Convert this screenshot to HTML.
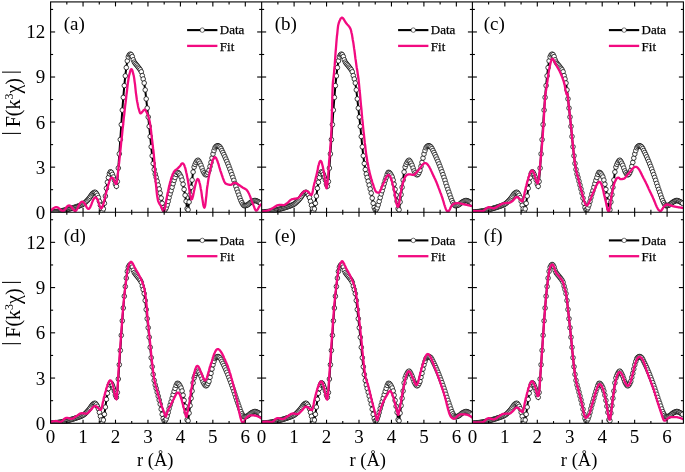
<!DOCTYPE html>
<html><head><meta charset="utf-8"><title>EXAFS fits</title>
<style>html,body{margin:0;padding:0;background:#fff}svg{display:block}</style>
</head><body>
<svg width="685" height="472" viewBox="0 0 685 472">
<rect width="685" height="472" fill="#fff"/>
<defs>
<clipPath id="cpa"><rect x="50.60" y="1.92" width="211.05" height="210.28"/></clipPath>
<clipPath id="cpb"><rect x="261.65" y="1.92" width="210.75" height="210.28"/></clipPath>
<clipPath id="cpc"><rect x="472.40" y="1.92" width="211.00" height="210.28"/></clipPath>
<clipPath id="cpd"><rect x="50.60" y="212.18" width="211.05" height="211.12"/></clipPath>
<clipPath id="cpe"><rect x="261.65" y="212.18" width="210.75" height="211.12"/></clipPath>
<clipPath id="cpf"><rect x="472.40" y="212.18" width="211.00" height="211.12"/></clipPath>
</defs>
<g clip-path="url(#cpa)">
<polyline points="50.6,212.2 51.6,212.1 52.6,212.0 53.6,211.9 54.6,211.8 55.6,211.7 56.6,211.6 57.6,211.5 58.6,211.3 59.6,211.2 60.6,211.0 61.6,210.8 62.6,210.6 63.6,210.4 64.5,210.2 65.5,210.0 66.5,209.7 67.5,209.5 68.5,209.2 69.5,208.9 70.5,208.6 71.5,208.3 72.5,208.0 73.5,207.7 74.5,207.4 75.5,207.1 76.5,206.7 77.5,206.4 78.5,206.1 79.5,205.7 80.5,205.3 81.5,204.9 82.5,204.4 83.5,203.8 84.5,203.1 85.5,202.2 86.5,201.2 87.5,200.2 88.5,199.0 89.5,197.9 90.4,196.5 91.4,195.0 92.4,193.7 93.4,192.9 94.4,192.3 95.4,192.4 96.4,193.5 97.4,195.3 98.4,197.6 99.4,201.3 100.4,205.3 101.4,208.8 102.4,211.7 103.4,208.9 104.4,203.3 105.4,196.1 106.4,188.3 107.4,182.2 108.4,177.6 109.4,173.7 110.4,171.8 111.4,172.4 112.4,174.4 113.4,177.0 114.4,180.1 115.4,184.0 116.4,186.3 117.3,181.5 118.3,168.1 119.3,153.9 120.3,139.6 121.3,124.6 122.3,110.1 123.3,97.4 124.3,85.6 125.3,75.9 126.3,67.6 127.3,60.9 128.3,56.9 129.3,54.9 130.3,54.1 131.3,54.7 132.3,56.6 133.3,59.8 134.3,62.1 135.3,63.5 136.3,64.7 137.3,65.9 138.3,67.2 139.3,68.4 140.3,69.8 141.3,71.8 142.3,75.6 143.2,79.0 144.2,83.0 145.2,89.9 146.2,98.9 147.2,108.1 148.2,117.0 149.2,126.4 150.2,136.5 151.2,146.8 152.2,155.8 153.2,163.5 154.2,169.5 155.2,174.0 156.2,177.4 157.2,181.2 158.2,185.1 159.2,189.0 160.2,193.1 161.2,198.1 162.2,203.3 163.2,207.5 164.2,209.8 165.2,209.6 166.2,207.8 167.2,204.9 168.2,201.4 169.1,197.6 170.1,193.9 171.1,190.7 172.1,187.2 173.1,183.7 174.1,180.4 175.1,177.5 176.1,174.4 177.1,172.4 178.1,172.5 179.1,173.5 180.1,175.1 181.1,177.0 182.1,180.1 183.1,184.2 184.1,189.4 185.1,195.2 186.1,201.3 187.1,208.7 188.1,209.8 189.1,202.0 190.1,194.6 191.1,187.3 192.1,180.0 193.1,172.0 194.1,167.1 195.1,164.4 196.0,162.5 197.0,160.9 198.0,160.2 199.0,161.3 200.0,163.2 201.0,165.3 202.0,168.1 203.0,170.9 204.0,172.8 205.0,174.3 206.0,174.9 207.0,174.3 208.0,172.6 209.0,170.3 210.0,166.4 211.0,162.4 212.0,158.1 213.0,154.0 214.0,150.6 215.0,147.8 216.0,146.5 217.0,145.8 218.0,145.7 219.0,146.2 220.0,147.0 221.0,148.5 221.9,150.5 222.9,152.5 223.9,154.6 224.9,156.8 225.9,159.1 226.9,161.4 227.9,163.9 228.9,166.4 229.9,169.1 230.9,171.8 231.9,174.6 232.9,177.4 233.9,180.3 234.9,183.4 235.9,186.4 236.9,189.4 237.9,192.2 238.9,195.1 239.9,198.0 240.9,200.6 241.9,202.7 242.9,204.4 243.9,205.6 244.9,205.7 245.9,205.5 246.9,205.2 247.9,204.7 248.8,203.9 249.8,203.1 250.8,202.3 251.8,201.7 252.8,201.2 253.8,200.7 254.8,200.5 255.8,200.6 256.8,201.0 257.8,201.5 258.8,202.0 259.8,202.6 260.8,203.3" fill="none" stroke="#000" stroke-width="2"/>
<g fill="#fff" stroke="#000" stroke-width="0.75">
<circle cx="50.6" cy="212.2" r="2.3"/>
<circle cx="51.6" cy="212.1" r="2.3"/>
<circle cx="52.6" cy="212.0" r="2.3"/>
<circle cx="53.6" cy="211.9" r="2.3"/>
<circle cx="54.6" cy="211.8" r="2.3"/>
<circle cx="55.6" cy="211.7" r="2.3"/>
<circle cx="56.6" cy="211.6" r="2.3"/>
<circle cx="57.6" cy="211.5" r="2.3"/>
<circle cx="58.6" cy="211.3" r="2.3"/>
<circle cx="59.6" cy="211.2" r="2.3"/>
<circle cx="60.6" cy="211.0" r="2.3"/>
<circle cx="61.6" cy="210.8" r="2.3"/>
<circle cx="62.6" cy="210.6" r="2.3"/>
<circle cx="63.6" cy="210.4" r="2.3"/>
<circle cx="64.5" cy="210.2" r="2.3"/>
<circle cx="65.5" cy="210.0" r="2.3"/>
<circle cx="66.5" cy="209.7" r="2.3"/>
<circle cx="67.5" cy="209.5" r="2.3"/>
<circle cx="68.5" cy="209.2" r="2.3"/>
<circle cx="69.5" cy="208.9" r="2.3"/>
<circle cx="70.5" cy="208.6" r="2.3"/>
<circle cx="71.5" cy="208.3" r="2.3"/>
<circle cx="72.5" cy="208.0" r="2.3"/>
<circle cx="73.5" cy="207.7" r="2.3"/>
<circle cx="74.5" cy="207.4" r="2.3"/>
<circle cx="75.5" cy="207.1" r="2.3"/>
<circle cx="76.5" cy="206.7" r="2.3"/>
<circle cx="77.5" cy="206.4" r="2.3"/>
<circle cx="78.5" cy="206.1" r="2.3"/>
<circle cx="79.5" cy="205.7" r="2.3"/>
<circle cx="80.5" cy="205.3" r="2.3"/>
<circle cx="81.5" cy="204.9" r="2.3"/>
<circle cx="82.5" cy="204.4" r="2.3"/>
<circle cx="83.5" cy="203.8" r="2.3"/>
<circle cx="84.5" cy="203.1" r="2.3"/>
<circle cx="85.5" cy="202.2" r="2.3"/>
<circle cx="86.5" cy="201.2" r="2.3"/>
<circle cx="87.5" cy="200.2" r="2.3"/>
<circle cx="88.5" cy="199.0" r="2.3"/>
<circle cx="89.5" cy="197.9" r="2.3"/>
<circle cx="90.4" cy="196.5" r="2.3"/>
<circle cx="91.4" cy="195.0" r="2.3"/>
<circle cx="92.4" cy="193.7" r="2.3"/>
<circle cx="93.4" cy="192.9" r="2.3"/>
<circle cx="94.4" cy="192.3" r="2.3"/>
<circle cx="95.4" cy="192.4" r="2.3"/>
<circle cx="96.4" cy="193.5" r="2.3"/>
<circle cx="97.4" cy="195.3" r="2.3"/>
<circle cx="98.4" cy="197.6" r="2.3"/>
<circle cx="99.4" cy="201.3" r="2.3"/>
<circle cx="100.4" cy="205.3" r="2.3"/>
<circle cx="101.4" cy="208.8" r="2.3"/>
<circle cx="102.4" cy="211.7" r="2.3"/>
<circle cx="103.4" cy="208.9" r="2.3"/>
<circle cx="104.4" cy="203.3" r="2.3"/>
<circle cx="105.4" cy="196.1" r="2.3"/>
<circle cx="106.4" cy="188.3" r="2.3"/>
<circle cx="107.4" cy="182.2" r="2.3"/>
<circle cx="108.4" cy="177.6" r="2.3"/>
<circle cx="109.4" cy="173.7" r="2.3"/>
<circle cx="110.4" cy="171.8" r="2.3"/>
<circle cx="111.4" cy="172.4" r="2.3"/>
<circle cx="112.4" cy="174.4" r="2.3"/>
<circle cx="113.4" cy="177.0" r="2.3"/>
<circle cx="114.4" cy="180.1" r="2.3"/>
<circle cx="115.4" cy="184.0" r="2.3"/>
<circle cx="116.4" cy="186.3" r="2.3"/>
<circle cx="117.3" cy="181.5" r="2.3"/>
<circle cx="118.3" cy="168.1" r="2.3"/>
<circle cx="119.3" cy="153.9" r="2.3"/>
<circle cx="120.3" cy="139.6" r="2.3"/>
<circle cx="121.3" cy="124.6" r="2.3"/>
<circle cx="122.3" cy="110.1" r="2.3"/>
<circle cx="123.3" cy="97.4" r="2.3"/>
<circle cx="124.3" cy="85.6" r="2.3"/>
<circle cx="125.3" cy="75.9" r="2.3"/>
<circle cx="126.3" cy="67.6" r="2.3"/>
<circle cx="127.3" cy="60.9" r="2.3"/>
<circle cx="128.3" cy="56.9" r="2.3"/>
<circle cx="129.3" cy="54.9" r="2.3"/>
<circle cx="130.3" cy="54.1" r="2.3"/>
<circle cx="131.3" cy="54.7" r="2.3"/>
<circle cx="132.3" cy="56.6" r="2.3"/>
<circle cx="133.3" cy="59.8" r="2.3"/>
<circle cx="134.3" cy="62.1" r="2.3"/>
<circle cx="135.3" cy="63.5" r="2.3"/>
<circle cx="136.3" cy="64.7" r="2.3"/>
<circle cx="137.3" cy="65.9" r="2.3"/>
<circle cx="138.3" cy="67.2" r="2.3"/>
<circle cx="139.3" cy="68.4" r="2.3"/>
<circle cx="140.3" cy="69.8" r="2.3"/>
<circle cx="141.3" cy="71.8" r="2.3"/>
<circle cx="142.3" cy="75.6" r="2.3"/>
<circle cx="143.2" cy="79.0" r="2.3"/>
<circle cx="144.2" cy="83.0" r="2.3"/>
<circle cx="145.2" cy="89.9" r="2.3"/>
<circle cx="146.2" cy="98.9" r="2.3"/>
<circle cx="147.2" cy="108.1" r="2.3"/>
<circle cx="148.2" cy="117.0" r="2.3"/>
<circle cx="149.2" cy="126.4" r="2.3"/>
<circle cx="150.2" cy="136.5" r="2.3"/>
<circle cx="151.2" cy="146.8" r="2.3"/>
<circle cx="152.2" cy="155.8" r="2.3"/>
<circle cx="153.2" cy="163.5" r="2.3"/>
<circle cx="154.2" cy="169.5" r="2.3"/>
<circle cx="155.2" cy="174.0" r="2.3"/>
<circle cx="156.2" cy="177.4" r="2.3"/>
<circle cx="157.2" cy="181.2" r="2.3"/>
<circle cx="158.2" cy="185.1" r="2.3"/>
<circle cx="159.2" cy="189.0" r="2.3"/>
<circle cx="160.2" cy="193.1" r="2.3"/>
<circle cx="161.2" cy="198.1" r="2.3"/>
<circle cx="162.2" cy="203.3" r="2.3"/>
<circle cx="163.2" cy="207.5" r="2.3"/>
<circle cx="164.2" cy="209.8" r="2.3"/>
<circle cx="165.2" cy="209.6" r="2.3"/>
<circle cx="166.2" cy="207.8" r="2.3"/>
<circle cx="167.2" cy="204.9" r="2.3"/>
<circle cx="168.2" cy="201.4" r="2.3"/>
<circle cx="169.1" cy="197.6" r="2.3"/>
<circle cx="170.1" cy="193.9" r="2.3"/>
<circle cx="171.1" cy="190.7" r="2.3"/>
<circle cx="172.1" cy="187.2" r="2.3"/>
<circle cx="173.1" cy="183.7" r="2.3"/>
<circle cx="174.1" cy="180.4" r="2.3"/>
<circle cx="175.1" cy="177.5" r="2.3"/>
<circle cx="176.1" cy="174.4" r="2.3"/>
<circle cx="177.1" cy="172.4" r="2.3"/>
<circle cx="178.1" cy="172.5" r="2.3"/>
<circle cx="179.1" cy="173.5" r="2.3"/>
<circle cx="180.1" cy="175.1" r="2.3"/>
<circle cx="181.1" cy="177.0" r="2.3"/>
<circle cx="182.1" cy="180.1" r="2.3"/>
<circle cx="183.1" cy="184.2" r="2.3"/>
<circle cx="184.1" cy="189.4" r="2.3"/>
<circle cx="185.1" cy="195.2" r="2.3"/>
<circle cx="186.1" cy="201.3" r="2.3"/>
<circle cx="187.1" cy="208.7" r="2.3"/>
<circle cx="188.1" cy="209.8" r="2.3"/>
<circle cx="189.1" cy="202.0" r="2.3"/>
<circle cx="190.1" cy="194.6" r="2.3"/>
<circle cx="191.1" cy="187.3" r="2.3"/>
<circle cx="192.1" cy="180.0" r="2.3"/>
<circle cx="193.1" cy="172.0" r="2.3"/>
<circle cx="194.1" cy="167.1" r="2.3"/>
<circle cx="195.1" cy="164.4" r="2.3"/>
<circle cx="196.0" cy="162.5" r="2.3"/>
<circle cx="197.0" cy="160.9" r="2.3"/>
<circle cx="198.0" cy="160.2" r="2.3"/>
<circle cx="199.0" cy="161.3" r="2.3"/>
<circle cx="200.0" cy="163.2" r="2.3"/>
<circle cx="201.0" cy="165.3" r="2.3"/>
<circle cx="202.0" cy="168.1" r="2.3"/>
<circle cx="203.0" cy="170.9" r="2.3"/>
<circle cx="204.0" cy="172.8" r="2.3"/>
<circle cx="205.0" cy="174.3" r="2.3"/>
<circle cx="206.0" cy="174.9" r="2.3"/>
<circle cx="207.0" cy="174.3" r="2.3"/>
<circle cx="208.0" cy="172.6" r="2.3"/>
<circle cx="209.0" cy="170.3" r="2.3"/>
<circle cx="210.0" cy="166.4" r="2.3"/>
<circle cx="211.0" cy="162.4" r="2.3"/>
<circle cx="212.0" cy="158.1" r="2.3"/>
<circle cx="213.0" cy="154.0" r="2.3"/>
<circle cx="214.0" cy="150.6" r="2.3"/>
<circle cx="215.0" cy="147.8" r="2.3"/>
<circle cx="216.0" cy="146.5" r="2.3"/>
<circle cx="217.0" cy="145.8" r="2.3"/>
<circle cx="218.0" cy="145.7" r="2.3"/>
<circle cx="219.0" cy="146.2" r="2.3"/>
<circle cx="220.0" cy="147.0" r="2.3"/>
<circle cx="221.0" cy="148.5" r="2.3"/>
<circle cx="221.9" cy="150.5" r="2.3"/>
<circle cx="222.9" cy="152.5" r="2.3"/>
<circle cx="223.9" cy="154.6" r="2.3"/>
<circle cx="224.9" cy="156.8" r="2.3"/>
<circle cx="225.9" cy="159.1" r="2.3"/>
<circle cx="226.9" cy="161.4" r="2.3"/>
<circle cx="227.9" cy="163.9" r="2.3"/>
<circle cx="228.9" cy="166.4" r="2.3"/>
<circle cx="229.9" cy="169.1" r="2.3"/>
<circle cx="230.9" cy="171.8" r="2.3"/>
<circle cx="231.9" cy="174.6" r="2.3"/>
<circle cx="232.9" cy="177.4" r="2.3"/>
<circle cx="233.9" cy="180.3" r="2.3"/>
<circle cx="234.9" cy="183.4" r="2.3"/>
<circle cx="235.9" cy="186.4" r="2.3"/>
<circle cx="236.9" cy="189.4" r="2.3"/>
<circle cx="237.9" cy="192.2" r="2.3"/>
<circle cx="238.9" cy="195.1" r="2.3"/>
<circle cx="239.9" cy="198.0" r="2.3"/>
<circle cx="240.9" cy="200.6" r="2.3"/>
<circle cx="241.9" cy="202.7" r="2.3"/>
<circle cx="242.9" cy="204.4" r="2.3"/>
<circle cx="243.9" cy="205.6" r="2.3"/>
<circle cx="244.9" cy="205.7" r="2.3"/>
<circle cx="245.9" cy="205.5" r="2.3"/>
<circle cx="246.9" cy="205.2" r="2.3"/>
<circle cx="247.9" cy="204.7" r="2.3"/>
<circle cx="248.8" cy="203.9" r="2.3"/>
<circle cx="249.8" cy="203.1" r="2.3"/>
<circle cx="250.8" cy="202.3" r="2.3"/>
<circle cx="251.8" cy="201.7" r="2.3"/>
<circle cx="252.8" cy="201.2" r="2.3"/>
<circle cx="253.8" cy="200.7" r="2.3"/>
<circle cx="254.8" cy="200.5" r="2.3"/>
<circle cx="255.8" cy="200.6" r="2.3"/>
<circle cx="256.8" cy="201.0" r="2.3"/>
<circle cx="257.8" cy="201.5" r="2.3"/>
<circle cx="258.8" cy="202.0" r="2.3"/>
<circle cx="259.8" cy="202.6" r="2.3"/>
<circle cx="260.8" cy="203.3" r="2.3"/>
</g>
<polyline points="50.6,211.0 50.9,210.6 51.2,210.2 51.6,209.9 51.9,209.5 52.2,209.2 52.5,208.9 52.9,208.7 53.2,208.4 53.5,208.2 53.8,208.0 54.2,207.8 54.5,207.6 54.8,207.5 55.1,207.4 55.5,207.3 55.8,207.2 56.1,207.2 56.4,207.2 56.8,207.2 57.1,207.3 57.4,207.4 57.7,207.5 58.1,207.6 58.4,207.8 58.7,208.0 59.0,208.3 59.4,208.6 59.7,208.9 60.0,209.2 60.3,209.5 60.7,209.8 61.0,210.1 61.3,210.3 61.6,210.6 62.0,210.7 62.3,210.9 62.6,211.0 62.9,211.0 63.3,210.9 63.6,210.8 63.9,210.6 64.2,210.3 64.6,209.9 64.9,209.5 65.2,209.1 65.5,208.6 65.9,208.2 66.2,207.7 66.5,207.2 66.8,206.7 67.1,206.4 67.5,206.1 67.8,205.9 68.1,205.7 68.4,205.6 68.8,205.5 69.1,205.4 69.4,205.5 69.7,205.6 70.1,205.7 70.4,205.9 70.7,206.1 71.0,206.4 71.4,206.7 71.7,207.2 72.0,207.7 72.3,208.2 72.7,208.6 73.0,209.1 73.3,209.5 73.6,209.9 74.0,210.3 74.3,210.6 74.6,210.8 74.9,210.9 75.3,211.0 75.6,210.9 75.9,210.7 76.2,210.4 76.6,210.0 76.9,209.5 77.2,209.0 77.5,208.3 77.9,207.7 78.2,207.0 78.5,206.3 78.8,205.5 79.2,204.8 79.5,204.2 79.8,203.7 80.1,203.2 80.5,202.8 80.8,202.4 81.1,202.1 81.4,201.9 81.8,201.8 82.1,201.7 82.4,201.7 82.7,201.8 83.1,202.0 83.4,202.2 83.7,202.5 84.0,202.8 84.3,203.2 84.7,203.6 85.0,204.2 85.3,204.8 85.6,205.4 86.0,206.0 86.3,206.6 86.6,207.1 86.9,207.6 87.3,208.1 87.6,208.4 87.9,208.7 88.2,208.8 88.6,208.9 88.9,208.8 89.2,208.6 89.5,208.2 89.9,207.8 90.2,207.2 90.5,206.5 90.8,205.8 91.2,205.0 91.5,204.2 91.8,203.3 92.1,202.4 92.5,201.5 92.8,200.7 93.1,200.1 93.4,199.5 93.8,198.9 94.1,198.4 94.4,198.0 94.7,197.7 95.1,197.5 95.4,197.5 95.7,197.5 96.0,197.6 96.4,197.9 96.7,198.3 97.0,198.8 97.3,199.3 97.7,200.0 98.0,200.7 98.3,201.6 98.6,202.7 99.0,203.7 99.3,204.8 99.6,205.7 99.9,206.6 100.2,207.3 100.6,207.8 100.9,208.2 101.2,208.3 101.5,208.2 101.9,207.9 102.2,207.3 102.5,206.7 102.8,205.8 103.2,204.8 103.5,203.7 103.8,202.6 104.1,201.3 104.5,199.9 104.8,198.6 105.1,197.2 105.4,195.7 105.8,194.3 106.1,193.0 106.4,191.7 106.7,190.5 107.1,189.2 107.4,188.2 107.7,187.1 108.0,185.9 108.4,184.7 108.7,183.5 109.0,182.5 109.3,181.5 109.7,180.6 110.0,179.8 110.3,179.1 110.6,178.6 111.0,178.1 111.3,177.8 111.6,177.7 111.9,177.6 112.3,177.7 112.6,178.0 112.9,178.3 113.2,178.6 113.6,179.0 113.9,179.9 114.2,180.8 114.5,181.7 114.9,182.4 115.2,183.1 115.5,183.6 115.8,184.0 116.1,184.1 116.5,183.6 116.8,182.3 117.1,180.2 117.4,177.6 117.8,174.8 118.1,171.7 118.4,168.7 118.7,165.9 119.1,163.2 119.4,160.2 119.7,157.1 120.0,153.9 120.4,150.7 120.7,147.6 121.0,144.6 121.3,141.5 121.7,138.5 122.0,135.4 122.3,132.3 122.6,129.2 123.0,126.2 123.3,123.1 123.6,120.1 123.9,117.1 124.3,114.1 124.6,111.2 124.9,108.3 125.2,105.5 125.6,102.7 125.9,100.0 126.2,97.3 126.5,94.5 126.9,91.6 127.2,88.8 127.5,86.1 127.8,83.5 128.2,81.0 128.5,78.9 128.8,77.0 129.1,75.5 129.5,74.2 129.8,72.9 130.1,71.7 130.4,70.6 130.8,69.8 131.1,69.3 131.4,69.1 131.7,69.3 132.0,69.8 132.4,70.6 132.7,71.7 133.0,72.9 133.3,74.2 133.7,75.5 134.0,77.1 134.3,79.1 134.6,81.6 135.0,84.2 135.3,87.1 135.6,90.0 135.9,92.8 136.3,95.5 136.6,97.9 136.9,100.0 137.2,101.8 137.6,103.6 137.9,105.3 138.2,106.8 138.5,108.1 138.9,109.3 139.2,110.4 139.5,111.5 139.8,112.4 140.2,113.1 140.5,113.4 140.8,113.3 141.1,113.1 141.5,112.8 141.8,112.4 142.1,112.0 142.4,111.6 142.8,111.3 143.1,110.9 143.4,110.6 143.7,110.2 144.1,109.9 144.4,109.7 144.7,109.6 145.0,109.7 145.4,110.0 145.7,110.5 146.0,111.1 146.3,111.7 146.7,112.4 147.0,113.1 147.3,113.8 147.6,114.5 148.0,115.4 148.3,116.3 148.6,117.3 148.9,118.4 149.2,119.7 149.6,121.0 149.9,122.7 150.2,124.6 150.5,126.9 150.9,129.5 151.2,132.2 151.5,135.0 151.8,137.9 152.2,140.7 152.5,143.4 152.8,146.0 153.1,148.7 153.5,151.5 153.8,154.5 154.1,157.8 154.4,161.6 154.8,166.9 155.1,173.0 155.4,178.1 155.7,181.9 156.1,185.6 156.4,189.0 156.7,192.2 157.0,194.9 157.4,197.3 157.7,199.1 158.0,200.5 158.3,201.5 158.7,202.3 159.0,203.0 159.3,203.6 159.6,204.1 160.0,204.6 160.3,205.1 160.6,205.6 160.9,206.2 161.3,206.8 161.6,207.5 161.9,208.2 162.2,208.9 162.6,209.6 162.9,210.1 163.2,210.6 163.5,210.9 163.9,211.0 164.2,210.7 164.5,210.0 164.8,208.8 165.1,207.3 165.5,205.6 165.8,203.6 166.1,201.5 166.4,199.5 166.8,197.5 167.1,195.9 167.4,194.3 167.7,192.7 168.1,191.2 168.4,189.7 168.7,188.2 169.0,186.8 169.4,185.4 169.7,184.0 170.0,182.8 170.3,181.5 170.7,180.3 171.0,179.2 171.3,178.1 171.6,177.1 172.0,176.1 172.3,175.2 172.6,174.4 172.9,173.7 173.3,173.0 173.6,172.4 173.9,171.9 174.2,171.4 174.6,171.0 174.9,170.6 175.2,170.3 175.5,170.1 175.9,169.8 176.2,169.6 176.5,169.4 176.8,169.1 177.2,168.8 177.5,168.5 177.8,168.2 178.1,168.0 178.5,167.7 178.8,167.4 179.1,167.1 179.4,166.7 179.8,166.4 180.1,166.0 180.4,165.6 180.7,165.2 181.0,164.5 181.4,163.9 181.7,163.7 182.0,163.5 182.3,163.4 182.7,163.4 183.0,163.5 183.3,163.7 183.6,164.1 184.0,164.7 184.3,165.4 184.6,166.2 184.9,167.1 185.3,168.2 185.6,169.4 185.9,170.8 186.2,172.2 186.6,173.7 186.9,175.3 187.2,176.9 187.5,178.6 187.9,180.4 188.2,182.2 188.5,184.0 188.8,186.3 189.2,188.5 189.5,190.8 189.8,192.9 190.1,194.8 190.5,196.5 190.8,197.9 191.1,198.8 191.4,199.4 191.8,199.4 192.1,199.0 192.4,198.2 192.7,197.1 193.1,195.8 193.4,194.3 193.7,192.8 194.0,191.1 194.4,189.5 194.7,188.0 195.0,186.7 195.3,185.2 195.7,183.7 196.0,182.5 196.3,181.5 196.6,180.6 196.9,179.8 197.3,179.3 197.6,179.0 197.9,179.0 198.2,179.3 198.6,179.8 198.9,180.5 199.2,181.5 199.5,182.7 199.9,184.1 200.2,185.6 200.5,187.2 200.8,188.9 201.2,190.7 201.5,192.7 201.8,195.0 202.1,197.3 202.5,199.6 202.8,201.7 203.1,203.7 203.4,205.3 203.8,206.6 204.1,207.4 204.4,207.7 204.7,207.2 205.1,206.0 205.4,204.1 205.7,201.6 206.0,198.7 206.4,195.6 206.7,192.3 207.0,189.0 207.3,186.7 207.7,184.4 208.0,182.2 208.3,180.1 208.6,178.0 209.0,176.0 209.3,174.2 209.6,172.5 209.9,170.9 210.3,169.3 210.6,167.9 210.9,166.5 211.2,165.2 211.6,164.0 211.9,162.9 212.2,161.8 212.5,160.8 212.8,159.9 213.2,159.2 213.5,158.5 213.8,157.9 214.1,157.5 214.5,157.3 214.8,157.1 215.1,157.2 215.4,157.4 215.8,157.7 216.1,158.2 216.4,158.7 216.7,159.4 217.1,160.2 217.4,161.0 217.7,161.9 218.0,162.9 218.4,163.8 218.7,164.9 219.0,166.0 219.3,167.1 219.7,168.3 220.0,169.4 220.3,170.5 220.6,171.5 221.0,172.4 221.3,173.3 221.6,174.2 221.9,175.2 222.3,176.2 222.6,177.1 222.9,178.1 223.2,179.0 223.6,179.8 223.9,180.7 224.2,181.4 224.5,182.1 224.9,182.6 225.2,183.1 225.5,183.4 225.8,183.7 226.2,183.8 226.5,183.9 226.8,184.1 227.1,184.2 227.5,184.3 227.8,184.4 228.1,184.5 228.4,184.6 228.8,184.6 229.1,184.7 229.4,184.8 229.7,184.8 230.0,184.8 230.4,184.9 230.7,184.9 231.0,184.8 231.3,184.7 231.7,184.5 232.0,184.3 232.3,184.0 232.6,183.8 233.0,183.5 233.3,183.2 233.6,183.1 233.9,183.0 234.3,183.0 234.6,182.9 234.9,182.9 235.2,182.9 235.6,183.0 235.9,183.1 236.2,183.2 236.5,183.4 236.9,183.6 237.2,183.8 237.5,184.0 237.8,184.2 238.2,184.4 238.5,184.7 238.8,184.9 239.1,185.1 239.5,185.3 239.8,185.5 240.1,185.7 240.4,186.0 240.8,186.2 241.1,186.4 241.4,186.7 241.7,186.9 242.1,187.1 242.4,187.4 242.7,187.6 243.0,187.8 243.4,187.9 243.7,188.1 244.0,188.3 244.3,188.4 244.7,188.6 245.0,188.8 245.3,188.9 245.6,189.1 245.9,189.3 246.3,189.6 246.6,189.9 246.9,190.3 247.2,190.7 247.6,191.1 247.9,191.6 248.2,192.2 248.5,192.8 248.9,193.4 249.2,194.1 249.5,194.9 249.8,195.6 250.2,196.5 250.5,197.4 250.8,198.4 251.1,199.3 251.5,200.2 251.8,201.1 252.1,201.9 252.4,202.7 252.8,203.4 253.1,204.2 253.4,205.1 253.7,205.9 254.1,206.8 254.4,207.7 254.7,208.5 255.0,209.2 255.4,209.8 255.7,210.3 256.0,210.6 256.3,210.7 256.7,210.6 257.0,210.4 257.3,210.0 257.6,209.5 258.0,209.0 258.3,208.3 258.6,207.7 258.9,207.1 259.3,206.5 259.6,206.0 259.9,205.6 260.2,205.2 260.6,204.9 260.9,204.5 261.2,204.3 261.5,204.0" fill="none" stroke="#f20a80" stroke-width="2.3" stroke-linejoin="round"/>
</g>
<g clip-path="url(#cpb)">
<polyline points="261.6,212.2 262.6,212.1 263.6,212.0 264.6,211.9 265.6,211.8 266.6,211.7 267.6,211.6 268.6,211.5 269.6,211.3 270.6,211.2 271.6,211.0 272.6,210.8 273.6,210.6 274.6,210.4 275.6,210.2 276.6,210.0 277.6,209.7 278.6,209.5 279.6,209.2 280.6,208.9 281.6,208.6 282.6,208.3 283.6,208.0 284.6,207.7 285.6,207.4 286.6,207.1 287.6,206.7 288.5,206.4 289.5,206.1 290.5,205.7 291.5,205.3 292.5,204.9 293.5,204.4 294.5,203.8 295.5,203.1 296.5,202.2 297.5,201.2 298.5,200.2 299.5,199.0 300.5,197.9 301.5,196.5 302.5,195.0 303.5,193.7 304.5,192.9 305.5,192.3 306.5,192.4 307.5,193.5 308.5,195.3 309.5,197.6 310.5,201.3 311.5,205.3 312.5,208.8 313.5,211.7 314.4,208.9 315.4,203.3 316.4,196.1 317.4,188.3 318.4,182.2 319.4,177.6 320.4,173.7 321.4,171.8 322.4,172.4 323.4,174.4 324.4,177.0 325.4,180.1 326.4,184.0 327.4,186.3 328.4,181.5 329.4,168.1 330.4,153.9 331.4,139.6 332.4,124.6 333.4,110.1 334.4,97.4 335.4,85.6 336.4,75.9 337.4,67.6 338.4,60.9 339.4,56.9 340.4,54.9 341.3,54.1 342.3,54.7 343.3,56.6 344.3,59.8 345.3,62.1 346.3,63.5 347.3,64.7 348.3,65.9 349.3,67.2 350.3,68.4 351.3,69.8 352.3,71.8 353.3,75.6 354.3,79.0 355.3,83.0 356.3,89.9 357.3,98.9 358.3,108.1 359.3,117.0 360.3,126.4 361.3,136.5 362.3,146.8 363.3,155.8 364.3,163.5 365.3,169.5 366.3,174.0 367.2,177.4 368.2,181.2 369.2,185.1 370.2,189.0 371.2,193.1 372.2,198.1 373.2,203.3 374.2,207.5 375.2,209.8 376.2,209.6 377.2,207.8 378.2,204.9 379.2,201.4 380.2,197.6 381.2,193.9 382.2,190.7 383.2,187.2 384.2,183.7 385.2,180.4 386.2,177.5 387.2,174.4 388.2,172.4 389.2,172.5 390.2,173.5 391.2,175.1 392.2,177.0 393.2,180.1 394.1,184.2 395.1,189.4 396.1,195.2 397.1,201.3 398.1,208.7 399.1,209.8 400.1,202.0 401.1,194.6 402.1,187.3 403.1,180.0 404.1,172.0 405.1,167.1 406.1,164.4 407.1,162.5 408.1,160.9 409.1,160.2 410.1,161.3 411.1,163.2 412.1,165.3 413.1,168.1 414.1,170.9 415.1,172.8 416.1,174.3 417.1,174.9 418.1,174.3 419.1,172.6 420.0,170.3 421.0,166.4 422.0,162.4 423.0,158.1 424.0,154.0 425.0,150.6 426.0,147.8 427.0,146.5 428.0,145.8 429.0,145.7 430.0,146.2 431.0,147.0 432.0,148.5 433.0,150.5 434.0,152.5 435.0,154.6 436.0,156.8 437.0,159.1 438.0,161.4 439.0,163.9 440.0,166.4 441.0,169.1 442.0,171.8 443.0,174.6 444.0,177.4 445.0,180.3 445.9,183.4 446.9,186.4 447.9,189.4 448.9,192.2 449.9,195.1 450.9,198.0 451.9,200.6 452.9,202.7 453.9,204.4 454.9,205.6 455.9,205.7 456.9,205.5 457.9,205.2 458.9,204.7 459.9,203.9 460.9,203.1 461.9,202.3 462.9,201.7 463.9,201.2 464.9,200.7 465.9,200.5 466.9,200.6 467.9,201.0 468.9,201.5 469.9,202.0 470.9,202.6 471.9,203.3" fill="none" stroke="#000" stroke-width="2"/>
<g fill="#fff" stroke="#000" stroke-width="0.75">
<circle cx="261.6" cy="212.2" r="2.3"/>
<circle cx="262.6" cy="212.1" r="2.3"/>
<circle cx="263.6" cy="212.0" r="2.3"/>
<circle cx="264.6" cy="211.9" r="2.3"/>
<circle cx="265.6" cy="211.8" r="2.3"/>
<circle cx="266.6" cy="211.7" r="2.3"/>
<circle cx="267.6" cy="211.6" r="2.3"/>
<circle cx="268.6" cy="211.5" r="2.3"/>
<circle cx="269.6" cy="211.3" r="2.3"/>
<circle cx="270.6" cy="211.2" r="2.3"/>
<circle cx="271.6" cy="211.0" r="2.3"/>
<circle cx="272.6" cy="210.8" r="2.3"/>
<circle cx="273.6" cy="210.6" r="2.3"/>
<circle cx="274.6" cy="210.4" r="2.3"/>
<circle cx="275.6" cy="210.2" r="2.3"/>
<circle cx="276.6" cy="210.0" r="2.3"/>
<circle cx="277.6" cy="209.7" r="2.3"/>
<circle cx="278.6" cy="209.5" r="2.3"/>
<circle cx="279.6" cy="209.2" r="2.3"/>
<circle cx="280.6" cy="208.9" r="2.3"/>
<circle cx="281.6" cy="208.6" r="2.3"/>
<circle cx="282.6" cy="208.3" r="2.3"/>
<circle cx="283.6" cy="208.0" r="2.3"/>
<circle cx="284.6" cy="207.7" r="2.3"/>
<circle cx="285.6" cy="207.4" r="2.3"/>
<circle cx="286.6" cy="207.1" r="2.3"/>
<circle cx="287.6" cy="206.7" r="2.3"/>
<circle cx="288.5" cy="206.4" r="2.3"/>
<circle cx="289.5" cy="206.1" r="2.3"/>
<circle cx="290.5" cy="205.7" r="2.3"/>
<circle cx="291.5" cy="205.3" r="2.3"/>
<circle cx="292.5" cy="204.9" r="2.3"/>
<circle cx="293.5" cy="204.4" r="2.3"/>
<circle cx="294.5" cy="203.8" r="2.3"/>
<circle cx="295.5" cy="203.1" r="2.3"/>
<circle cx="296.5" cy="202.2" r="2.3"/>
<circle cx="297.5" cy="201.2" r="2.3"/>
<circle cx="298.5" cy="200.2" r="2.3"/>
<circle cx="299.5" cy="199.0" r="2.3"/>
<circle cx="300.5" cy="197.9" r="2.3"/>
<circle cx="301.5" cy="196.5" r="2.3"/>
<circle cx="302.5" cy="195.0" r="2.3"/>
<circle cx="303.5" cy="193.7" r="2.3"/>
<circle cx="304.5" cy="192.9" r="2.3"/>
<circle cx="305.5" cy="192.3" r="2.3"/>
<circle cx="306.5" cy="192.4" r="2.3"/>
<circle cx="307.5" cy="193.5" r="2.3"/>
<circle cx="308.5" cy="195.3" r="2.3"/>
<circle cx="309.5" cy="197.6" r="2.3"/>
<circle cx="310.5" cy="201.3" r="2.3"/>
<circle cx="311.5" cy="205.3" r="2.3"/>
<circle cx="312.5" cy="208.8" r="2.3"/>
<circle cx="313.5" cy="211.7" r="2.3"/>
<circle cx="314.4" cy="208.9" r="2.3"/>
<circle cx="315.4" cy="203.3" r="2.3"/>
<circle cx="316.4" cy="196.1" r="2.3"/>
<circle cx="317.4" cy="188.3" r="2.3"/>
<circle cx="318.4" cy="182.2" r="2.3"/>
<circle cx="319.4" cy="177.6" r="2.3"/>
<circle cx="320.4" cy="173.7" r="2.3"/>
<circle cx="321.4" cy="171.8" r="2.3"/>
<circle cx="322.4" cy="172.4" r="2.3"/>
<circle cx="323.4" cy="174.4" r="2.3"/>
<circle cx="324.4" cy="177.0" r="2.3"/>
<circle cx="325.4" cy="180.1" r="2.3"/>
<circle cx="326.4" cy="184.0" r="2.3"/>
<circle cx="327.4" cy="186.3" r="2.3"/>
<circle cx="328.4" cy="181.5" r="2.3"/>
<circle cx="329.4" cy="168.1" r="2.3"/>
<circle cx="330.4" cy="153.9" r="2.3"/>
<circle cx="331.4" cy="139.6" r="2.3"/>
<circle cx="332.4" cy="124.6" r="2.3"/>
<circle cx="333.4" cy="110.1" r="2.3"/>
<circle cx="334.4" cy="97.4" r="2.3"/>
<circle cx="335.4" cy="85.6" r="2.3"/>
<circle cx="336.4" cy="75.9" r="2.3"/>
<circle cx="337.4" cy="67.6" r="2.3"/>
<circle cx="338.4" cy="60.9" r="2.3"/>
<circle cx="339.4" cy="56.9" r="2.3"/>
<circle cx="340.4" cy="54.9" r="2.3"/>
<circle cx="341.3" cy="54.1" r="2.3"/>
<circle cx="342.3" cy="54.7" r="2.3"/>
<circle cx="343.3" cy="56.6" r="2.3"/>
<circle cx="344.3" cy="59.8" r="2.3"/>
<circle cx="345.3" cy="62.1" r="2.3"/>
<circle cx="346.3" cy="63.5" r="2.3"/>
<circle cx="347.3" cy="64.7" r="2.3"/>
<circle cx="348.3" cy="65.9" r="2.3"/>
<circle cx="349.3" cy="67.2" r="2.3"/>
<circle cx="350.3" cy="68.4" r="2.3"/>
<circle cx="351.3" cy="69.8" r="2.3"/>
<circle cx="352.3" cy="71.8" r="2.3"/>
<circle cx="353.3" cy="75.6" r="2.3"/>
<circle cx="354.3" cy="79.0" r="2.3"/>
<circle cx="355.3" cy="83.0" r="2.3"/>
<circle cx="356.3" cy="89.9" r="2.3"/>
<circle cx="357.3" cy="98.9" r="2.3"/>
<circle cx="358.3" cy="108.1" r="2.3"/>
<circle cx="359.3" cy="117.0" r="2.3"/>
<circle cx="360.3" cy="126.4" r="2.3"/>
<circle cx="361.3" cy="136.5" r="2.3"/>
<circle cx="362.3" cy="146.8" r="2.3"/>
<circle cx="363.3" cy="155.8" r="2.3"/>
<circle cx="364.3" cy="163.5" r="2.3"/>
<circle cx="365.3" cy="169.5" r="2.3"/>
<circle cx="366.3" cy="174.0" r="2.3"/>
<circle cx="367.2" cy="177.4" r="2.3"/>
<circle cx="368.2" cy="181.2" r="2.3"/>
<circle cx="369.2" cy="185.1" r="2.3"/>
<circle cx="370.2" cy="189.0" r="2.3"/>
<circle cx="371.2" cy="193.1" r="2.3"/>
<circle cx="372.2" cy="198.1" r="2.3"/>
<circle cx="373.2" cy="203.3" r="2.3"/>
<circle cx="374.2" cy="207.5" r="2.3"/>
<circle cx="375.2" cy="209.8" r="2.3"/>
<circle cx="376.2" cy="209.6" r="2.3"/>
<circle cx="377.2" cy="207.8" r="2.3"/>
<circle cx="378.2" cy="204.9" r="2.3"/>
<circle cx="379.2" cy="201.4" r="2.3"/>
<circle cx="380.2" cy="197.6" r="2.3"/>
<circle cx="381.2" cy="193.9" r="2.3"/>
<circle cx="382.2" cy="190.7" r="2.3"/>
<circle cx="383.2" cy="187.2" r="2.3"/>
<circle cx="384.2" cy="183.7" r="2.3"/>
<circle cx="385.2" cy="180.4" r="2.3"/>
<circle cx="386.2" cy="177.5" r="2.3"/>
<circle cx="387.2" cy="174.4" r="2.3"/>
<circle cx="388.2" cy="172.4" r="2.3"/>
<circle cx="389.2" cy="172.5" r="2.3"/>
<circle cx="390.2" cy="173.5" r="2.3"/>
<circle cx="391.2" cy="175.1" r="2.3"/>
<circle cx="392.2" cy="177.0" r="2.3"/>
<circle cx="393.2" cy="180.1" r="2.3"/>
<circle cx="394.1" cy="184.2" r="2.3"/>
<circle cx="395.1" cy="189.4" r="2.3"/>
<circle cx="396.1" cy="195.2" r="2.3"/>
<circle cx="397.1" cy="201.3" r="2.3"/>
<circle cx="398.1" cy="208.7" r="2.3"/>
<circle cx="399.1" cy="209.8" r="2.3"/>
<circle cx="400.1" cy="202.0" r="2.3"/>
<circle cx="401.1" cy="194.6" r="2.3"/>
<circle cx="402.1" cy="187.3" r="2.3"/>
<circle cx="403.1" cy="180.0" r="2.3"/>
<circle cx="404.1" cy="172.0" r="2.3"/>
<circle cx="405.1" cy="167.1" r="2.3"/>
<circle cx="406.1" cy="164.4" r="2.3"/>
<circle cx="407.1" cy="162.5" r="2.3"/>
<circle cx="408.1" cy="160.9" r="2.3"/>
<circle cx="409.1" cy="160.2" r="2.3"/>
<circle cx="410.1" cy="161.3" r="2.3"/>
<circle cx="411.1" cy="163.2" r="2.3"/>
<circle cx="412.1" cy="165.3" r="2.3"/>
<circle cx="413.1" cy="168.1" r="2.3"/>
<circle cx="414.1" cy="170.9" r="2.3"/>
<circle cx="415.1" cy="172.8" r="2.3"/>
<circle cx="416.1" cy="174.3" r="2.3"/>
<circle cx="417.1" cy="174.9" r="2.3"/>
<circle cx="418.1" cy="174.3" r="2.3"/>
<circle cx="419.1" cy="172.6" r="2.3"/>
<circle cx="420.0" cy="170.3" r="2.3"/>
<circle cx="421.0" cy="166.4" r="2.3"/>
<circle cx="422.0" cy="162.4" r="2.3"/>
<circle cx="423.0" cy="158.1" r="2.3"/>
<circle cx="424.0" cy="154.0" r="2.3"/>
<circle cx="425.0" cy="150.6" r="2.3"/>
<circle cx="426.0" cy="147.8" r="2.3"/>
<circle cx="427.0" cy="146.5" r="2.3"/>
<circle cx="428.0" cy="145.8" r="2.3"/>
<circle cx="429.0" cy="145.7" r="2.3"/>
<circle cx="430.0" cy="146.2" r="2.3"/>
<circle cx="431.0" cy="147.0" r="2.3"/>
<circle cx="432.0" cy="148.5" r="2.3"/>
<circle cx="433.0" cy="150.5" r="2.3"/>
<circle cx="434.0" cy="152.5" r="2.3"/>
<circle cx="435.0" cy="154.6" r="2.3"/>
<circle cx="436.0" cy="156.8" r="2.3"/>
<circle cx="437.0" cy="159.1" r="2.3"/>
<circle cx="438.0" cy="161.4" r="2.3"/>
<circle cx="439.0" cy="163.9" r="2.3"/>
<circle cx="440.0" cy="166.4" r="2.3"/>
<circle cx="441.0" cy="169.1" r="2.3"/>
<circle cx="442.0" cy="171.8" r="2.3"/>
<circle cx="443.0" cy="174.6" r="2.3"/>
<circle cx="444.0" cy="177.4" r="2.3"/>
<circle cx="445.0" cy="180.3" r="2.3"/>
<circle cx="445.9" cy="183.4" r="2.3"/>
<circle cx="446.9" cy="186.4" r="2.3"/>
<circle cx="447.9" cy="189.4" r="2.3"/>
<circle cx="448.9" cy="192.2" r="2.3"/>
<circle cx="449.9" cy="195.1" r="2.3"/>
<circle cx="450.9" cy="198.0" r="2.3"/>
<circle cx="451.9" cy="200.6" r="2.3"/>
<circle cx="452.9" cy="202.7" r="2.3"/>
<circle cx="453.9" cy="204.4" r="2.3"/>
<circle cx="454.9" cy="205.6" r="2.3"/>
<circle cx="455.9" cy="205.7" r="2.3"/>
<circle cx="456.9" cy="205.5" r="2.3"/>
<circle cx="457.9" cy="205.2" r="2.3"/>
<circle cx="458.9" cy="204.7" r="2.3"/>
<circle cx="459.9" cy="203.9" r="2.3"/>
<circle cx="460.9" cy="203.1" r="2.3"/>
<circle cx="461.9" cy="202.3" r="2.3"/>
<circle cx="462.9" cy="201.7" r="2.3"/>
<circle cx="463.9" cy="201.2" r="2.3"/>
<circle cx="464.9" cy="200.7" r="2.3"/>
<circle cx="465.9" cy="200.5" r="2.3"/>
<circle cx="466.9" cy="200.6" r="2.3"/>
<circle cx="467.9" cy="201.0" r="2.3"/>
<circle cx="468.9" cy="201.5" r="2.3"/>
<circle cx="469.9" cy="202.0" r="2.3"/>
<circle cx="470.9" cy="202.6" r="2.3"/>
<circle cx="471.9" cy="203.3" r="2.3"/>
</g>
<polyline points="261.6,211.4 262.0,211.4 262.3,211.4 262.6,211.4 262.9,211.4 263.3,211.4 263.6,211.3 263.9,211.3 264.2,211.2 264.6,211.2 264.9,211.1 265.2,211.1 265.5,211.0 265.9,210.9 266.2,210.9 266.5,210.8 266.8,210.7 267.2,210.6 267.5,210.6 267.8,210.5 268.1,210.4 268.5,210.3 268.8,210.2 269.1,210.1 269.4,209.9 269.8,209.8 270.1,209.6 270.4,209.4 270.7,209.2 271.1,209.0 271.4,208.8 271.7,208.6 272.0,208.4 272.4,208.3 272.7,208.1 273.0,207.9 273.3,207.7 273.7,207.5 274.0,207.3 274.3,207.1 274.6,206.9 275.0,206.7 275.3,206.5 275.6,206.3 275.9,206.1 276.3,205.9 276.6,205.7 276.9,205.6 277.2,205.4 277.6,205.3 277.9,205.2 278.2,205.1 278.5,205.1 278.8,205.0 279.2,205.0 279.5,204.9 279.8,204.9 280.1,204.9 280.5,204.8 280.8,204.8 281.1,204.9 281.4,204.9 281.8,204.9 282.1,205.0 282.4,205.0 282.7,205.1 283.1,205.1 283.4,205.1 283.7,205.1 284.0,205.0 284.4,204.9 284.7,204.8 285.0,204.6 285.3,204.4 285.7,204.2 286.0,204.0 286.3,203.8 286.6,203.5 287.0,203.3 287.3,203.1 287.6,202.8 287.9,202.6 288.3,202.2 288.6,201.9 288.9,201.6 289.2,201.2 289.6,200.9 289.9,200.6 290.2,200.3 290.5,200.0 290.9,199.8 291.2,199.6 291.5,199.4 291.8,199.3 292.2,199.2 292.5,199.2 292.8,199.1 293.1,199.0 293.5,199.0 293.8,198.9 294.1,198.9 294.4,198.8 294.7,198.7 295.1,198.7 295.4,198.6 295.7,198.6 296.0,198.5 296.4,198.5 296.7,198.4 297.0,198.3 297.3,198.3 297.7,198.2 298.0,198.1 298.3,197.9 298.6,197.7 299.0,197.4 299.3,197.0 299.6,196.6 299.9,196.2 300.3,195.7 300.6,195.3 300.9,194.8 301.2,194.4 301.6,194.0 301.9,193.6 302.2,193.3 302.5,192.9 302.9,192.6 303.2,192.2 303.5,191.9 303.8,191.6 304.2,191.4 304.5,191.2 304.8,191.1 305.1,191.0 305.5,190.9 305.8,190.9 306.1,190.9 306.4,191.0 306.8,191.1 307.1,191.2 307.4,191.4 307.7,191.6 308.1,191.8 308.4,192.0 308.7,192.4 309.0,192.8 309.4,193.3 309.7,193.7 310.0,194.1 310.3,194.5 310.6,194.8 311.0,195.0 311.3,195.1 311.6,195.0 311.9,194.4 312.3,193.4 312.6,192.0 312.9,190.5 313.2,188.8 313.6,187.1 313.9,185.5 314.2,184.1 314.5,182.8 314.9,181.6 315.2,180.3 315.5,179.0 315.8,177.7 316.2,176.4 316.5,175.1 316.8,173.7 317.1,172.4 317.5,170.9 317.8,169.2 318.1,167.3 318.4,165.8 318.8,164.6 319.1,163.5 319.4,162.5 319.7,161.8 320.1,161.2 320.4,160.9 320.7,160.9 321.0,161.2 321.4,161.7 321.7,162.5 322.0,163.5 322.3,164.7 322.7,166.2 323.0,167.7 323.3,169.4 323.6,171.3 324.0,173.1 324.3,175.1 324.6,177.5 324.9,180.0 325.3,182.4 325.6,184.7 325.9,186.5 326.2,187.7 326.5,188.2 326.9,187.5 327.2,185.7 327.5,182.8 327.8,179.3 328.2,175.2 328.5,170.7 328.8,166.2 329.1,161.7 329.5,157.5 329.8,153.7 330.1,149.9 330.4,145.9 330.8,141.4 331.1,136.3 331.4,130.2 331.7,120.4 332.1,107.0 332.4,94.1 332.7,85.6 333.0,81.5 333.4,78.6 333.7,76.0 334.0,73.0 334.3,69.3 334.7,65.2 335.0,60.9 335.3,56.5 335.6,52.0 336.0,47.7 336.3,43.6 336.6,39.8 336.9,36.5 337.3,33.3 337.6,30.2 337.9,27.4 338.2,25.2 338.6,23.7 338.9,22.7 339.2,21.8 339.5,21.0 339.9,20.2 340.2,19.5 340.5,18.9 340.8,18.4 341.2,18.1 341.5,17.8 341.8,17.7 342.1,17.7 342.5,17.8 342.8,18.1 343.1,18.4 343.4,18.8 343.7,19.3 344.1,19.8 344.4,20.3 344.7,20.9 345.0,21.4 345.4,22.0 345.7,22.5 346.0,22.9 346.3,23.4 346.7,23.7 347.0,24.1 347.3,24.5 347.6,24.8 348.0,25.1 348.3,25.5 348.6,25.9 348.9,26.3 349.3,26.8 349.6,27.2 349.9,27.8 350.2,28.4 350.6,29.1 350.9,30.0 351.2,31.2 351.5,32.7 351.9,34.3 352.2,36.1 352.5,38.0 352.8,39.9 353.2,41.9 353.5,43.9 353.8,46.1 354.1,48.4 354.5,50.9 354.8,53.4 355.1,55.9 355.4,58.4 355.8,60.8 356.1,63.1 356.4,65.3 356.7,67.4 357.1,69.4 357.4,71.4 357.7,73.6 358.0,75.8 358.4,78.2 358.7,80.8 359.0,83.8 359.3,87.1 359.6,90.5 360.0,93.9 360.3,97.3 360.6,100.8 360.9,104.3 361.3,107.8 361.6,111.3 361.9,114.8 362.2,118.2 362.6,121.6 362.9,124.9 363.2,128.1 363.5,131.1 363.9,134.1 364.2,137.0 364.5,140.0 364.8,142.9 365.2,145.7 365.5,148.5 365.8,151.1 366.1,153.6 366.5,155.9 366.8,158.0 367.1,160.0 367.4,161.8 367.8,163.6 368.1,165.3 368.4,167.0 368.7,168.5 369.1,170.0 369.4,171.5 369.7,172.9 370.0,174.2 370.4,175.5 370.7,176.6 371.0,177.8 371.3,178.9 371.7,179.9 372.0,181.0 372.3,182.1 372.6,183.1 373.0,184.2 373.3,185.2 373.6,186.2 373.9,187.2 374.3,188.1 374.6,188.9 374.9,189.7 375.2,190.4 375.5,191.0 375.9,191.5 376.2,191.9 376.5,192.2 376.8,192.4 377.2,192.5 377.5,192.5 377.8,192.6 378.1,192.7 378.5,192.7 378.8,192.6 379.1,192.4 379.4,192.0 379.8,191.6 380.1,191.0 380.4,190.4 380.7,189.7 381.1,188.9 381.4,188.1 381.7,187.3 382.0,186.5 382.4,185.8 382.7,185.0 383.0,184.3 383.3,183.7 383.7,183.0 384.0,182.3 384.3,181.6 384.6,180.8 385.0,180.0 385.3,179.2 385.6,178.4 385.9,177.8 386.3,177.2 386.6,176.6 386.9,176.1 387.2,175.7 387.6,175.3 387.9,175.1 388.2,174.9 388.5,174.9 388.9,175.0 389.2,175.2 389.5,175.5 389.8,175.9 390.2,176.5 390.5,177.1 390.8,177.9 391.1,178.8 391.4,179.8 391.8,180.8 392.1,182.0 392.4,183.2 392.7,184.4 393.1,185.8 393.4,187.2 393.7,188.6 394.0,190.1 394.4,191.6 394.7,193.3 395.0,195.2 395.3,197.2 395.7,199.1 396.0,200.9 396.3,202.5 396.6,204.0 397.0,205.2 397.3,206.1 397.6,206.7 397.9,206.9 398.3,206.6 398.6,205.8 398.9,204.4 399.2,202.7 399.6,200.7 399.9,198.4 400.2,196.1 400.5,193.7 400.9,191.9 401.2,190.3 401.5,188.7 401.8,187.2 402.2,185.8 402.5,184.4 402.8,183.2 403.1,182.0 403.5,181.0 403.8,180.0 404.1,179.2 404.4,178.4 404.8,177.7 405.1,177.1 405.4,176.6 405.7,176.1 406.1,175.7 406.4,175.4 406.7,175.1 407.0,174.9 407.4,174.7 407.7,174.6 408.0,174.5 408.3,174.5 408.6,174.4 409.0,174.4 409.3,174.4 409.6,174.4 409.9,174.3 410.3,174.4 410.6,174.4 410.9,174.5 411.2,174.6 411.6,174.6 411.9,174.7 412.2,174.8 412.5,174.9 412.9,174.9 413.2,175.0 413.5,174.9 413.8,174.8 414.2,174.7 414.5,174.5 414.8,174.2 415.1,174.0 415.5,173.6 415.8,173.3 416.1,172.9 416.4,172.5 416.8,172.1 417.1,171.7 417.4,171.3 417.7,170.9 418.1,170.5 418.4,170.1 418.7,169.7 419.0,169.4 419.4,169.0 419.7,168.7 420.0,168.2 420.3,167.8 420.7,167.3 421.0,166.9 421.3,166.4 421.6,165.9 422.0,165.5 422.3,165.0 422.6,164.6 422.9,164.3 423.3,164.0 423.6,163.7 423.9,163.5 424.2,163.3 424.5,163.2 424.9,163.1 425.2,163.1 425.5,163.1 425.8,163.2 426.2,163.3 426.5,163.5 426.8,163.8 427.1,164.0 427.5,164.4 427.8,164.8 428.1,165.2 428.4,165.6 428.8,166.1 429.1,166.7 429.4,167.2 429.7,167.8 430.1,168.5 430.4,169.1 430.7,169.8 431.0,170.5 431.4,171.2 431.7,171.9 432.0,172.6 432.3,173.4 432.7,174.1 433.0,174.8 433.3,175.5 433.6,176.2 434.0,176.8 434.3,177.5 434.6,178.2 434.9,178.8 435.3,179.6 435.6,180.3 435.9,181.0 436.2,181.8 436.6,182.6 436.9,183.4 437.2,184.2 437.5,185.1 437.9,185.9 438.2,186.7 438.5,187.6 438.8,188.4 439.2,189.3 439.5,190.1 439.8,191.0 440.1,191.8 440.4,192.7 440.8,193.5 441.1,194.3 441.4,195.2 441.7,196.2 442.1,197.1 442.4,198.1 442.7,199.2 443.0,200.2 443.4,201.3 443.7,202.4 444.0,203.5 444.3,204.6 444.7,205.6 445.0,206.6 445.3,207.5 445.6,208.4 446.0,209.2 446.3,209.9 446.6,210.5 446.9,210.9 447.3,211.3 447.6,211.5 447.9,211.6 448.2,211.5 448.6,211.3 448.9,210.9 449.2,210.4 449.5,209.9 449.9,209.2 450.2,208.5 450.5,207.8 450.8,207.1 451.2,206.5 451.5,206.0 451.8,205.6 452.1,205.2 452.5,204.8 452.8,204.5 453.1,204.2 453.4,204.0 453.8,203.7 454.1,203.6 454.4,203.5 454.7,203.5 455.1,203.4 455.4,203.4 455.7,203.3 456.0,203.3 456.4,203.3 456.7,203.2 457.0,203.2 457.3,203.2 457.6,203.2 458.0,203.2 458.3,203.2 458.6,203.2 458.9,203.2 459.3,203.3 459.6,203.3 459.9,203.4 460.2,203.4 460.6,203.5 460.9,203.6 461.2,203.6 461.5,203.7 461.9,203.8 462.2,203.9 462.5,204.0 462.8,204.1 463.2,204.2 463.5,204.2 463.8,204.3 464.1,204.4 464.5,204.5 464.8,204.5 465.1,204.6 465.4,204.7 465.8,204.7 466.1,204.8 466.4,204.9 466.7,204.9 467.1,205.0 467.4,205.1 467.7,205.1 468.0,205.2 468.4,205.3 468.7,205.4 469.0,205.4 469.3,205.5 469.7,205.6 470.0,205.6 470.3,205.7 470.6,205.8 471.0,205.8 471.3,205.9 471.6,206.0 471.9,206.0 472.3,206.1 472.6,206.2" fill="none" stroke="#f20a80" stroke-width="2.3" stroke-linejoin="round"/>
</g>
<g clip-path="url(#cpc)">
<polyline points="472.4,212.2 473.4,212.1 474.4,212.0 475.4,211.9 476.4,211.8 477.4,211.7 478.4,211.6 479.4,211.5 480.4,211.3 481.4,211.2 482.4,211.0 483.4,210.8 484.4,210.6 485.4,210.4 486.3,210.2 487.3,210.0 488.3,209.7 489.3,209.5 490.3,209.2 491.3,208.9 492.3,208.6 493.3,208.3 494.3,208.0 495.3,207.7 496.3,207.4 497.3,207.1 498.3,206.7 499.3,206.4 500.3,206.1 501.3,205.7 502.3,205.3 503.3,204.9 504.3,204.4 505.3,203.8 506.3,203.1 507.3,202.2 508.3,201.2 509.3,200.2 510.3,199.0 511.3,197.9 512.2,196.5 513.2,195.0 514.2,193.7 515.2,192.9 516.2,192.3 517.2,192.4 518.2,193.5 519.2,195.3 520.2,197.6 521.2,201.3 522.2,205.3 523.2,208.8 524.2,211.7 525.2,208.9 526.2,203.3 527.2,196.1 528.2,188.3 529.2,182.2 530.2,177.6 531.2,173.7 532.2,171.8 533.2,172.4 534.2,174.4 535.2,177.0 536.2,180.1 537.2,184.0 538.2,186.3 539.1,181.5 540.1,168.1 541.1,153.9 542.1,139.6 543.1,124.6 544.1,110.1 545.1,97.4 546.1,85.6 547.1,75.9 548.1,67.6 549.1,60.9 550.1,56.9 551.1,54.9 552.1,54.1 553.1,54.7 554.1,56.6 555.1,59.8 556.1,62.1 557.1,63.5 558.1,64.7 559.1,65.9 560.1,67.2 561.1,68.4 562.1,69.8 563.1,71.8 564.1,75.6 565.0,79.0 566.0,83.0 567.0,89.9 568.0,98.9 569.0,108.1 570.0,117.0 571.0,126.4 572.0,136.5 573.0,146.8 574.0,155.8 575.0,163.5 576.0,169.5 577.0,174.0 578.0,177.4 579.0,181.2 580.0,185.1 581.0,189.0 582.0,193.1 583.0,198.1 584.0,203.3 585.0,207.5 586.0,209.8 587.0,209.6 588.0,207.8 589.0,204.9 590.0,201.4 590.9,197.6 591.9,193.9 592.9,190.7 593.9,187.2 594.9,183.7 595.9,180.4 596.9,177.5 597.9,174.4 598.9,172.4 599.9,172.5 600.9,173.5 601.9,175.1 602.9,177.0 603.9,180.1 604.9,184.2 605.9,189.4 606.9,195.2 607.9,201.3 608.9,208.7 609.9,209.8 610.9,202.0 611.9,194.6 612.9,187.3 613.9,180.0 614.9,172.0 615.9,167.1 616.9,164.4 617.8,162.5 618.8,160.9 619.8,160.2 620.8,161.3 621.8,163.2 622.8,165.3 623.8,168.1 624.8,170.9 625.8,172.8 626.8,174.3 627.8,174.9 628.8,174.3 629.8,172.6 630.8,170.3 631.8,166.4 632.8,162.4 633.8,158.1 634.8,154.0 635.8,150.6 636.8,147.8 637.8,146.5 638.8,145.8 639.8,145.7 640.8,146.2 641.8,147.0 642.8,148.5 643.7,150.5 644.7,152.5 645.7,154.6 646.7,156.8 647.7,159.1 648.7,161.4 649.7,163.9 650.7,166.4 651.7,169.1 652.7,171.8 653.7,174.6 654.7,177.4 655.7,180.3 656.7,183.4 657.7,186.4 658.7,189.4 659.7,192.2 660.7,195.1 661.7,198.0 662.7,200.6 663.7,202.7 664.7,204.4 665.7,205.6 666.7,205.7 667.7,205.5 668.7,205.2 669.7,204.7 670.6,203.9 671.6,203.1 672.6,202.3 673.6,201.7 674.6,201.2 675.6,200.7 676.6,200.5 677.6,200.6 678.6,201.0 679.6,201.5 680.6,202.0 681.6,202.6 682.6,203.3" fill="none" stroke="#000" stroke-width="2"/>
<g fill="#fff" stroke="#000" stroke-width="0.75">
<circle cx="472.4" cy="212.2" r="2.3"/>
<circle cx="473.4" cy="212.1" r="2.3"/>
<circle cx="474.4" cy="212.0" r="2.3"/>
<circle cx="475.4" cy="211.9" r="2.3"/>
<circle cx="476.4" cy="211.8" r="2.3"/>
<circle cx="477.4" cy="211.7" r="2.3"/>
<circle cx="478.4" cy="211.6" r="2.3"/>
<circle cx="479.4" cy="211.5" r="2.3"/>
<circle cx="480.4" cy="211.3" r="2.3"/>
<circle cx="481.4" cy="211.2" r="2.3"/>
<circle cx="482.4" cy="211.0" r="2.3"/>
<circle cx="483.4" cy="210.8" r="2.3"/>
<circle cx="484.4" cy="210.6" r="2.3"/>
<circle cx="485.4" cy="210.4" r="2.3"/>
<circle cx="486.3" cy="210.2" r="2.3"/>
<circle cx="487.3" cy="210.0" r="2.3"/>
<circle cx="488.3" cy="209.7" r="2.3"/>
<circle cx="489.3" cy="209.5" r="2.3"/>
<circle cx="490.3" cy="209.2" r="2.3"/>
<circle cx="491.3" cy="208.9" r="2.3"/>
<circle cx="492.3" cy="208.6" r="2.3"/>
<circle cx="493.3" cy="208.3" r="2.3"/>
<circle cx="494.3" cy="208.0" r="2.3"/>
<circle cx="495.3" cy="207.7" r="2.3"/>
<circle cx="496.3" cy="207.4" r="2.3"/>
<circle cx="497.3" cy="207.1" r="2.3"/>
<circle cx="498.3" cy="206.7" r="2.3"/>
<circle cx="499.3" cy="206.4" r="2.3"/>
<circle cx="500.3" cy="206.1" r="2.3"/>
<circle cx="501.3" cy="205.7" r="2.3"/>
<circle cx="502.3" cy="205.3" r="2.3"/>
<circle cx="503.3" cy="204.9" r="2.3"/>
<circle cx="504.3" cy="204.4" r="2.3"/>
<circle cx="505.3" cy="203.8" r="2.3"/>
<circle cx="506.3" cy="203.1" r="2.3"/>
<circle cx="507.3" cy="202.2" r="2.3"/>
<circle cx="508.3" cy="201.2" r="2.3"/>
<circle cx="509.3" cy="200.2" r="2.3"/>
<circle cx="510.3" cy="199.0" r="2.3"/>
<circle cx="511.3" cy="197.9" r="2.3"/>
<circle cx="512.2" cy="196.5" r="2.3"/>
<circle cx="513.2" cy="195.0" r="2.3"/>
<circle cx="514.2" cy="193.7" r="2.3"/>
<circle cx="515.2" cy="192.9" r="2.3"/>
<circle cx="516.2" cy="192.3" r="2.3"/>
<circle cx="517.2" cy="192.4" r="2.3"/>
<circle cx="518.2" cy="193.5" r="2.3"/>
<circle cx="519.2" cy="195.3" r="2.3"/>
<circle cx="520.2" cy="197.6" r="2.3"/>
<circle cx="521.2" cy="201.3" r="2.3"/>
<circle cx="522.2" cy="205.3" r="2.3"/>
<circle cx="523.2" cy="208.8" r="2.3"/>
<circle cx="524.2" cy="211.7" r="2.3"/>
<circle cx="525.2" cy="208.9" r="2.3"/>
<circle cx="526.2" cy="203.3" r="2.3"/>
<circle cx="527.2" cy="196.1" r="2.3"/>
<circle cx="528.2" cy="188.3" r="2.3"/>
<circle cx="529.2" cy="182.2" r="2.3"/>
<circle cx="530.2" cy="177.6" r="2.3"/>
<circle cx="531.2" cy="173.7" r="2.3"/>
<circle cx="532.2" cy="171.8" r="2.3"/>
<circle cx="533.2" cy="172.4" r="2.3"/>
<circle cx="534.2" cy="174.4" r="2.3"/>
<circle cx="535.2" cy="177.0" r="2.3"/>
<circle cx="536.2" cy="180.1" r="2.3"/>
<circle cx="537.2" cy="184.0" r="2.3"/>
<circle cx="538.2" cy="186.3" r="2.3"/>
<circle cx="539.1" cy="181.5" r="2.3"/>
<circle cx="540.1" cy="168.1" r="2.3"/>
<circle cx="541.1" cy="153.9" r="2.3"/>
<circle cx="542.1" cy="139.6" r="2.3"/>
<circle cx="543.1" cy="124.6" r="2.3"/>
<circle cx="544.1" cy="110.1" r="2.3"/>
<circle cx="545.1" cy="97.4" r="2.3"/>
<circle cx="546.1" cy="85.6" r="2.3"/>
<circle cx="547.1" cy="75.9" r="2.3"/>
<circle cx="548.1" cy="67.6" r="2.3"/>
<circle cx="549.1" cy="60.9" r="2.3"/>
<circle cx="550.1" cy="56.9" r="2.3"/>
<circle cx="551.1" cy="54.9" r="2.3"/>
<circle cx="552.1" cy="54.1" r="2.3"/>
<circle cx="553.1" cy="54.7" r="2.3"/>
<circle cx="554.1" cy="56.6" r="2.3"/>
<circle cx="555.1" cy="59.8" r="2.3"/>
<circle cx="556.1" cy="62.1" r="2.3"/>
<circle cx="557.1" cy="63.5" r="2.3"/>
<circle cx="558.1" cy="64.7" r="2.3"/>
<circle cx="559.1" cy="65.9" r="2.3"/>
<circle cx="560.1" cy="67.2" r="2.3"/>
<circle cx="561.1" cy="68.4" r="2.3"/>
<circle cx="562.1" cy="69.8" r="2.3"/>
<circle cx="563.1" cy="71.8" r="2.3"/>
<circle cx="564.1" cy="75.6" r="2.3"/>
<circle cx="565.0" cy="79.0" r="2.3"/>
<circle cx="566.0" cy="83.0" r="2.3"/>
<circle cx="567.0" cy="89.9" r="2.3"/>
<circle cx="568.0" cy="98.9" r="2.3"/>
<circle cx="569.0" cy="108.1" r="2.3"/>
<circle cx="570.0" cy="117.0" r="2.3"/>
<circle cx="571.0" cy="126.4" r="2.3"/>
<circle cx="572.0" cy="136.5" r="2.3"/>
<circle cx="573.0" cy="146.8" r="2.3"/>
<circle cx="574.0" cy="155.8" r="2.3"/>
<circle cx="575.0" cy="163.5" r="2.3"/>
<circle cx="576.0" cy="169.5" r="2.3"/>
<circle cx="577.0" cy="174.0" r="2.3"/>
<circle cx="578.0" cy="177.4" r="2.3"/>
<circle cx="579.0" cy="181.2" r="2.3"/>
<circle cx="580.0" cy="185.1" r="2.3"/>
<circle cx="581.0" cy="189.0" r="2.3"/>
<circle cx="582.0" cy="193.1" r="2.3"/>
<circle cx="583.0" cy="198.1" r="2.3"/>
<circle cx="584.0" cy="203.3" r="2.3"/>
<circle cx="585.0" cy="207.5" r="2.3"/>
<circle cx="586.0" cy="209.8" r="2.3"/>
<circle cx="587.0" cy="209.6" r="2.3"/>
<circle cx="588.0" cy="207.8" r="2.3"/>
<circle cx="589.0" cy="204.9" r="2.3"/>
<circle cx="590.0" cy="201.4" r="2.3"/>
<circle cx="590.9" cy="197.6" r="2.3"/>
<circle cx="591.9" cy="193.9" r="2.3"/>
<circle cx="592.9" cy="190.7" r="2.3"/>
<circle cx="593.9" cy="187.2" r="2.3"/>
<circle cx="594.9" cy="183.7" r="2.3"/>
<circle cx="595.9" cy="180.4" r="2.3"/>
<circle cx="596.9" cy="177.5" r="2.3"/>
<circle cx="597.9" cy="174.4" r="2.3"/>
<circle cx="598.9" cy="172.4" r="2.3"/>
<circle cx="599.9" cy="172.5" r="2.3"/>
<circle cx="600.9" cy="173.5" r="2.3"/>
<circle cx="601.9" cy="175.1" r="2.3"/>
<circle cx="602.9" cy="177.0" r="2.3"/>
<circle cx="603.9" cy="180.1" r="2.3"/>
<circle cx="604.9" cy="184.2" r="2.3"/>
<circle cx="605.9" cy="189.4" r="2.3"/>
<circle cx="606.9" cy="195.2" r="2.3"/>
<circle cx="607.9" cy="201.3" r="2.3"/>
<circle cx="608.9" cy="208.7" r="2.3"/>
<circle cx="609.9" cy="209.8" r="2.3"/>
<circle cx="610.9" cy="202.0" r="2.3"/>
<circle cx="611.9" cy="194.6" r="2.3"/>
<circle cx="612.9" cy="187.3" r="2.3"/>
<circle cx="613.9" cy="180.0" r="2.3"/>
<circle cx="614.9" cy="172.0" r="2.3"/>
<circle cx="615.9" cy="167.1" r="2.3"/>
<circle cx="616.9" cy="164.4" r="2.3"/>
<circle cx="617.8" cy="162.5" r="2.3"/>
<circle cx="618.8" cy="160.9" r="2.3"/>
<circle cx="619.8" cy="160.2" r="2.3"/>
<circle cx="620.8" cy="161.3" r="2.3"/>
<circle cx="621.8" cy="163.2" r="2.3"/>
<circle cx="622.8" cy="165.3" r="2.3"/>
<circle cx="623.8" cy="168.1" r="2.3"/>
<circle cx="624.8" cy="170.9" r="2.3"/>
<circle cx="625.8" cy="172.8" r="2.3"/>
<circle cx="626.8" cy="174.3" r="2.3"/>
<circle cx="627.8" cy="174.9" r="2.3"/>
<circle cx="628.8" cy="174.3" r="2.3"/>
<circle cx="629.8" cy="172.6" r="2.3"/>
<circle cx="630.8" cy="170.3" r="2.3"/>
<circle cx="631.8" cy="166.4" r="2.3"/>
<circle cx="632.8" cy="162.4" r="2.3"/>
<circle cx="633.8" cy="158.1" r="2.3"/>
<circle cx="634.8" cy="154.0" r="2.3"/>
<circle cx="635.8" cy="150.6" r="2.3"/>
<circle cx="636.8" cy="147.8" r="2.3"/>
<circle cx="637.8" cy="146.5" r="2.3"/>
<circle cx="638.8" cy="145.8" r="2.3"/>
<circle cx="639.8" cy="145.7" r="2.3"/>
<circle cx="640.8" cy="146.2" r="2.3"/>
<circle cx="641.8" cy="147.0" r="2.3"/>
<circle cx="642.8" cy="148.5" r="2.3"/>
<circle cx="643.7" cy="150.5" r="2.3"/>
<circle cx="644.7" cy="152.5" r="2.3"/>
<circle cx="645.7" cy="154.6" r="2.3"/>
<circle cx="646.7" cy="156.8" r="2.3"/>
<circle cx="647.7" cy="159.1" r="2.3"/>
<circle cx="648.7" cy="161.4" r="2.3"/>
<circle cx="649.7" cy="163.9" r="2.3"/>
<circle cx="650.7" cy="166.4" r="2.3"/>
<circle cx="651.7" cy="169.1" r="2.3"/>
<circle cx="652.7" cy="171.8" r="2.3"/>
<circle cx="653.7" cy="174.6" r="2.3"/>
<circle cx="654.7" cy="177.4" r="2.3"/>
<circle cx="655.7" cy="180.3" r="2.3"/>
<circle cx="656.7" cy="183.4" r="2.3"/>
<circle cx="657.7" cy="186.4" r="2.3"/>
<circle cx="658.7" cy="189.4" r="2.3"/>
<circle cx="659.7" cy="192.2" r="2.3"/>
<circle cx="660.7" cy="195.1" r="2.3"/>
<circle cx="661.7" cy="198.0" r="2.3"/>
<circle cx="662.7" cy="200.6" r="2.3"/>
<circle cx="663.7" cy="202.7" r="2.3"/>
<circle cx="664.7" cy="204.4" r="2.3"/>
<circle cx="665.7" cy="205.6" r="2.3"/>
<circle cx="666.7" cy="205.7" r="2.3"/>
<circle cx="667.7" cy="205.5" r="2.3"/>
<circle cx="668.7" cy="205.2" r="2.3"/>
<circle cx="669.7" cy="204.7" r="2.3"/>
<circle cx="670.6" cy="203.9" r="2.3"/>
<circle cx="671.6" cy="203.1" r="2.3"/>
<circle cx="672.6" cy="202.3" r="2.3"/>
<circle cx="673.6" cy="201.7" r="2.3"/>
<circle cx="674.6" cy="201.2" r="2.3"/>
<circle cx="675.6" cy="200.7" r="2.3"/>
<circle cx="676.6" cy="200.5" r="2.3"/>
<circle cx="677.6" cy="200.6" r="2.3"/>
<circle cx="678.6" cy="201.0" r="2.3"/>
<circle cx="679.6" cy="201.5" r="2.3"/>
<circle cx="680.6" cy="202.0" r="2.3"/>
<circle cx="681.6" cy="202.6" r="2.3"/>
<circle cx="682.6" cy="203.3" r="2.3"/>
</g>
<polyline points="472.4,210.9 472.7,210.9 473.0,211.0 473.4,211.0 473.7,211.0 474.0,211.0 474.3,211.0 474.7,211.1 475.0,211.1 475.3,211.1 475.6,211.1 476.0,211.1 476.3,211.1 476.6,211.1 476.9,211.1 477.3,211.1 477.6,211.1 477.9,211.1 478.2,211.1 478.6,211.1 478.9,211.1 479.2,211.1 479.5,211.1 479.9,211.1 480.2,211.1 480.5,211.1 480.8,211.1 481.2,211.1 481.5,211.1 481.8,211.1 482.1,211.1 482.5,211.1 482.8,211.1 483.1,211.0 483.4,210.8 483.8,210.6 484.1,210.3 484.4,210.0 484.7,209.7 485.1,209.4 485.4,209.2 485.7,208.9 486.0,208.6 486.4,208.3 486.7,208.0 487.0,207.8 487.3,207.6 487.7,207.5 488.0,207.3 488.3,207.3 488.6,207.2 488.9,207.2 489.3,207.2 489.6,207.3 489.9,207.4 490.2,207.5 490.6,207.6 490.9,207.7 491.2,207.8 491.5,207.9 491.9,208.0 492.2,208.1 492.5,208.1 492.8,208.2 493.2,208.3 493.5,208.3 493.8,208.3 494.1,208.2 494.5,208.2 494.8,208.1 495.1,207.9 495.4,207.8 495.8,207.6 496.1,207.4 496.4,207.2 496.7,206.9 497.1,206.7 497.4,206.5 497.7,206.3 498.0,206.1 498.4,205.9 498.7,205.7 499.0,205.5 499.3,205.4 499.7,205.2 500.0,205.0 500.3,204.8 500.6,204.6 501.0,204.4 501.3,204.2 501.6,204.1 501.9,203.9 502.3,203.8 502.6,203.6 502.9,203.5 503.2,203.4 503.6,203.3 503.9,203.3 504.2,203.2 504.5,203.2 504.8,203.2 505.2,203.1 505.5,203.1 505.8,203.1 506.1,203.1 506.5,203.0 506.8,203.0 507.1,203.0 507.4,203.0 507.8,203.0 508.1,202.9 508.4,202.9 508.7,202.8 509.1,202.8 509.4,202.7 509.7,202.7 510.0,202.5 510.4,202.4 510.7,202.2 511.0,202.0 511.3,201.8 511.7,201.6 512.0,201.3 512.3,201.1 512.6,200.8 513.0,200.6 513.3,200.3 513.6,199.9 513.9,199.5 514.3,199.1 514.6,198.7 514.9,198.3 515.2,197.9 515.6,197.7 515.9,197.5 516.2,197.3 516.5,197.2 516.9,197.2 517.2,197.2 517.5,197.2 517.8,197.4 518.2,197.5 518.5,197.7 518.8,198.0 519.1,198.3 519.5,198.7 519.8,199.2 520.1,199.6 520.4,200.0 520.8,200.4 521.1,200.8 521.4,201.1 521.7,201.3 522.0,201.4 522.4,201.3 522.7,200.9 523.0,200.1 523.3,199.0 523.7,197.7 524.0,196.1 524.3,194.4 524.6,192.7 525.0,191.1 525.3,189.7 525.6,188.4 525.9,187.1 526.3,185.8 526.6,184.6 526.9,183.3 527.2,182.1 527.6,181.0 527.9,179.9 528.2,178.9 528.5,177.8 528.9,176.7 529.2,175.6 529.5,174.6 529.8,173.7 530.2,172.9 530.5,172.2 530.8,171.6 531.1,171.2 531.5,170.8 531.8,170.6 532.1,170.6 532.4,170.7 532.8,171.0 533.1,171.4 533.4,172.0 533.7,172.7 534.1,173.4 534.4,174.2 534.7,175.2 535.0,176.6 535.4,177.8 535.7,179.1 536.0,180.2 536.3,181.3 536.7,182.1 537.0,182.8 537.3,183.2 537.6,183.4 537.9,182.9 538.3,181.7 538.6,179.8 538.9,177.3 539.2,174.4 539.6,171.2 539.9,167.7 540.2,164.2 540.5,160.8 540.9,157.5 541.2,154.2 541.5,150.7 541.8,147.0 542.2,143.0 542.5,138.9 542.8,134.6 543.1,130.2 543.5,125.2 543.8,119.6 544.1,113.6 544.4,107.7 544.8,102.3 545.1,97.9 545.4,94.6 545.7,92.2 546.1,90.0 546.4,88.1 546.7,86.0 547.0,83.8 547.4,81.4 547.7,79.0 548.0,76.6 548.3,74.3 548.7,72.2 549.0,70.2 549.3,68.5 549.6,67.0 550.0,65.5 550.3,64.1 550.6,62.7 550.9,61.4 551.3,60.3 551.6,59.4 551.9,58.9 552.2,58.7 552.6,58.8 552.9,59.0 553.2,59.4 553.5,59.8 553.8,60.4 554.2,61.0 554.5,61.7 554.8,62.4 555.1,63.1 555.5,63.8 555.8,64.4 556.1,65.0 556.4,65.6 556.8,66.1 557.1,66.7 557.4,67.2 557.7,67.8 558.1,68.3 558.4,68.9 558.7,69.5 559.0,70.1 559.4,70.7 559.7,71.4 560.0,72.1 560.3,72.8 560.7,73.5 561.0,74.2 561.3,75.0 561.6,75.8 562.0,76.6 562.3,77.4 562.6,78.3 562.9,79.2 563.3,80.1 563.6,81.1 563.9,82.1 564.2,83.2 564.6,84.5 564.9,86.2 565.2,88.0 565.5,89.9 565.9,91.6 566.2,93.1 566.5,94.1 566.8,94.4 567.2,94.1 567.5,93.7 567.8,96.4 568.1,99.7 568.5,102.9 568.8,105.8 569.1,108.7 569.4,111.5 569.8,114.4 570.1,117.4 570.4,120.5 570.7,123.6 571.0,126.6 571.4,129.7 571.7,133.0 572.0,136.5 572.3,140.1 572.7,143.4 573.0,146.6 573.3,149.6 573.6,152.6 574.0,155.4 574.3,158.1 574.6,160.7 574.9,163.0 575.3,165.2 575.6,167.1 575.9,169.0 576.2,170.7 576.6,172.2 576.9,173.6 577.2,174.7 577.5,175.8 577.9,176.9 578.2,178.1 578.5,179.3 578.8,180.6 579.2,181.9 579.5,183.3 579.8,184.7 580.1,186.0 580.5,187.3 580.8,188.5 581.1,189.6 581.4,190.8 581.8,192.1 582.1,193.3 582.4,194.6 582.7,195.9 583.1,197.1 583.4,198.3 583.7,199.5 584.0,200.6 584.4,201.6 584.7,202.5 585.0,203.4 585.3,204.1 585.7,204.7 586.0,205.1 586.3,205.3 586.6,205.4 586.9,205.4 587.3,205.2 587.6,204.9 587.9,204.5 588.2,204.1 588.6,203.5 588.9,202.9 589.2,202.2 589.5,201.5 589.9,200.8 590.2,199.9 590.5,199.1 590.8,198.3 591.2,197.4 591.5,196.6 591.8,195.8 592.1,194.9 592.5,194.2 592.8,193.4 593.1,192.7 593.4,192.1 593.8,191.4 594.1,190.8 594.4,190.0 594.7,189.3 595.1,188.5 595.4,187.8 595.7,187.0 596.0,186.2 596.4,185.5 596.7,184.8 597.0,184.2 597.3,183.7 597.7,183.2 598.0,182.7 598.3,182.4 598.6,182.1 599.0,181.9 599.3,181.8 599.6,181.9 599.9,182.0 600.3,182.3 600.6,182.7 600.9,183.3 601.2,184.0 601.6,184.8 601.9,185.7 602.2,186.7 602.5,187.8 602.8,189.0 603.2,190.3 603.5,191.7 603.8,193.2 604.1,194.7 604.5,196.1 604.8,197.5 605.1,198.7 605.4,199.9 605.8,201.4 606.1,202.9 606.4,204.4 606.7,206.0 607.1,207.5 607.4,208.8 607.7,209.9 608.0,210.8 608.4,211.4 608.7,211.6 609.0,211.2 609.3,210.2 609.7,208.6 610.0,206.6 610.3,204.3 610.6,201.8 611.0,199.1 611.3,196.9 611.6,195.2 611.9,193.5 612.3,191.8 612.6,190.2 612.9,188.8 613.2,187.4 613.6,186.1 613.9,184.9 614.2,183.8 614.5,182.8 614.9,181.9 615.2,181.1 615.5,180.4 615.8,179.7 616.2,179.2 616.5,178.7 616.8,178.4 617.1,178.1 617.5,177.9 617.8,177.8 618.1,177.7 618.4,177.7 618.7,177.8 619.1,177.9 619.4,178.3 619.7,178.6 620.0,178.9 620.4,179.1 620.7,179.2 621.0,179.2 621.3,179.1 621.7,179.1 622.0,179.1 622.3,179.0 622.6,179.0 623.0,178.9 623.3,178.9 623.6,178.8 623.9,178.7 624.3,178.5 624.6,178.2 624.9,178.0 625.2,177.6 625.6,177.2 625.9,176.8 626.2,176.4 626.5,176.0 626.9,175.6 627.2,175.1 627.5,174.7 627.8,174.3 628.2,173.9 628.5,173.6 628.8,173.3 629.1,172.9 629.5,172.5 629.8,172.1 630.1,171.7 630.4,171.3 630.8,170.9 631.1,170.5 631.4,170.1 631.7,169.7 632.1,169.3 632.4,168.9 632.7,168.5 633.0,168.2 633.4,167.9 633.7,167.6 634.0,167.4 634.3,167.2 634.6,167.0 635.0,166.9 635.3,166.9 635.6,166.8 635.9,166.8 636.3,166.9 636.6,167.0 636.9,167.2 637.2,167.4 637.6,167.7 637.9,168.0 638.2,168.4 638.5,168.8 638.9,169.2 639.2,169.7 639.5,170.2 639.8,170.8 640.2,171.4 640.5,172.0 640.8,172.7 641.1,173.4 641.5,174.0 641.8,174.7 642.1,175.4 642.4,176.1 642.8,176.7 643.1,177.3 643.4,178.0 643.7,178.6 644.1,179.1 644.4,179.7 644.7,180.4 645.0,181.0 645.4,181.6 645.7,182.3 646.0,183.0 646.3,183.6 646.7,184.3 647.0,185.0 647.3,185.7 647.6,186.4 648.0,187.1 648.3,187.8 648.6,188.6 648.9,189.3 649.3,190.0 649.6,190.7 649.9,191.4 650.2,192.1 650.6,192.7 650.9,193.4 651.2,194.1 651.5,194.7 651.8,195.4 652.2,196.0 652.5,196.7 652.8,197.4 653.1,198.2 653.5,199.0 653.8,199.7 654.1,200.5 654.4,201.3 654.8,202.1 655.1,202.9 655.4,203.7 655.7,204.5 656.1,205.3 656.4,206.0 656.7,206.7 657.0,207.3 657.4,208.0 657.7,208.6 658.0,209.1 658.3,209.6 658.7,210.0 659.0,210.3 659.3,210.6 659.6,210.8 660.0,211.0 660.3,211.0 660.6,210.9 660.9,210.8 661.3,210.5 661.6,210.2 661.9,209.7 662.2,209.3 662.6,208.8 662.9,208.2 663.2,207.7 663.5,207.1 663.9,206.6 664.2,206.2 664.5,205.9 664.8,205.6 665.2,205.3 665.5,205.0 665.8,204.8 666.1,204.7 666.5,204.6 666.8,204.5 667.1,204.5 667.4,204.5 667.7,204.5 668.1,204.6 668.4,204.7 668.7,204.8 669.0,204.9 669.4,205.0 669.7,205.1 670.0,205.2 670.3,205.3 670.7,205.4 671.0,205.6 671.3,205.7 671.6,205.8 672.0,205.9 672.3,206.0 672.6,206.1 672.9,206.2 673.3,206.3 673.6,206.3 673.9,206.4 674.2,206.5 674.6,206.5 674.9,206.6 675.2,206.7 675.5,206.7 675.9,206.8 676.2,206.9 676.5,206.9 676.8,207.0 677.2,207.0 677.5,207.1 677.8,207.2 678.1,207.2 678.5,207.3 678.8,207.3 679.1,207.4 679.4,207.4 679.8,207.5 680.1,207.5 680.4,207.6 680.7,207.6 681.1,207.7 681.4,207.7 681.7,207.8 682.0,207.8 682.4,207.9 682.7,207.9 683.0,208.0 683.3,208.0" fill="none" stroke="#f20a80" stroke-width="2.3" stroke-linejoin="round"/>
</g>
<g clip-path="url(#cpd)">
<polyline points="50.6,423.3 51.6,423.2 52.6,423.1 53.6,423.0 54.6,422.9 55.6,422.8 56.6,422.7 57.6,422.6 58.6,422.4 59.6,422.3 60.6,422.1 61.6,421.9 62.6,421.7 63.6,421.5 64.5,421.3 65.5,421.0 66.5,420.8 67.5,420.6 68.5,420.3 69.5,420.0 70.5,419.7 71.5,419.4 72.5,419.1 73.5,418.8 74.5,418.5 75.5,418.1 76.5,417.8 77.5,417.5 78.5,417.1 79.5,416.8 80.5,416.4 81.5,416.0 82.5,415.5 83.5,414.9 84.5,414.2 85.5,413.3 86.5,412.3 87.5,411.2 88.5,410.1 89.5,408.9 90.4,407.6 91.4,406.1 92.4,404.8 93.4,403.9 94.4,403.3 95.4,403.4 96.4,404.6 97.4,406.3 98.4,408.7 99.4,412.4 100.4,416.3 101.4,419.9 102.4,422.8 103.4,420.0 104.4,414.3 105.4,407.1 106.4,399.3 107.4,393.2 108.4,388.6 109.4,384.7 110.4,382.8 111.4,383.4 112.4,385.3 113.4,388.0 114.4,391.0 115.4,395.0 116.4,397.3 117.3,392.5 118.3,379.0 119.3,364.7 120.3,350.4 121.3,335.3 122.3,320.8 123.3,308.0 124.3,296.2 125.3,286.5 126.3,278.1 127.3,271.4 128.3,267.3 129.3,265.4 130.3,264.5 131.3,265.2 132.3,267.1 133.3,270.3 134.3,272.6 135.3,274.0 136.3,275.2 137.3,276.4 138.3,277.7 139.3,279.0 140.3,280.3 141.3,282.3 142.3,286.1 143.2,289.5 144.2,293.6 145.2,300.5 146.2,309.5 147.2,318.7 148.2,327.7 149.2,337.2 150.2,347.3 151.2,357.7 152.2,366.7 153.2,374.4 154.2,380.4 155.2,384.9 156.2,388.4 157.2,392.2 158.2,396.1 159.2,400.0 160.2,404.1 161.2,409.2 162.2,414.3 163.2,418.5 164.2,420.9 165.2,420.7 166.2,418.9 167.2,416.0 168.2,412.5 169.1,408.6 170.1,405.0 171.1,401.7 172.1,398.2 173.1,394.7 174.1,391.4 175.1,388.4 176.1,385.4 177.1,383.4 178.1,383.4 179.1,384.4 180.1,386.0 181.1,388.0 182.1,391.0 183.1,395.2 184.1,400.4 185.1,406.3 186.1,412.4 187.1,419.8 188.1,420.8 189.1,413.1 190.1,405.6 191.1,398.3 192.1,391.0 193.1,382.9 194.1,378.0 195.1,375.3 196.0,373.4 197.0,371.8 198.0,371.1 199.0,372.2 200.0,374.1 201.0,376.2 202.0,379.0 203.0,381.8 204.0,383.7 205.0,385.2 206.0,385.9 207.0,385.2 208.0,383.5 209.0,381.3 210.0,377.3 211.0,373.3 212.0,369.0 213.0,364.8 214.0,361.4 215.0,358.6 216.0,357.4 217.0,356.7 218.0,356.5 219.0,357.0 220.0,357.8 221.0,359.4 221.9,361.4 222.9,363.4 223.9,365.5 224.9,367.7 225.9,370.0 226.9,372.3 227.9,374.8 228.9,377.4 229.9,380.0 230.9,382.7 231.9,385.5 232.9,388.3 233.9,391.3 234.9,394.3 235.9,397.4 236.9,400.4 237.9,403.2 238.9,406.1 239.9,409.0 240.9,411.7 241.9,413.8 242.9,415.4 243.9,416.6 244.9,416.8 245.9,416.6 246.9,416.2 247.9,415.7 248.8,415.0 249.8,414.1 250.8,413.3 251.8,412.7 252.8,412.2 253.8,411.8 254.8,411.5 255.8,411.6 256.8,412.0 257.8,412.5 258.8,413.0 259.8,413.7 260.8,414.4" fill="none" stroke="#000" stroke-width="2"/>
<g fill="#fff" stroke="#000" stroke-width="0.75">
<circle cx="50.6" cy="423.3" r="2.3"/>
<circle cx="51.6" cy="423.2" r="2.3"/>
<circle cx="52.6" cy="423.1" r="2.3"/>
<circle cx="53.6" cy="423.0" r="2.3"/>
<circle cx="54.6" cy="422.9" r="2.3"/>
<circle cx="55.6" cy="422.8" r="2.3"/>
<circle cx="56.6" cy="422.7" r="2.3"/>
<circle cx="57.6" cy="422.6" r="2.3"/>
<circle cx="58.6" cy="422.4" r="2.3"/>
<circle cx="59.6" cy="422.3" r="2.3"/>
<circle cx="60.6" cy="422.1" r="2.3"/>
<circle cx="61.6" cy="421.9" r="2.3"/>
<circle cx="62.6" cy="421.7" r="2.3"/>
<circle cx="63.6" cy="421.5" r="2.3"/>
<circle cx="64.5" cy="421.3" r="2.3"/>
<circle cx="65.5" cy="421.0" r="2.3"/>
<circle cx="66.5" cy="420.8" r="2.3"/>
<circle cx="67.5" cy="420.6" r="2.3"/>
<circle cx="68.5" cy="420.3" r="2.3"/>
<circle cx="69.5" cy="420.0" r="2.3"/>
<circle cx="70.5" cy="419.7" r="2.3"/>
<circle cx="71.5" cy="419.4" r="2.3"/>
<circle cx="72.5" cy="419.1" r="2.3"/>
<circle cx="73.5" cy="418.8" r="2.3"/>
<circle cx="74.5" cy="418.5" r="2.3"/>
<circle cx="75.5" cy="418.1" r="2.3"/>
<circle cx="76.5" cy="417.8" r="2.3"/>
<circle cx="77.5" cy="417.5" r="2.3"/>
<circle cx="78.5" cy="417.1" r="2.3"/>
<circle cx="79.5" cy="416.8" r="2.3"/>
<circle cx="80.5" cy="416.4" r="2.3"/>
<circle cx="81.5" cy="416.0" r="2.3"/>
<circle cx="82.5" cy="415.5" r="2.3"/>
<circle cx="83.5" cy="414.9" r="2.3"/>
<circle cx="84.5" cy="414.2" r="2.3"/>
<circle cx="85.5" cy="413.3" r="2.3"/>
<circle cx="86.5" cy="412.3" r="2.3"/>
<circle cx="87.5" cy="411.2" r="2.3"/>
<circle cx="88.5" cy="410.1" r="2.3"/>
<circle cx="89.5" cy="408.9" r="2.3"/>
<circle cx="90.4" cy="407.6" r="2.3"/>
<circle cx="91.4" cy="406.1" r="2.3"/>
<circle cx="92.4" cy="404.8" r="2.3"/>
<circle cx="93.4" cy="403.9" r="2.3"/>
<circle cx="94.4" cy="403.3" r="2.3"/>
<circle cx="95.4" cy="403.4" r="2.3"/>
<circle cx="96.4" cy="404.6" r="2.3"/>
<circle cx="97.4" cy="406.3" r="2.3"/>
<circle cx="98.4" cy="408.7" r="2.3"/>
<circle cx="99.4" cy="412.4" r="2.3"/>
<circle cx="100.4" cy="416.3" r="2.3"/>
<circle cx="101.4" cy="419.9" r="2.3"/>
<circle cx="102.4" cy="422.8" r="2.3"/>
<circle cx="103.4" cy="420.0" r="2.3"/>
<circle cx="104.4" cy="414.3" r="2.3"/>
<circle cx="105.4" cy="407.1" r="2.3"/>
<circle cx="106.4" cy="399.3" r="2.3"/>
<circle cx="107.4" cy="393.2" r="2.3"/>
<circle cx="108.4" cy="388.6" r="2.3"/>
<circle cx="109.4" cy="384.7" r="2.3"/>
<circle cx="110.4" cy="382.8" r="2.3"/>
<circle cx="111.4" cy="383.4" r="2.3"/>
<circle cx="112.4" cy="385.3" r="2.3"/>
<circle cx="113.4" cy="388.0" r="2.3"/>
<circle cx="114.4" cy="391.0" r="2.3"/>
<circle cx="115.4" cy="395.0" r="2.3"/>
<circle cx="116.4" cy="397.3" r="2.3"/>
<circle cx="117.3" cy="392.5" r="2.3"/>
<circle cx="118.3" cy="379.0" r="2.3"/>
<circle cx="119.3" cy="364.7" r="2.3"/>
<circle cx="120.3" cy="350.4" r="2.3"/>
<circle cx="121.3" cy="335.3" r="2.3"/>
<circle cx="122.3" cy="320.8" r="2.3"/>
<circle cx="123.3" cy="308.0" r="2.3"/>
<circle cx="124.3" cy="296.2" r="2.3"/>
<circle cx="125.3" cy="286.5" r="2.3"/>
<circle cx="126.3" cy="278.1" r="2.3"/>
<circle cx="127.3" cy="271.4" r="2.3"/>
<circle cx="128.3" cy="267.3" r="2.3"/>
<circle cx="129.3" cy="265.4" r="2.3"/>
<circle cx="130.3" cy="264.5" r="2.3"/>
<circle cx="131.3" cy="265.2" r="2.3"/>
<circle cx="132.3" cy="267.1" r="2.3"/>
<circle cx="133.3" cy="270.3" r="2.3"/>
<circle cx="134.3" cy="272.6" r="2.3"/>
<circle cx="135.3" cy="274.0" r="2.3"/>
<circle cx="136.3" cy="275.2" r="2.3"/>
<circle cx="137.3" cy="276.4" r="2.3"/>
<circle cx="138.3" cy="277.7" r="2.3"/>
<circle cx="139.3" cy="279.0" r="2.3"/>
<circle cx="140.3" cy="280.3" r="2.3"/>
<circle cx="141.3" cy="282.3" r="2.3"/>
<circle cx="142.3" cy="286.1" r="2.3"/>
<circle cx="143.2" cy="289.5" r="2.3"/>
<circle cx="144.2" cy="293.6" r="2.3"/>
<circle cx="145.2" cy="300.5" r="2.3"/>
<circle cx="146.2" cy="309.5" r="2.3"/>
<circle cx="147.2" cy="318.7" r="2.3"/>
<circle cx="148.2" cy="327.7" r="2.3"/>
<circle cx="149.2" cy="337.2" r="2.3"/>
<circle cx="150.2" cy="347.3" r="2.3"/>
<circle cx="151.2" cy="357.7" r="2.3"/>
<circle cx="152.2" cy="366.7" r="2.3"/>
<circle cx="153.2" cy="374.4" r="2.3"/>
<circle cx="154.2" cy="380.4" r="2.3"/>
<circle cx="155.2" cy="384.9" r="2.3"/>
<circle cx="156.2" cy="388.4" r="2.3"/>
<circle cx="157.2" cy="392.2" r="2.3"/>
<circle cx="158.2" cy="396.1" r="2.3"/>
<circle cx="159.2" cy="400.0" r="2.3"/>
<circle cx="160.2" cy="404.1" r="2.3"/>
<circle cx="161.2" cy="409.2" r="2.3"/>
<circle cx="162.2" cy="414.3" r="2.3"/>
<circle cx="163.2" cy="418.5" r="2.3"/>
<circle cx="164.2" cy="420.9" r="2.3"/>
<circle cx="165.2" cy="420.7" r="2.3"/>
<circle cx="166.2" cy="418.9" r="2.3"/>
<circle cx="167.2" cy="416.0" r="2.3"/>
<circle cx="168.2" cy="412.5" r="2.3"/>
<circle cx="169.1" cy="408.6" r="2.3"/>
<circle cx="170.1" cy="405.0" r="2.3"/>
<circle cx="171.1" cy="401.7" r="2.3"/>
<circle cx="172.1" cy="398.2" r="2.3"/>
<circle cx="173.1" cy="394.7" r="2.3"/>
<circle cx="174.1" cy="391.4" r="2.3"/>
<circle cx="175.1" cy="388.4" r="2.3"/>
<circle cx="176.1" cy="385.4" r="2.3"/>
<circle cx="177.1" cy="383.4" r="2.3"/>
<circle cx="178.1" cy="383.4" r="2.3"/>
<circle cx="179.1" cy="384.4" r="2.3"/>
<circle cx="180.1" cy="386.0" r="2.3"/>
<circle cx="181.1" cy="388.0" r="2.3"/>
<circle cx="182.1" cy="391.0" r="2.3"/>
<circle cx="183.1" cy="395.2" r="2.3"/>
<circle cx="184.1" cy="400.4" r="2.3"/>
<circle cx="185.1" cy="406.3" r="2.3"/>
<circle cx="186.1" cy="412.4" r="2.3"/>
<circle cx="187.1" cy="419.8" r="2.3"/>
<circle cx="188.1" cy="420.8" r="2.3"/>
<circle cx="189.1" cy="413.1" r="2.3"/>
<circle cx="190.1" cy="405.6" r="2.3"/>
<circle cx="191.1" cy="398.3" r="2.3"/>
<circle cx="192.1" cy="391.0" r="2.3"/>
<circle cx="193.1" cy="382.9" r="2.3"/>
<circle cx="194.1" cy="378.0" r="2.3"/>
<circle cx="195.1" cy="375.3" r="2.3"/>
<circle cx="196.0" cy="373.4" r="2.3"/>
<circle cx="197.0" cy="371.8" r="2.3"/>
<circle cx="198.0" cy="371.1" r="2.3"/>
<circle cx="199.0" cy="372.2" r="2.3"/>
<circle cx="200.0" cy="374.1" r="2.3"/>
<circle cx="201.0" cy="376.2" r="2.3"/>
<circle cx="202.0" cy="379.0" r="2.3"/>
<circle cx="203.0" cy="381.8" r="2.3"/>
<circle cx="204.0" cy="383.7" r="2.3"/>
<circle cx="205.0" cy="385.2" r="2.3"/>
<circle cx="206.0" cy="385.9" r="2.3"/>
<circle cx="207.0" cy="385.2" r="2.3"/>
<circle cx="208.0" cy="383.5" r="2.3"/>
<circle cx="209.0" cy="381.3" r="2.3"/>
<circle cx="210.0" cy="377.3" r="2.3"/>
<circle cx="211.0" cy="373.3" r="2.3"/>
<circle cx="212.0" cy="369.0" r="2.3"/>
<circle cx="213.0" cy="364.8" r="2.3"/>
<circle cx="214.0" cy="361.4" r="2.3"/>
<circle cx="215.0" cy="358.6" r="2.3"/>
<circle cx="216.0" cy="357.4" r="2.3"/>
<circle cx="217.0" cy="356.7" r="2.3"/>
<circle cx="218.0" cy="356.5" r="2.3"/>
<circle cx="219.0" cy="357.0" r="2.3"/>
<circle cx="220.0" cy="357.8" r="2.3"/>
<circle cx="221.0" cy="359.4" r="2.3"/>
<circle cx="221.9" cy="361.4" r="2.3"/>
<circle cx="222.9" cy="363.4" r="2.3"/>
<circle cx="223.9" cy="365.5" r="2.3"/>
<circle cx="224.9" cy="367.7" r="2.3"/>
<circle cx="225.9" cy="370.0" r="2.3"/>
<circle cx="226.9" cy="372.3" r="2.3"/>
<circle cx="227.9" cy="374.8" r="2.3"/>
<circle cx="228.9" cy="377.4" r="2.3"/>
<circle cx="229.9" cy="380.0" r="2.3"/>
<circle cx="230.9" cy="382.7" r="2.3"/>
<circle cx="231.9" cy="385.5" r="2.3"/>
<circle cx="232.9" cy="388.3" r="2.3"/>
<circle cx="233.9" cy="391.3" r="2.3"/>
<circle cx="234.9" cy="394.3" r="2.3"/>
<circle cx="235.9" cy="397.4" r="2.3"/>
<circle cx="236.9" cy="400.4" r="2.3"/>
<circle cx="237.9" cy="403.2" r="2.3"/>
<circle cx="238.9" cy="406.1" r="2.3"/>
<circle cx="239.9" cy="409.0" r="2.3"/>
<circle cx="240.9" cy="411.7" r="2.3"/>
<circle cx="241.9" cy="413.8" r="2.3"/>
<circle cx="242.9" cy="415.4" r="2.3"/>
<circle cx="243.9" cy="416.6" r="2.3"/>
<circle cx="244.9" cy="416.8" r="2.3"/>
<circle cx="245.9" cy="416.6" r="2.3"/>
<circle cx="246.9" cy="416.2" r="2.3"/>
<circle cx="247.9" cy="415.7" r="2.3"/>
<circle cx="248.8" cy="415.0" r="2.3"/>
<circle cx="249.8" cy="414.1" r="2.3"/>
<circle cx="250.8" cy="413.3" r="2.3"/>
<circle cx="251.8" cy="412.7" r="2.3"/>
<circle cx="252.8" cy="412.2" r="2.3"/>
<circle cx="253.8" cy="411.8" r="2.3"/>
<circle cx="254.8" cy="411.5" r="2.3"/>
<circle cx="255.8" cy="411.6" r="2.3"/>
<circle cx="256.8" cy="412.0" r="2.3"/>
<circle cx="257.8" cy="412.5" r="2.3"/>
<circle cx="258.8" cy="413.0" r="2.3"/>
<circle cx="259.8" cy="413.7" r="2.3"/>
<circle cx="260.8" cy="414.4" r="2.3"/>
</g>
<polyline points="50.6,422.2 50.9,422.1 51.2,422.0 51.6,421.8 51.9,421.7 52.2,421.6 52.5,421.5 52.9,421.4 53.2,421.3 53.5,421.3 53.8,421.2 54.2,421.2 54.5,421.1 54.8,421.1 55.1,421.1 55.5,421.0 55.8,421.0 56.1,421.1 56.4,421.1 56.8,421.1 57.1,421.2 57.4,421.3 57.7,421.4 58.1,421.5 58.4,421.6 58.7,421.6 59.0,421.7 59.4,421.8 59.7,421.9 60.0,421.9 60.3,421.9 60.7,421.9 61.0,421.9 61.3,421.7 61.6,421.5 62.0,421.3 62.3,421.0 62.6,420.7 62.9,420.4 63.3,420.0 63.6,419.7 63.9,419.3 64.2,419.0 64.6,418.7 64.9,418.5 65.2,418.3 65.5,418.2 65.9,418.0 66.2,417.9 66.5,417.8 66.8,417.8 67.1,417.8 67.5,417.8 67.8,417.9 68.1,418.0 68.4,418.1 68.8,418.2 69.1,418.3 69.4,418.4 69.7,418.5 70.1,418.6 70.4,418.6 70.7,418.7 71.0,418.7 71.4,418.8 71.7,418.8 72.0,418.7 72.3,418.7 72.7,418.6 73.0,418.4 73.3,418.2 73.6,418.1 74.0,417.8 74.3,417.6 74.6,417.4 74.9,417.1 75.3,416.9 75.6,416.6 75.9,416.4 76.2,416.2 76.6,416.0 76.9,415.8 77.2,415.6 77.5,415.4 77.9,415.1 78.2,414.9 78.5,414.7 78.8,414.4 79.2,414.2 79.5,414.0 79.8,413.8 80.1,413.6 80.5,413.4 80.8,413.3 81.1,413.3 81.4,413.2 81.8,413.2 82.1,413.2 82.4,413.2 82.7,413.3 83.1,413.3 83.4,413.3 83.7,413.4 84.0,413.4 84.3,413.5 84.7,413.5 85.0,413.6 85.3,413.6 85.6,413.6 86.0,413.6 86.3,413.6 86.6,413.6 86.9,413.5 87.3,413.4 87.6,413.1 87.9,412.9 88.2,412.6 88.6,412.3 88.9,411.9 89.2,411.6 89.5,411.2 89.9,410.9 90.2,410.5 90.5,410.2 90.8,409.9 91.2,409.6 91.5,409.2 91.8,408.8 92.1,408.3 92.5,407.9 92.8,407.5 93.1,407.1 93.4,406.9 93.8,406.7 94.1,406.5 94.4,406.3 94.7,406.2 95.1,406.2 95.4,406.2 95.7,406.2 96.0,406.3 96.4,406.5 96.7,406.6 97.0,406.8 97.3,407.2 97.7,407.5 98.0,407.9 98.3,408.2 98.6,408.5 99.0,408.9 99.3,409.1 99.6,409.4 99.9,409.6 100.2,409.8 100.6,409.9 100.9,409.9 101.2,409.5 101.5,408.6 101.9,407.4 102.2,405.9 102.5,404.3 102.8,402.6 103.2,400.9 103.5,399.4 103.8,398.1 104.1,396.9 104.5,395.6 104.8,394.4 105.1,393.2 105.4,392.0 105.8,390.8 106.1,389.7 106.4,388.6 106.7,387.5 107.1,386.6 107.4,385.6 107.7,384.6 108.0,383.8 108.4,383.0 108.7,382.2 109.0,381.6 109.3,381.1 109.7,380.7 110.0,380.4 110.3,380.3 110.6,380.3 111.0,380.6 111.3,381.0 111.6,381.6 111.9,382.3 112.3,383.2 112.6,384.2 112.9,385.3 113.2,386.5 113.6,388.0 113.9,389.9 114.2,391.6 114.5,393.4 114.9,394.9 115.2,396.3 115.5,397.5 115.8,398.4 116.1,399.0 116.5,399.2 116.8,398.0 117.1,394.8 117.4,390.2 117.8,384.7 118.1,378.8 118.4,373.0 118.7,368.0 119.1,363.4 119.4,358.8 119.7,354.1 120.0,349.5 120.4,345.0 120.7,340.5 121.0,336.1 121.3,331.6 121.7,327.1 122.0,322.7 122.3,318.4 122.6,314.2 123.0,310.2 123.3,306.4 123.6,302.9 123.9,299.6 124.3,296.4 124.6,293.4 124.9,290.5 125.2,287.7 125.6,285.0 125.9,282.3 126.2,279.6 126.5,276.9 126.9,274.4 127.2,272.2 127.5,270.3 127.8,268.7 128.2,267.4 128.5,266.1 128.8,265.0 129.1,264.1 129.5,263.5 129.8,263.0 130.1,262.5 130.4,262.1 130.8,261.9 131.1,261.8 131.4,261.9 131.7,262.2 132.0,262.6 132.4,263.0 132.7,263.5 133.0,263.9 133.3,264.5 133.7,265.2 134.0,265.9 134.3,266.6 134.6,267.3 135.0,268.0 135.3,268.6 135.6,269.2 135.9,269.7 136.3,270.3 136.6,270.8 136.9,271.3 137.2,271.9 137.6,272.4 137.9,272.9 138.2,273.5 138.5,274.0 138.9,274.6 139.2,275.3 139.5,275.9 139.8,276.6 140.2,277.3 140.5,278.0 140.8,278.6 141.1,279.4 141.5,280.1 141.8,280.9 142.1,281.7 142.4,282.5 142.8,283.5 143.1,284.4 143.4,285.5 143.7,286.6 144.1,287.9 144.4,289.3 144.7,290.9 145.0,292.8 145.4,295.0 145.7,297.3 146.0,299.9 146.3,302.7 146.7,306.3 147.0,310.8 147.3,315.4 147.6,319.3 148.0,322.2 148.3,325.1 148.6,328.2 148.9,331.3 149.2,334.3 149.6,337.4 149.9,340.5 150.2,343.8 150.5,347.3 150.9,350.9 151.2,354.3 151.5,357.5 151.8,360.5 152.2,363.4 152.5,366.3 152.8,369.0 153.1,371.6 153.5,373.9 153.8,376.1 154.1,378.1 154.4,379.9 154.8,381.7 155.1,383.2 155.4,384.5 155.7,385.8 156.1,387.0 156.4,388.3 156.7,389.5 157.0,390.7 157.4,391.9 157.7,393.1 158.0,394.2 158.3,395.4 158.7,396.5 159.0,397.6 159.3,398.7 159.6,399.8 160.0,400.8 160.3,401.8 160.6,402.9 160.9,403.8 161.3,404.8 161.6,405.8 161.9,406.7 162.2,407.6 162.6,408.5 162.9,409.4 163.2,410.2 163.5,411.1 163.9,411.9 164.2,412.7 164.5,413.7 164.8,414.7 165.1,415.6 165.5,416.3 165.8,416.5 166.1,416.1 166.4,415.2 166.8,414.1 167.1,413.0 167.4,412.0 167.7,411.2 168.1,410.5 168.4,409.7 168.7,409.0 169.0,408.3 169.4,407.7 169.7,407.0 170.0,406.3 170.3,405.7 170.7,405.0 171.0,404.4 171.3,403.7 171.6,403.1 172.0,402.4 172.3,401.8 172.6,401.1 172.9,400.5 173.3,399.8 173.6,399.2 173.9,398.5 174.2,397.9 174.6,397.3 174.9,396.6 175.2,396.0 175.5,395.4 175.9,394.7 176.2,394.1 176.5,393.6 176.8,393.2 177.2,392.9 177.5,392.7 177.8,392.6 178.1,392.6 178.5,392.8 178.8,393.0 179.1,393.4 179.4,393.9 179.8,394.6 180.1,395.3 180.4,396.1 180.7,397.0 181.0,398.0 181.4,399.0 181.7,400.0 182.0,401.3 182.3,402.5 182.7,403.7 183.0,404.9 183.3,406.1 183.6,407.3 184.0,408.5 184.3,409.6 184.6,410.8 184.9,412.0 185.3,413.4 185.6,414.9 185.9,416.2 186.2,416.9 186.6,416.7 186.9,415.4 187.2,413.7 187.5,412.0 187.9,410.5 188.2,408.9 188.5,407.3 188.8,405.6 189.2,403.8 189.5,402.0 189.8,399.9 190.1,397.7 190.5,395.4 190.8,393.1 191.1,390.8 191.4,388.9 191.8,386.9 192.1,384.9 192.4,383.0 192.7,381.2 193.1,379.3 193.4,377.6 193.7,375.9 194.0,374.3 194.4,372.9 194.7,371.5 195.0,370.2 195.3,369.1 195.7,368.2 196.0,367.4 196.3,366.8 196.6,366.3 196.9,366.0 197.3,365.9 197.6,365.9 197.9,366.1 198.2,366.4 198.6,366.8 198.9,367.3 199.2,367.9 199.5,368.6 199.9,369.4 200.2,370.3 200.5,371.2 200.8,372.0 201.2,372.8 201.5,373.5 201.8,374.2 202.1,375.0 202.5,375.8 202.8,376.7 203.1,377.5 203.4,378.3 203.8,379.0 204.1,379.6 204.4,380.1 204.7,380.4 205.1,380.5 205.4,380.4 205.7,380.1 206.0,379.6 206.4,379.0 206.7,378.2 207.0,377.3 207.3,376.3 207.7,375.2 208.0,374.1 208.3,372.9 208.6,371.7 209.0,370.5 209.3,369.2 209.6,368.0 209.9,366.9 210.3,365.9 210.6,364.8 210.9,363.9 211.2,363.0 211.6,362.1 211.9,361.1 212.2,360.0 212.5,359.0 212.8,357.9 213.2,356.9 213.5,355.9 213.8,355.0 214.1,354.1 214.5,353.3 214.8,352.6 215.1,351.9 215.4,351.2 215.8,350.7 216.1,350.2 216.4,349.8 216.7,349.5 217.1,349.3 217.4,349.2 217.7,349.1 218.0,349.1 218.4,349.2 218.7,349.4 219.0,349.6 219.3,349.8 219.7,350.1 220.0,350.5 220.3,350.9 220.6,351.3 221.0,351.8 221.3,352.3 221.6,352.8 221.9,353.4 222.3,354.0 222.6,354.6 222.9,355.3 223.2,356.0 223.6,356.6 223.9,357.3 224.2,358.1 224.5,358.8 224.9,359.5 225.2,360.2 225.5,361.0 225.8,361.7 226.2,362.4 226.5,363.2 226.8,363.9 227.1,364.6 227.5,365.5 227.8,366.3 228.1,367.2 228.4,368.1 228.8,369.1 229.1,370.0 229.4,371.0 229.7,372.1 230.0,373.1 230.4,374.2 230.7,375.3 231.0,376.5 231.3,377.6 231.7,378.8 232.0,380.0 232.3,381.2 232.6,382.5 233.0,383.7 233.3,385.0 233.6,386.2 233.9,387.5 234.3,388.8 234.6,390.0 234.9,391.3 235.2,392.7 235.6,394.1 235.9,395.6 236.2,397.0 236.5,398.5 236.9,400.0 237.2,401.6 237.5,403.3 237.8,405.0 238.2,406.7 238.5,408.4 238.8,410.1 239.1,411.7 239.5,413.3 239.8,414.7 240.1,416.1 240.4,417.4 240.8,418.6 241.1,419.7 241.4,420.6 241.7,421.3 242.1,422.0 242.4,422.6 242.7,422.8 243.0,422.8 243.4,422.5 243.7,422.2 244.0,421.7 244.3,421.2 244.7,420.6 245.0,420.0 245.3,419.4 245.6,418.8 245.9,418.4 246.3,418.0 246.6,417.7 246.9,417.3 247.2,417.0 247.6,416.7 247.9,416.5 248.2,416.3 248.5,416.1 248.9,415.9 249.2,415.8 249.5,415.7 249.8,415.5 250.2,415.4 250.5,415.4 250.8,415.3 251.1,415.3 251.5,415.3 251.8,415.3 252.1,415.3 252.4,415.3 252.8,415.3 253.1,415.4 253.4,415.4 253.7,415.4 254.1,415.5 254.4,415.5 254.7,415.5 255.0,415.6 255.4,415.7 255.7,415.7 256.0,415.8 256.3,415.9 256.7,416.0 257.0,416.1 257.3,416.2 257.6,416.3 258.0,416.5 258.3,416.6 258.6,416.8 258.9,417.0 259.3,417.1 259.6,417.3 259.9,417.5 260.2,417.8 260.6,418.0 260.9,418.2 261.2,418.5 261.5,418.8" fill="none" stroke="#f20a80" stroke-width="2.3" stroke-linejoin="round"/>
</g>
<g clip-path="url(#cpe)">
<polyline points="261.6,423.3 262.6,423.2 263.6,423.1 264.6,423.0 265.6,422.9 266.6,422.8 267.6,422.7 268.6,422.6 269.6,422.4 270.6,422.3 271.6,422.1 272.6,421.9 273.6,421.7 274.6,421.5 275.6,421.3 276.6,421.0 277.6,420.8 278.6,420.6 279.6,420.3 280.6,420.0 281.6,419.7 282.6,419.4 283.6,419.1 284.6,418.8 285.6,418.5 286.6,418.1 287.6,417.8 288.5,417.5 289.5,417.1 290.5,416.8 291.5,416.4 292.5,416.0 293.5,415.5 294.5,414.9 295.5,414.2 296.5,413.3 297.5,412.3 298.5,411.2 299.5,410.1 300.5,408.9 301.5,407.6 302.5,406.1 303.5,404.8 304.5,403.9 305.5,403.3 306.5,403.4 307.5,404.6 308.5,406.3 309.5,408.7 310.5,412.4 311.5,416.3 312.5,419.9 313.5,422.8 314.4,420.0 315.4,414.3 316.4,407.1 317.4,399.3 318.4,393.2 319.4,388.6 320.4,384.7 321.4,382.8 322.4,383.4 323.4,385.3 324.4,388.0 325.4,391.0 326.4,395.0 327.4,397.3 328.4,392.5 329.4,379.0 330.4,364.7 331.4,350.4 332.4,335.3 333.4,320.8 334.4,308.0 335.4,296.2 336.4,286.5 337.4,278.1 338.4,271.4 339.4,267.3 340.4,265.4 341.3,264.5 342.3,265.2 343.3,267.1 344.3,270.3 345.3,272.6 346.3,274.0 347.3,275.2 348.3,276.4 349.3,277.7 350.3,279.0 351.3,280.3 352.3,282.3 353.3,286.1 354.3,289.5 355.3,293.6 356.3,300.5 357.3,309.5 358.3,318.7 359.3,327.7 360.3,337.2 361.3,347.3 362.3,357.7 363.3,366.7 364.3,374.4 365.3,380.4 366.3,384.9 367.2,388.4 368.2,392.2 369.2,396.1 370.2,400.0 371.2,404.1 372.2,409.2 373.2,414.3 374.2,418.5 375.2,420.9 376.2,420.7 377.2,418.9 378.2,416.0 379.2,412.5 380.2,408.6 381.2,405.0 382.2,401.7 383.2,398.2 384.2,394.7 385.2,391.4 386.2,388.4 387.2,385.4 388.2,383.4 389.2,383.4 390.2,384.4 391.2,386.0 392.2,388.0 393.2,391.0 394.1,395.2 395.1,400.4 396.1,406.3 397.1,412.4 398.1,419.8 399.1,420.8 400.1,413.1 401.1,405.6 402.1,398.3 403.1,391.0 404.1,382.9 405.1,378.0 406.1,375.3 407.1,373.4 408.1,371.8 409.1,371.1 410.1,372.2 411.1,374.1 412.1,376.2 413.1,379.0 414.1,381.8 415.1,383.7 416.1,385.2 417.1,385.9 418.1,385.2 419.1,383.5 420.0,381.3 421.0,377.3 422.0,373.3 423.0,369.0 424.0,364.8 425.0,361.4 426.0,358.6 427.0,357.4 428.0,356.7 429.0,356.5 430.0,357.0 431.0,357.8 432.0,359.4 433.0,361.4 434.0,363.4 435.0,365.5 436.0,367.7 437.0,370.0 438.0,372.3 439.0,374.8 440.0,377.4 441.0,380.0 442.0,382.7 443.0,385.5 444.0,388.3 445.0,391.3 445.9,394.3 446.9,397.4 447.9,400.4 448.9,403.2 449.9,406.1 450.9,409.0 451.9,411.7 452.9,413.8 453.9,415.4 454.9,416.6 455.9,416.8 456.9,416.6 457.9,416.2 458.9,415.7 459.9,415.0 460.9,414.1 461.9,413.3 462.9,412.7 463.9,412.2 464.9,411.8 465.9,411.5 466.9,411.6 467.9,412.0 468.9,412.5 469.9,413.0 470.9,413.7 471.9,414.4" fill="none" stroke="#000" stroke-width="2"/>
<g fill="#fff" stroke="#000" stroke-width="0.75">
<circle cx="261.6" cy="423.3" r="2.3"/>
<circle cx="262.6" cy="423.2" r="2.3"/>
<circle cx="263.6" cy="423.1" r="2.3"/>
<circle cx="264.6" cy="423.0" r="2.3"/>
<circle cx="265.6" cy="422.9" r="2.3"/>
<circle cx="266.6" cy="422.8" r="2.3"/>
<circle cx="267.6" cy="422.7" r="2.3"/>
<circle cx="268.6" cy="422.6" r="2.3"/>
<circle cx="269.6" cy="422.4" r="2.3"/>
<circle cx="270.6" cy="422.3" r="2.3"/>
<circle cx="271.6" cy="422.1" r="2.3"/>
<circle cx="272.6" cy="421.9" r="2.3"/>
<circle cx="273.6" cy="421.7" r="2.3"/>
<circle cx="274.6" cy="421.5" r="2.3"/>
<circle cx="275.6" cy="421.3" r="2.3"/>
<circle cx="276.6" cy="421.0" r="2.3"/>
<circle cx="277.6" cy="420.8" r="2.3"/>
<circle cx="278.6" cy="420.6" r="2.3"/>
<circle cx="279.6" cy="420.3" r="2.3"/>
<circle cx="280.6" cy="420.0" r="2.3"/>
<circle cx="281.6" cy="419.7" r="2.3"/>
<circle cx="282.6" cy="419.4" r="2.3"/>
<circle cx="283.6" cy="419.1" r="2.3"/>
<circle cx="284.6" cy="418.8" r="2.3"/>
<circle cx="285.6" cy="418.5" r="2.3"/>
<circle cx="286.6" cy="418.1" r="2.3"/>
<circle cx="287.6" cy="417.8" r="2.3"/>
<circle cx="288.5" cy="417.5" r="2.3"/>
<circle cx="289.5" cy="417.1" r="2.3"/>
<circle cx="290.5" cy="416.8" r="2.3"/>
<circle cx="291.5" cy="416.4" r="2.3"/>
<circle cx="292.5" cy="416.0" r="2.3"/>
<circle cx="293.5" cy="415.5" r="2.3"/>
<circle cx="294.5" cy="414.9" r="2.3"/>
<circle cx="295.5" cy="414.2" r="2.3"/>
<circle cx="296.5" cy="413.3" r="2.3"/>
<circle cx="297.5" cy="412.3" r="2.3"/>
<circle cx="298.5" cy="411.2" r="2.3"/>
<circle cx="299.5" cy="410.1" r="2.3"/>
<circle cx="300.5" cy="408.9" r="2.3"/>
<circle cx="301.5" cy="407.6" r="2.3"/>
<circle cx="302.5" cy="406.1" r="2.3"/>
<circle cx="303.5" cy="404.8" r="2.3"/>
<circle cx="304.5" cy="403.9" r="2.3"/>
<circle cx="305.5" cy="403.3" r="2.3"/>
<circle cx="306.5" cy="403.4" r="2.3"/>
<circle cx="307.5" cy="404.6" r="2.3"/>
<circle cx="308.5" cy="406.3" r="2.3"/>
<circle cx="309.5" cy="408.7" r="2.3"/>
<circle cx="310.5" cy="412.4" r="2.3"/>
<circle cx="311.5" cy="416.3" r="2.3"/>
<circle cx="312.5" cy="419.9" r="2.3"/>
<circle cx="313.5" cy="422.8" r="2.3"/>
<circle cx="314.4" cy="420.0" r="2.3"/>
<circle cx="315.4" cy="414.3" r="2.3"/>
<circle cx="316.4" cy="407.1" r="2.3"/>
<circle cx="317.4" cy="399.3" r="2.3"/>
<circle cx="318.4" cy="393.2" r="2.3"/>
<circle cx="319.4" cy="388.6" r="2.3"/>
<circle cx="320.4" cy="384.7" r="2.3"/>
<circle cx="321.4" cy="382.8" r="2.3"/>
<circle cx="322.4" cy="383.4" r="2.3"/>
<circle cx="323.4" cy="385.3" r="2.3"/>
<circle cx="324.4" cy="388.0" r="2.3"/>
<circle cx="325.4" cy="391.0" r="2.3"/>
<circle cx="326.4" cy="395.0" r="2.3"/>
<circle cx="327.4" cy="397.3" r="2.3"/>
<circle cx="328.4" cy="392.5" r="2.3"/>
<circle cx="329.4" cy="379.0" r="2.3"/>
<circle cx="330.4" cy="364.7" r="2.3"/>
<circle cx="331.4" cy="350.4" r="2.3"/>
<circle cx="332.4" cy="335.3" r="2.3"/>
<circle cx="333.4" cy="320.8" r="2.3"/>
<circle cx="334.4" cy="308.0" r="2.3"/>
<circle cx="335.4" cy="296.2" r="2.3"/>
<circle cx="336.4" cy="286.5" r="2.3"/>
<circle cx="337.4" cy="278.1" r="2.3"/>
<circle cx="338.4" cy="271.4" r="2.3"/>
<circle cx="339.4" cy="267.3" r="2.3"/>
<circle cx="340.4" cy="265.4" r="2.3"/>
<circle cx="341.3" cy="264.5" r="2.3"/>
<circle cx="342.3" cy="265.2" r="2.3"/>
<circle cx="343.3" cy="267.1" r="2.3"/>
<circle cx="344.3" cy="270.3" r="2.3"/>
<circle cx="345.3" cy="272.6" r="2.3"/>
<circle cx="346.3" cy="274.0" r="2.3"/>
<circle cx="347.3" cy="275.2" r="2.3"/>
<circle cx="348.3" cy="276.4" r="2.3"/>
<circle cx="349.3" cy="277.7" r="2.3"/>
<circle cx="350.3" cy="279.0" r="2.3"/>
<circle cx="351.3" cy="280.3" r="2.3"/>
<circle cx="352.3" cy="282.3" r="2.3"/>
<circle cx="353.3" cy="286.1" r="2.3"/>
<circle cx="354.3" cy="289.5" r="2.3"/>
<circle cx="355.3" cy="293.6" r="2.3"/>
<circle cx="356.3" cy="300.5" r="2.3"/>
<circle cx="357.3" cy="309.5" r="2.3"/>
<circle cx="358.3" cy="318.7" r="2.3"/>
<circle cx="359.3" cy="327.7" r="2.3"/>
<circle cx="360.3" cy="337.2" r="2.3"/>
<circle cx="361.3" cy="347.3" r="2.3"/>
<circle cx="362.3" cy="357.7" r="2.3"/>
<circle cx="363.3" cy="366.7" r="2.3"/>
<circle cx="364.3" cy="374.4" r="2.3"/>
<circle cx="365.3" cy="380.4" r="2.3"/>
<circle cx="366.3" cy="384.9" r="2.3"/>
<circle cx="367.2" cy="388.4" r="2.3"/>
<circle cx="368.2" cy="392.2" r="2.3"/>
<circle cx="369.2" cy="396.1" r="2.3"/>
<circle cx="370.2" cy="400.0" r="2.3"/>
<circle cx="371.2" cy="404.1" r="2.3"/>
<circle cx="372.2" cy="409.2" r="2.3"/>
<circle cx="373.2" cy="414.3" r="2.3"/>
<circle cx="374.2" cy="418.5" r="2.3"/>
<circle cx="375.2" cy="420.9" r="2.3"/>
<circle cx="376.2" cy="420.7" r="2.3"/>
<circle cx="377.2" cy="418.9" r="2.3"/>
<circle cx="378.2" cy="416.0" r="2.3"/>
<circle cx="379.2" cy="412.5" r="2.3"/>
<circle cx="380.2" cy="408.6" r="2.3"/>
<circle cx="381.2" cy="405.0" r="2.3"/>
<circle cx="382.2" cy="401.7" r="2.3"/>
<circle cx="383.2" cy="398.2" r="2.3"/>
<circle cx="384.2" cy="394.7" r="2.3"/>
<circle cx="385.2" cy="391.4" r="2.3"/>
<circle cx="386.2" cy="388.4" r="2.3"/>
<circle cx="387.2" cy="385.4" r="2.3"/>
<circle cx="388.2" cy="383.4" r="2.3"/>
<circle cx="389.2" cy="383.4" r="2.3"/>
<circle cx="390.2" cy="384.4" r="2.3"/>
<circle cx="391.2" cy="386.0" r="2.3"/>
<circle cx="392.2" cy="388.0" r="2.3"/>
<circle cx="393.2" cy="391.0" r="2.3"/>
<circle cx="394.1" cy="395.2" r="2.3"/>
<circle cx="395.1" cy="400.4" r="2.3"/>
<circle cx="396.1" cy="406.3" r="2.3"/>
<circle cx="397.1" cy="412.4" r="2.3"/>
<circle cx="398.1" cy="419.8" r="2.3"/>
<circle cx="399.1" cy="420.8" r="2.3"/>
<circle cx="400.1" cy="413.1" r="2.3"/>
<circle cx="401.1" cy="405.6" r="2.3"/>
<circle cx="402.1" cy="398.3" r="2.3"/>
<circle cx="403.1" cy="391.0" r="2.3"/>
<circle cx="404.1" cy="382.9" r="2.3"/>
<circle cx="405.1" cy="378.0" r="2.3"/>
<circle cx="406.1" cy="375.3" r="2.3"/>
<circle cx="407.1" cy="373.4" r="2.3"/>
<circle cx="408.1" cy="371.8" r="2.3"/>
<circle cx="409.1" cy="371.1" r="2.3"/>
<circle cx="410.1" cy="372.2" r="2.3"/>
<circle cx="411.1" cy="374.1" r="2.3"/>
<circle cx="412.1" cy="376.2" r="2.3"/>
<circle cx="413.1" cy="379.0" r="2.3"/>
<circle cx="414.1" cy="381.8" r="2.3"/>
<circle cx="415.1" cy="383.7" r="2.3"/>
<circle cx="416.1" cy="385.2" r="2.3"/>
<circle cx="417.1" cy="385.9" r="2.3"/>
<circle cx="418.1" cy="385.2" r="2.3"/>
<circle cx="419.1" cy="383.5" r="2.3"/>
<circle cx="420.0" cy="381.3" r="2.3"/>
<circle cx="421.0" cy="377.3" r="2.3"/>
<circle cx="422.0" cy="373.3" r="2.3"/>
<circle cx="423.0" cy="369.0" r="2.3"/>
<circle cx="424.0" cy="364.8" r="2.3"/>
<circle cx="425.0" cy="361.4" r="2.3"/>
<circle cx="426.0" cy="358.6" r="2.3"/>
<circle cx="427.0" cy="357.4" r="2.3"/>
<circle cx="428.0" cy="356.7" r="2.3"/>
<circle cx="429.0" cy="356.5" r="2.3"/>
<circle cx="430.0" cy="357.0" r="2.3"/>
<circle cx="431.0" cy="357.8" r="2.3"/>
<circle cx="432.0" cy="359.4" r="2.3"/>
<circle cx="433.0" cy="361.4" r="2.3"/>
<circle cx="434.0" cy="363.4" r="2.3"/>
<circle cx="435.0" cy="365.5" r="2.3"/>
<circle cx="436.0" cy="367.7" r="2.3"/>
<circle cx="437.0" cy="370.0" r="2.3"/>
<circle cx="438.0" cy="372.3" r="2.3"/>
<circle cx="439.0" cy="374.8" r="2.3"/>
<circle cx="440.0" cy="377.4" r="2.3"/>
<circle cx="441.0" cy="380.0" r="2.3"/>
<circle cx="442.0" cy="382.7" r="2.3"/>
<circle cx="443.0" cy="385.5" r="2.3"/>
<circle cx="444.0" cy="388.3" r="2.3"/>
<circle cx="445.0" cy="391.3" r="2.3"/>
<circle cx="445.9" cy="394.3" r="2.3"/>
<circle cx="446.9" cy="397.4" r="2.3"/>
<circle cx="447.9" cy="400.4" r="2.3"/>
<circle cx="448.9" cy="403.2" r="2.3"/>
<circle cx="449.9" cy="406.1" r="2.3"/>
<circle cx="450.9" cy="409.0" r="2.3"/>
<circle cx="451.9" cy="411.7" r="2.3"/>
<circle cx="452.9" cy="413.8" r="2.3"/>
<circle cx="453.9" cy="415.4" r="2.3"/>
<circle cx="454.9" cy="416.6" r="2.3"/>
<circle cx="455.9" cy="416.8" r="2.3"/>
<circle cx="456.9" cy="416.6" r="2.3"/>
<circle cx="457.9" cy="416.2" r="2.3"/>
<circle cx="458.9" cy="415.7" r="2.3"/>
<circle cx="459.9" cy="415.0" r="2.3"/>
<circle cx="460.9" cy="414.1" r="2.3"/>
<circle cx="461.9" cy="413.3" r="2.3"/>
<circle cx="462.9" cy="412.7" r="2.3"/>
<circle cx="463.9" cy="412.2" r="2.3"/>
<circle cx="464.9" cy="411.8" r="2.3"/>
<circle cx="465.9" cy="411.5" r="2.3"/>
<circle cx="466.9" cy="411.6" r="2.3"/>
<circle cx="467.9" cy="412.0" r="2.3"/>
<circle cx="468.9" cy="412.5" r="2.3"/>
<circle cx="469.9" cy="413.0" r="2.3"/>
<circle cx="470.9" cy="413.7" r="2.3"/>
<circle cx="471.9" cy="414.4" r="2.3"/>
</g>
<polyline points="261.6,422.2 262.0,422.2 262.3,422.1 262.6,422.0 262.9,422.0 263.3,421.9 263.6,421.9 263.9,421.8 264.2,421.8 264.6,421.8 264.9,421.7 265.2,421.7 265.5,421.7 265.9,421.7 266.2,421.6 266.5,421.6 266.8,421.6 267.2,421.6 267.5,421.7 267.8,421.7 268.1,421.8 268.5,421.8 268.8,421.9 269.1,421.9 269.4,422.0 269.8,422.0 270.1,422.1 270.4,422.2 270.7,422.2 271.1,422.2 271.4,422.2 271.7,422.2 272.0,422.2 272.4,422.0 272.7,421.8 273.0,421.6 273.3,421.3 273.7,421.0 274.0,420.7 274.3,420.3 274.6,420.0 275.0,419.6 275.3,419.3 275.6,419.0 275.9,418.8 276.3,418.6 276.6,418.5 276.9,418.3 277.2,418.2 277.6,418.1 277.9,418.1 278.2,418.1 278.5,418.1 278.8,418.2 279.2,418.3 279.5,418.4 279.8,418.5 280.1,418.6 280.5,418.7 280.8,418.8 281.1,418.9 281.4,418.9 281.8,419.0 282.1,419.0 282.4,419.1 282.7,419.1 283.1,419.0 283.4,419.0 283.7,418.9 284.0,418.7 284.4,418.6 284.7,418.4 285.0,418.1 285.3,417.9 285.7,417.7 286.0,417.4 286.3,417.2 286.6,416.9 287.0,416.7 287.3,416.5 287.6,416.3 287.9,416.1 288.3,415.9 288.6,415.7 288.9,415.4 289.2,415.2 289.6,415.0 289.9,414.7 290.2,414.5 290.5,414.3 290.9,414.1 291.2,413.9 291.5,413.8 291.8,413.6 292.2,413.6 292.5,413.5 292.8,413.5 293.1,413.5 293.5,413.5 293.8,413.6 294.1,413.6 294.4,413.7 294.7,413.8 295.1,413.8 295.4,413.9 295.7,413.9 296.0,414.0 296.4,414.0 296.7,414.1 297.0,414.1 297.3,414.1 297.7,414.1 298.0,414.0 298.3,413.8 298.6,413.6 299.0,413.4 299.3,413.1 299.6,412.8 299.9,412.5 300.3,412.1 300.6,411.8 300.9,411.4 301.2,411.1 301.6,410.8 301.9,410.5 302.2,410.2 302.5,409.8 302.9,409.4 303.2,408.9 303.5,408.5 303.8,408.1 304.2,407.7 304.5,407.4 304.8,407.2 305.1,407.0 305.5,406.9 305.8,406.8 306.1,406.7 306.4,406.7 306.8,406.7 307.1,406.8 307.4,406.9 307.7,407.1 308.1,407.3 308.4,407.6 308.7,407.9 309.0,408.3 309.4,408.6 309.7,408.9 310.0,409.2 310.3,409.5 310.6,409.7 311.0,409.9 311.3,410.1 311.6,410.2 311.9,410.2 312.3,409.8 312.6,408.9 312.9,407.6 313.2,406.1 313.6,404.4 313.9,402.7 314.2,400.9 314.5,399.5 314.9,398.2 315.2,396.9 315.5,395.6 315.8,394.4 316.2,393.2 316.5,392.0 316.8,390.9 317.1,389.8 317.5,388.7 317.8,387.7 318.1,386.7 318.4,385.8 318.8,385.0 319.1,384.2 319.4,383.5 319.7,382.9 320.1,382.3 320.4,381.9 320.7,381.6 321.0,381.5 321.4,381.5 321.7,381.7 322.0,382.0 322.3,382.6 322.7,383.2 323.0,384.1 323.3,385.0 323.6,386.1 324.0,387.2 324.3,388.5 324.6,390.3 324.9,392.0 325.3,393.7 325.6,395.3 325.9,396.7 326.2,397.8 326.5,398.7 326.9,399.3 327.2,399.5 327.5,398.6 327.8,396.1 328.2,392.5 328.5,388.0 328.8,382.9 329.1,377.7 329.5,372.6 329.8,368.0 330.1,363.6 330.4,359.1 330.8,354.4 331.1,349.8 331.4,345.1 331.7,340.5 332.1,335.9 332.4,331.1 332.7,326.4 333.0,321.6 333.4,317.0 333.7,312.6 334.0,308.4 334.3,304.6 334.7,301.2 335.0,297.9 335.3,294.8 335.6,291.9 336.0,289.1 336.3,286.4 336.6,283.7 336.9,280.9 337.3,278.2 337.6,275.6 337.9,273.3 338.2,271.2 338.6,269.5 338.9,268.1 339.2,266.8 339.5,265.6 339.9,264.6 340.2,263.8 340.5,263.2 340.8,262.6 341.2,262.1 341.5,261.6 341.8,261.3 342.1,261.2 342.5,261.3 342.8,261.6 343.1,262.1 343.4,262.6 343.7,263.2 344.1,263.7 344.4,264.3 344.7,265.1 345.0,265.8 345.4,266.6 345.7,267.3 346.0,268.0 346.3,268.6 346.7,269.2 347.0,269.8 347.3,270.4 347.6,271.0 348.0,271.6 348.3,272.2 348.6,272.7 348.9,273.3 349.3,273.9 349.6,274.6 349.9,275.2 350.2,275.9 350.6,276.6 350.9,277.3 351.2,278.0 351.5,278.7 351.9,279.5 352.2,280.2 352.5,281.0 352.8,281.8 353.2,282.7 353.5,283.6 353.8,284.5 354.1,285.6 354.5,286.7 354.8,287.9 355.1,289.2 355.4,290.7 355.8,292.5 356.1,294.3 356.4,296.3 356.7,298.5 357.1,300.8 357.4,303.2 357.7,305.7 358.0,308.8 358.4,312.0 358.7,315.0 359.0,317.9 359.3,320.7 359.6,323.6 360.0,326.6 360.3,329.7 360.6,332.8 360.9,335.9 361.3,338.9 361.6,342.1 361.9,345.5 362.2,349.1 362.6,352.6 362.9,355.9 363.2,359.0 363.5,362.0 363.9,364.9 364.2,367.7 364.5,370.3 364.8,372.8 365.2,375.1 365.5,376.8 365.8,378.2 366.1,379.3 366.5,380.4 366.8,381.3 367.1,382.2 367.4,383.2 367.8,384.2 368.1,385.4 368.4,386.7 368.7,387.9 369.1,389.2 369.4,390.5 369.7,391.8 370.0,393.2 370.4,394.5 370.7,395.9 371.0,397.3 371.3,398.6 371.7,400.0 372.0,401.3 372.3,402.5 372.6,403.8 373.0,405.0 373.3,406.3 373.6,407.5 373.9,408.7 374.3,409.9 374.6,411.1 374.9,412.3 375.2,413.5 375.5,414.6 375.9,415.8 376.2,417.1 376.5,418.5 376.8,419.7 377.2,420.1 377.5,419.6 377.8,418.5 378.1,417.0 378.5,415.8 378.8,414.7 379.1,413.7 379.4,412.6 379.8,411.5 380.1,410.5 380.4,409.5 380.7,408.4 381.1,407.5 381.4,406.6 381.7,405.7 382.0,404.8 382.4,404.0 382.7,403.2 383.0,402.4 383.3,401.7 383.7,401.0 384.0,400.3 384.3,399.6 384.6,399.1 385.0,398.5 385.3,397.9 385.6,397.4 385.9,396.8 386.3,396.3 386.6,395.7 386.9,395.2 387.2,394.6 387.6,394.0 387.9,393.4 388.2,392.7 388.5,392.2 388.9,391.9 389.2,391.5 389.5,391.3 389.8,391.2 390.2,391.2 390.5,391.3 390.8,391.5 391.1,391.9 391.4,392.4 391.8,393.0 392.1,393.7 392.4,394.5 392.7,395.4 393.1,396.4 393.4,397.4 393.7,398.5 394.0,399.8 394.4,401.2 394.7,402.5 395.0,403.7 395.3,404.9 395.7,406.0 396.0,407.1 396.3,408.2 396.6,409.4 397.0,410.5 397.3,411.9 397.6,413.4 397.9,414.5 398.3,414.8 398.6,413.9 398.9,412.2 399.2,410.5 399.6,409.0 399.9,407.5 400.2,405.9 400.5,404.2 400.9,402.5 401.2,400.8 401.5,398.9 401.8,396.9 402.2,394.8 402.5,392.8 402.8,391.1 403.1,389.4 403.5,387.7 403.8,386.1 404.1,384.5 404.4,383.0 404.8,381.5 405.1,380.1 405.4,378.7 405.7,377.5 406.1,376.3 406.4,375.3 406.7,374.3 407.0,373.5 407.4,372.8 407.7,372.2 408.0,371.8 408.3,371.5 408.6,371.4 409.0,371.4 409.3,371.5 409.6,371.7 409.9,372.1 410.3,372.5 410.6,373.0 410.9,373.6 411.2,374.2 411.6,375.0 411.9,375.9 412.2,376.7 412.5,377.4 412.9,378.1 413.2,378.7 413.5,379.5 413.8,380.3 414.2,381.2 414.5,382.0 414.8,382.8 415.1,383.5 415.5,384.1 415.8,384.6 416.1,384.9 416.4,385.0 416.8,384.9 417.1,384.5 417.4,383.9 417.7,383.2 418.1,382.3 418.4,381.2 418.7,380.0 419.0,378.7 419.4,377.4 419.7,376.0 420.0,374.6 420.3,373.2 420.7,371.9 421.0,370.7 421.3,369.5 421.6,368.4 422.0,367.2 422.3,366.2 422.6,365.2 422.9,364.1 423.3,363.0 423.6,361.9 423.9,360.8 424.2,359.8 424.5,358.9 424.9,358.1 425.2,357.3 425.5,356.5 425.8,355.9 426.2,355.3 426.5,354.9 426.8,354.5 427.1,354.2 427.5,354.1 427.8,354.0 428.1,354.1 428.4,354.2 428.8,354.4 429.1,354.8 429.4,355.1 429.7,355.6 430.1,356.1 430.4,356.7 430.7,357.4 431.0,358.0 431.4,358.8 431.7,359.5 432.0,360.3 432.3,361.2 432.7,362.1 433.0,363.0 433.3,363.9 433.6,364.8 434.0,365.7 434.3,366.6 434.6,367.4 434.9,368.2 435.3,369.0 435.6,369.8 435.9,370.6 436.2,371.4 436.6,372.2 436.9,373.0 437.2,373.9 437.5,374.7 437.9,375.6 438.2,376.5 438.5,377.4 438.8,378.3 439.2,379.2 439.5,380.1 439.8,381.0 440.1,381.9 440.4,382.9 440.8,383.8 441.1,384.8 441.4,385.7 441.7,386.7 442.1,387.7 442.4,388.6 442.7,389.6 443.0,390.6 443.4,391.6 443.7,392.6 444.0,393.7 444.3,394.8 444.7,395.9 445.0,397.1 445.3,398.3 445.6,399.5 446.0,400.8 446.3,402.2 446.6,403.5 446.9,404.8 447.3,406.1 447.6,407.4 447.9,408.6 448.2,409.8 448.6,411.0 448.9,412.1 449.2,413.1 449.5,414.0 449.9,414.9 450.2,415.6 450.5,416.2 450.8,416.7 451.2,417.1 451.5,417.4 451.8,417.7 452.1,418.0 452.5,418.3 452.8,418.5 453.1,418.6 453.4,418.7 453.8,418.8 454.1,418.7 454.4,418.7 454.7,418.5 455.1,418.3 455.4,418.1 455.7,417.9 456.0,417.6 456.4,417.3 456.7,417.0 457.0,416.7 457.3,416.4 457.6,416.0 458.0,415.7 458.3,415.4 458.6,415.1 458.9,414.9 459.3,414.8 459.6,414.6 459.9,414.5 460.2,414.3 460.6,414.3 460.9,414.3 461.2,414.3 461.5,414.3 461.9,414.3 462.2,414.3 462.5,414.3 462.8,414.3 463.2,414.3 463.5,414.3 463.8,414.3 464.1,414.3 464.5,414.4 464.8,414.4 465.1,414.4 465.4,414.5 465.8,414.5 466.1,414.6 466.4,414.7 466.7,414.7 467.1,414.8 467.4,414.9 467.7,415.0 468.0,415.1 468.4,415.2 468.7,415.4 469.0,415.5 469.3,415.7 469.7,415.8 470.0,416.0 470.3,416.2 470.6,416.4 471.0,416.6 471.3,416.8 471.6,417.1 471.9,417.3 472.3,417.6 472.6,417.9" fill="none" stroke="#f20a80" stroke-width="2.3" stroke-linejoin="round"/>
</g>
<g clip-path="url(#cpf)">
<polyline points="472.4,423.3 473.4,423.2 474.4,423.1 475.4,423.0 476.4,422.9 477.4,422.8 478.4,422.7 479.4,422.6 480.4,422.4 481.4,422.3 482.4,422.1 483.4,421.9 484.4,421.7 485.4,421.5 486.3,421.3 487.3,421.0 488.3,420.8 489.3,420.6 490.3,420.3 491.3,420.0 492.3,419.7 493.3,419.4 494.3,419.1 495.3,418.8 496.3,418.5 497.3,418.1 498.3,417.8 499.3,417.5 500.3,417.1 501.3,416.8 502.3,416.4 503.3,416.0 504.3,415.5 505.3,414.9 506.3,414.2 507.3,413.3 508.3,412.3 509.3,411.2 510.3,410.1 511.3,408.9 512.2,407.6 513.2,406.1 514.2,404.8 515.2,403.9 516.2,403.3 517.2,403.4 518.2,404.6 519.2,406.3 520.2,408.7 521.2,412.4 522.2,416.3 523.2,419.9 524.2,422.8 525.2,420.0 526.2,414.3 527.2,407.1 528.2,399.3 529.2,393.2 530.2,388.6 531.2,384.7 532.2,382.8 533.2,383.4 534.2,385.3 535.2,388.0 536.2,391.0 537.2,395.0 538.2,397.3 539.1,392.5 540.1,379.0 541.1,364.7 542.1,350.4 543.1,335.3 544.1,320.8 545.1,308.0 546.1,296.2 547.1,286.5 548.1,278.1 549.1,271.4 550.1,267.3 551.1,265.4 552.1,264.5 553.1,265.2 554.1,267.1 555.1,270.3 556.1,272.6 557.1,274.0 558.1,275.2 559.1,276.4 560.1,277.7 561.1,279.0 562.1,280.3 563.1,282.3 564.1,286.1 565.0,289.5 566.0,293.6 567.0,300.5 568.0,309.5 569.0,318.7 570.0,327.7 571.0,337.2 572.0,347.3 573.0,357.7 574.0,366.7 575.0,374.4 576.0,380.4 577.0,384.9 578.0,388.4 579.0,392.2 580.0,396.1 581.0,400.0 582.0,404.1 583.0,409.2 584.0,414.3 585.0,418.5 586.0,420.9 587.0,420.7 588.0,418.9 589.0,416.0 590.0,412.5 590.9,408.6 591.9,405.0 592.9,401.7 593.9,398.2 594.9,394.7 595.9,391.4 596.9,388.4 597.9,385.4 598.9,383.4 599.9,383.4 600.9,384.4 601.9,386.0 602.9,388.0 603.9,391.0 604.9,395.2 605.9,400.4 606.9,406.3 607.9,412.4 608.9,419.8 609.9,420.8 610.9,413.1 611.9,405.6 612.9,398.3 613.9,391.0 614.9,382.9 615.9,378.0 616.9,375.3 617.8,373.4 618.8,371.8 619.8,371.1 620.8,372.2 621.8,374.1 622.8,376.2 623.8,379.0 624.8,381.8 625.8,383.7 626.8,385.2 627.8,385.9 628.8,385.2 629.8,383.5 630.8,381.3 631.8,377.3 632.8,373.3 633.8,369.0 634.8,364.8 635.8,361.4 636.8,358.6 637.8,357.4 638.8,356.7 639.8,356.5 640.8,357.0 641.8,357.8 642.8,359.4 643.7,361.4 644.7,363.4 645.7,365.5 646.7,367.7 647.7,370.0 648.7,372.3 649.7,374.8 650.7,377.4 651.7,380.0 652.7,382.7 653.7,385.5 654.7,388.3 655.7,391.3 656.7,394.3 657.7,397.4 658.7,400.4 659.7,403.2 660.7,406.1 661.7,409.0 662.7,411.7 663.7,413.8 664.7,415.4 665.7,416.6 666.7,416.8 667.7,416.6 668.7,416.2 669.7,415.7 670.6,415.0 671.6,414.1 672.6,413.3 673.6,412.7 674.6,412.2 675.6,411.8 676.6,411.5 677.6,411.6 678.6,412.0 679.6,412.5 680.6,413.0 681.6,413.7 682.6,414.4" fill="none" stroke="#000" stroke-width="2"/>
<g fill="#fff" stroke="#000" stroke-width="0.75">
<circle cx="472.4" cy="423.3" r="2.3"/>
<circle cx="473.4" cy="423.2" r="2.3"/>
<circle cx="474.4" cy="423.1" r="2.3"/>
<circle cx="475.4" cy="423.0" r="2.3"/>
<circle cx="476.4" cy="422.9" r="2.3"/>
<circle cx="477.4" cy="422.8" r="2.3"/>
<circle cx="478.4" cy="422.7" r="2.3"/>
<circle cx="479.4" cy="422.6" r="2.3"/>
<circle cx="480.4" cy="422.4" r="2.3"/>
<circle cx="481.4" cy="422.3" r="2.3"/>
<circle cx="482.4" cy="422.1" r="2.3"/>
<circle cx="483.4" cy="421.9" r="2.3"/>
<circle cx="484.4" cy="421.7" r="2.3"/>
<circle cx="485.4" cy="421.5" r="2.3"/>
<circle cx="486.3" cy="421.3" r="2.3"/>
<circle cx="487.3" cy="421.0" r="2.3"/>
<circle cx="488.3" cy="420.8" r="2.3"/>
<circle cx="489.3" cy="420.6" r="2.3"/>
<circle cx="490.3" cy="420.3" r="2.3"/>
<circle cx="491.3" cy="420.0" r="2.3"/>
<circle cx="492.3" cy="419.7" r="2.3"/>
<circle cx="493.3" cy="419.4" r="2.3"/>
<circle cx="494.3" cy="419.1" r="2.3"/>
<circle cx="495.3" cy="418.8" r="2.3"/>
<circle cx="496.3" cy="418.5" r="2.3"/>
<circle cx="497.3" cy="418.1" r="2.3"/>
<circle cx="498.3" cy="417.8" r="2.3"/>
<circle cx="499.3" cy="417.5" r="2.3"/>
<circle cx="500.3" cy="417.1" r="2.3"/>
<circle cx="501.3" cy="416.8" r="2.3"/>
<circle cx="502.3" cy="416.4" r="2.3"/>
<circle cx="503.3" cy="416.0" r="2.3"/>
<circle cx="504.3" cy="415.5" r="2.3"/>
<circle cx="505.3" cy="414.9" r="2.3"/>
<circle cx="506.3" cy="414.2" r="2.3"/>
<circle cx="507.3" cy="413.3" r="2.3"/>
<circle cx="508.3" cy="412.3" r="2.3"/>
<circle cx="509.3" cy="411.2" r="2.3"/>
<circle cx="510.3" cy="410.1" r="2.3"/>
<circle cx="511.3" cy="408.9" r="2.3"/>
<circle cx="512.2" cy="407.6" r="2.3"/>
<circle cx="513.2" cy="406.1" r="2.3"/>
<circle cx="514.2" cy="404.8" r="2.3"/>
<circle cx="515.2" cy="403.9" r="2.3"/>
<circle cx="516.2" cy="403.3" r="2.3"/>
<circle cx="517.2" cy="403.4" r="2.3"/>
<circle cx="518.2" cy="404.6" r="2.3"/>
<circle cx="519.2" cy="406.3" r="2.3"/>
<circle cx="520.2" cy="408.7" r="2.3"/>
<circle cx="521.2" cy="412.4" r="2.3"/>
<circle cx="522.2" cy="416.3" r="2.3"/>
<circle cx="523.2" cy="419.9" r="2.3"/>
<circle cx="524.2" cy="422.8" r="2.3"/>
<circle cx="525.2" cy="420.0" r="2.3"/>
<circle cx="526.2" cy="414.3" r="2.3"/>
<circle cx="527.2" cy="407.1" r="2.3"/>
<circle cx="528.2" cy="399.3" r="2.3"/>
<circle cx="529.2" cy="393.2" r="2.3"/>
<circle cx="530.2" cy="388.6" r="2.3"/>
<circle cx="531.2" cy="384.7" r="2.3"/>
<circle cx="532.2" cy="382.8" r="2.3"/>
<circle cx="533.2" cy="383.4" r="2.3"/>
<circle cx="534.2" cy="385.3" r="2.3"/>
<circle cx="535.2" cy="388.0" r="2.3"/>
<circle cx="536.2" cy="391.0" r="2.3"/>
<circle cx="537.2" cy="395.0" r="2.3"/>
<circle cx="538.2" cy="397.3" r="2.3"/>
<circle cx="539.1" cy="392.5" r="2.3"/>
<circle cx="540.1" cy="379.0" r="2.3"/>
<circle cx="541.1" cy="364.7" r="2.3"/>
<circle cx="542.1" cy="350.4" r="2.3"/>
<circle cx="543.1" cy="335.3" r="2.3"/>
<circle cx="544.1" cy="320.8" r="2.3"/>
<circle cx="545.1" cy="308.0" r="2.3"/>
<circle cx="546.1" cy="296.2" r="2.3"/>
<circle cx="547.1" cy="286.5" r="2.3"/>
<circle cx="548.1" cy="278.1" r="2.3"/>
<circle cx="549.1" cy="271.4" r="2.3"/>
<circle cx="550.1" cy="267.3" r="2.3"/>
<circle cx="551.1" cy="265.4" r="2.3"/>
<circle cx="552.1" cy="264.5" r="2.3"/>
<circle cx="553.1" cy="265.2" r="2.3"/>
<circle cx="554.1" cy="267.1" r="2.3"/>
<circle cx="555.1" cy="270.3" r="2.3"/>
<circle cx="556.1" cy="272.6" r="2.3"/>
<circle cx="557.1" cy="274.0" r="2.3"/>
<circle cx="558.1" cy="275.2" r="2.3"/>
<circle cx="559.1" cy="276.4" r="2.3"/>
<circle cx="560.1" cy="277.7" r="2.3"/>
<circle cx="561.1" cy="279.0" r="2.3"/>
<circle cx="562.1" cy="280.3" r="2.3"/>
<circle cx="563.1" cy="282.3" r="2.3"/>
<circle cx="564.1" cy="286.1" r="2.3"/>
<circle cx="565.0" cy="289.5" r="2.3"/>
<circle cx="566.0" cy="293.6" r="2.3"/>
<circle cx="567.0" cy="300.5" r="2.3"/>
<circle cx="568.0" cy="309.5" r="2.3"/>
<circle cx="569.0" cy="318.7" r="2.3"/>
<circle cx="570.0" cy="327.7" r="2.3"/>
<circle cx="571.0" cy="337.2" r="2.3"/>
<circle cx="572.0" cy="347.3" r="2.3"/>
<circle cx="573.0" cy="357.7" r="2.3"/>
<circle cx="574.0" cy="366.7" r="2.3"/>
<circle cx="575.0" cy="374.4" r="2.3"/>
<circle cx="576.0" cy="380.4" r="2.3"/>
<circle cx="577.0" cy="384.9" r="2.3"/>
<circle cx="578.0" cy="388.4" r="2.3"/>
<circle cx="579.0" cy="392.2" r="2.3"/>
<circle cx="580.0" cy="396.1" r="2.3"/>
<circle cx="581.0" cy="400.0" r="2.3"/>
<circle cx="582.0" cy="404.1" r="2.3"/>
<circle cx="583.0" cy="409.2" r="2.3"/>
<circle cx="584.0" cy="414.3" r="2.3"/>
<circle cx="585.0" cy="418.5" r="2.3"/>
<circle cx="586.0" cy="420.9" r="2.3"/>
<circle cx="587.0" cy="420.7" r="2.3"/>
<circle cx="588.0" cy="418.9" r="2.3"/>
<circle cx="589.0" cy="416.0" r="2.3"/>
<circle cx="590.0" cy="412.5" r="2.3"/>
<circle cx="590.9" cy="408.6" r="2.3"/>
<circle cx="591.9" cy="405.0" r="2.3"/>
<circle cx="592.9" cy="401.7" r="2.3"/>
<circle cx="593.9" cy="398.2" r="2.3"/>
<circle cx="594.9" cy="394.7" r="2.3"/>
<circle cx="595.9" cy="391.4" r="2.3"/>
<circle cx="596.9" cy="388.4" r="2.3"/>
<circle cx="597.9" cy="385.4" r="2.3"/>
<circle cx="598.9" cy="383.4" r="2.3"/>
<circle cx="599.9" cy="383.4" r="2.3"/>
<circle cx="600.9" cy="384.4" r="2.3"/>
<circle cx="601.9" cy="386.0" r="2.3"/>
<circle cx="602.9" cy="388.0" r="2.3"/>
<circle cx="603.9" cy="391.0" r="2.3"/>
<circle cx="604.9" cy="395.2" r="2.3"/>
<circle cx="605.9" cy="400.4" r="2.3"/>
<circle cx="606.9" cy="406.3" r="2.3"/>
<circle cx="607.9" cy="412.4" r="2.3"/>
<circle cx="608.9" cy="419.8" r="2.3"/>
<circle cx="609.9" cy="420.8" r="2.3"/>
<circle cx="610.9" cy="413.1" r="2.3"/>
<circle cx="611.9" cy="405.6" r="2.3"/>
<circle cx="612.9" cy="398.3" r="2.3"/>
<circle cx="613.9" cy="391.0" r="2.3"/>
<circle cx="614.9" cy="382.9" r="2.3"/>
<circle cx="615.9" cy="378.0" r="2.3"/>
<circle cx="616.9" cy="375.3" r="2.3"/>
<circle cx="617.8" cy="373.4" r="2.3"/>
<circle cx="618.8" cy="371.8" r="2.3"/>
<circle cx="619.8" cy="371.1" r="2.3"/>
<circle cx="620.8" cy="372.2" r="2.3"/>
<circle cx="621.8" cy="374.1" r="2.3"/>
<circle cx="622.8" cy="376.2" r="2.3"/>
<circle cx="623.8" cy="379.0" r="2.3"/>
<circle cx="624.8" cy="381.8" r="2.3"/>
<circle cx="625.8" cy="383.7" r="2.3"/>
<circle cx="626.8" cy="385.2" r="2.3"/>
<circle cx="627.8" cy="385.9" r="2.3"/>
<circle cx="628.8" cy="385.2" r="2.3"/>
<circle cx="629.8" cy="383.5" r="2.3"/>
<circle cx="630.8" cy="381.3" r="2.3"/>
<circle cx="631.8" cy="377.3" r="2.3"/>
<circle cx="632.8" cy="373.3" r="2.3"/>
<circle cx="633.8" cy="369.0" r="2.3"/>
<circle cx="634.8" cy="364.8" r="2.3"/>
<circle cx="635.8" cy="361.4" r="2.3"/>
<circle cx="636.8" cy="358.6" r="2.3"/>
<circle cx="637.8" cy="357.4" r="2.3"/>
<circle cx="638.8" cy="356.7" r="2.3"/>
<circle cx="639.8" cy="356.5" r="2.3"/>
<circle cx="640.8" cy="357.0" r="2.3"/>
<circle cx="641.8" cy="357.8" r="2.3"/>
<circle cx="642.8" cy="359.4" r="2.3"/>
<circle cx="643.7" cy="361.4" r="2.3"/>
<circle cx="644.7" cy="363.4" r="2.3"/>
<circle cx="645.7" cy="365.5" r="2.3"/>
<circle cx="646.7" cy="367.7" r="2.3"/>
<circle cx="647.7" cy="370.0" r="2.3"/>
<circle cx="648.7" cy="372.3" r="2.3"/>
<circle cx="649.7" cy="374.8" r="2.3"/>
<circle cx="650.7" cy="377.4" r="2.3"/>
<circle cx="651.7" cy="380.0" r="2.3"/>
<circle cx="652.7" cy="382.7" r="2.3"/>
<circle cx="653.7" cy="385.5" r="2.3"/>
<circle cx="654.7" cy="388.3" r="2.3"/>
<circle cx="655.7" cy="391.3" r="2.3"/>
<circle cx="656.7" cy="394.3" r="2.3"/>
<circle cx="657.7" cy="397.4" r="2.3"/>
<circle cx="658.7" cy="400.4" r="2.3"/>
<circle cx="659.7" cy="403.2" r="2.3"/>
<circle cx="660.7" cy="406.1" r="2.3"/>
<circle cx="661.7" cy="409.0" r="2.3"/>
<circle cx="662.7" cy="411.7" r="2.3"/>
<circle cx="663.7" cy="413.8" r="2.3"/>
<circle cx="664.7" cy="415.4" r="2.3"/>
<circle cx="665.7" cy="416.6" r="2.3"/>
<circle cx="666.7" cy="416.8" r="2.3"/>
<circle cx="667.7" cy="416.6" r="2.3"/>
<circle cx="668.7" cy="416.2" r="2.3"/>
<circle cx="669.7" cy="415.7" r="2.3"/>
<circle cx="670.6" cy="415.0" r="2.3"/>
<circle cx="671.6" cy="414.1" r="2.3"/>
<circle cx="672.6" cy="413.3" r="2.3"/>
<circle cx="673.6" cy="412.7" r="2.3"/>
<circle cx="674.6" cy="412.2" r="2.3"/>
<circle cx="675.6" cy="411.8" r="2.3"/>
<circle cx="676.6" cy="411.5" r="2.3"/>
<circle cx="677.6" cy="411.6" r="2.3"/>
<circle cx="678.6" cy="412.0" r="2.3"/>
<circle cx="679.6" cy="412.5" r="2.3"/>
<circle cx="680.6" cy="413.0" r="2.3"/>
<circle cx="681.6" cy="413.7" r="2.3"/>
<circle cx="682.6" cy="414.4" r="2.3"/>
</g>
<polyline points="472.4,422.2 472.7,422.3 473.0,422.3 473.4,422.3 473.7,422.3 474.0,422.3 474.3,422.3 474.7,422.4 475.0,422.4 475.3,422.4 475.6,422.4 476.0,422.4 476.3,422.4 476.6,422.4 476.9,422.4 477.3,422.4 477.6,422.4 477.9,422.4 478.2,422.4 478.6,422.4 478.9,422.4 479.2,422.4 479.5,422.4 479.9,422.4 480.2,422.4 480.5,422.3 480.8,422.3 481.2,422.3 481.5,422.3 481.8,422.3 482.1,422.3 482.5,422.2 482.8,422.2 483.1,422.1 483.4,421.9 483.8,421.7 484.1,421.4 484.4,421.1 484.7,420.8 485.1,420.5 485.4,420.3 485.7,420.0 486.0,419.7 486.4,419.3 486.7,419.0 487.0,418.7 487.3,418.5 487.7,418.4 488.0,418.3 488.3,418.2 488.6,418.1 488.9,418.1 489.3,418.1 489.6,418.2 489.9,418.4 490.2,418.5 490.6,418.7 490.9,418.8 491.2,418.9 491.5,419.0 491.9,419.1 492.2,419.2 492.5,419.2 492.8,419.3 493.2,419.4 493.5,419.4 493.8,419.4 494.1,419.3 494.5,419.2 494.8,419.1 495.1,419.0 495.4,418.8 495.8,418.6 496.1,418.4 496.4,418.2 496.7,417.9 497.1,417.7 497.4,417.5 497.7,417.2 498.0,417.0 498.4,416.8 498.7,416.6 499.0,416.4 499.3,416.2 499.7,416.0 500.0,415.7 500.3,415.5 500.6,415.3 501.0,415.0 501.3,414.8 501.6,414.6 501.9,414.4 502.3,414.2 502.6,414.0 502.9,413.9 503.2,413.8 503.6,413.8 503.9,413.8 504.2,413.8 504.5,413.8 504.8,413.8 505.2,413.7 505.5,413.7 505.8,413.7 506.1,413.7 506.5,413.7 506.8,413.7 507.1,413.7 507.4,413.7 507.8,413.7 508.1,413.7 508.4,413.7 508.7,413.7 509.1,413.7 509.4,413.6 509.7,413.6 510.0,413.5 510.4,413.3 510.7,413.1 511.0,412.8 511.3,412.5 511.7,412.2 512.0,411.9 512.3,411.6 512.6,411.3 513.0,411.0 513.3,410.7 513.6,410.3 513.9,409.9 514.3,409.5 514.6,409.1 514.9,408.7 515.2,408.4 515.6,408.1 515.9,407.9 516.2,407.8 516.5,407.7 516.9,407.6 517.2,407.6 517.5,407.7 517.8,407.8 518.2,408.0 518.5,408.2 518.8,408.4 519.1,408.7 519.5,409.1 519.8,409.6 520.1,410.0 520.4,410.4 520.8,410.8 521.1,411.2 521.4,411.5 521.7,411.7 522.0,411.9 522.4,412.0 522.7,411.9 523.0,411.3 523.3,410.2 523.7,408.9 524.0,407.3 524.3,405.6 524.6,403.8 525.0,402.0 525.3,400.5 525.6,399.1 525.9,397.8 526.3,396.5 526.6,395.2 526.9,393.9 527.2,392.7 527.6,391.5 527.9,390.4 528.2,389.2 528.5,388.2 528.9,387.1 529.2,386.1 529.5,385.2 529.8,384.4 530.2,383.6 530.5,382.9 530.8,382.3 531.1,381.8 531.5,381.5 531.8,381.3 532.1,381.3 532.4,381.4 532.8,381.6 533.1,382.0 533.4,382.5 533.7,383.1 534.1,383.8 534.4,384.7 534.7,385.5 535.0,386.5 535.4,387.6 535.7,388.6 536.0,389.8 536.3,391.1 536.7,392.6 537.0,394.0 537.3,395.2 537.6,396.0 537.9,396.3 538.3,395.9 538.6,395.0 538.9,393.5 539.2,391.6 539.6,388.0 539.9,383.1 540.2,377.8 540.5,373.1 540.9,368.5 541.2,363.9 541.5,359.3 541.8,354.6 542.2,349.9 542.5,345.1 542.8,340.1 543.1,335.2 543.5,330.3 543.8,325.6 544.1,321.0 544.4,316.6 544.8,312.4 545.1,308.4 545.4,304.5 545.7,300.6 546.1,296.8 546.4,293.3 546.7,290.1 547.0,287.2 547.4,284.4 547.7,281.6 548.0,278.9 548.3,276.4 548.7,274.2 549.0,272.1 549.3,270.4 549.6,269.0 550.0,267.8 550.3,266.9 550.6,266.2 550.9,265.7 551.3,265.2 551.6,264.8 551.9,264.6 552.2,264.5 552.6,264.6 552.9,264.9 553.2,265.4 553.5,265.9 553.8,266.6 554.2,267.2 554.5,268.1 554.8,269.3 555.1,270.5 555.5,271.4 555.8,272.1 556.1,272.7 556.4,273.2 556.8,273.6 557.1,274.1 557.4,274.5 557.7,274.9 558.1,275.2 558.4,275.6 558.7,276.0 559.0,276.4 559.4,276.8 559.7,277.2 560.0,277.7 560.3,278.1 560.7,278.5 561.0,278.9 561.3,279.3 561.6,279.7 562.0,280.2 562.3,280.7 562.6,281.3 562.9,282.0 563.3,282.9 563.6,284.1 563.9,285.5 564.2,286.8 564.6,288.0 564.9,289.0 565.2,290.0 565.5,291.1 565.9,292.6 566.2,294.4 566.5,296.5 566.8,298.8 567.2,301.5 567.5,304.4 567.8,307.3 568.1,310.4 568.5,313.5 568.8,316.5 569.1,319.3 569.4,322.2 569.8,325.1 570.1,328.2 570.4,331.3 570.7,334.3 571.0,337.4 571.4,340.5 571.7,343.8 572.0,347.3 572.3,350.9 572.7,354.3 573.0,357.5 573.3,360.5 573.6,363.4 574.0,366.3 574.3,369.0 574.6,371.6 574.9,373.9 575.3,376.1 575.6,378.1 575.9,379.9 576.2,381.7 576.6,383.2 576.9,384.5 577.2,385.6 577.5,386.7 577.9,387.9 578.2,389.1 578.5,390.3 578.8,391.5 579.2,392.8 579.5,394.1 579.8,395.3 580.1,396.6 580.5,397.9 580.8,399.2 581.1,400.5 581.4,401.8 581.8,403.2 582.1,404.6 582.4,406.2 582.7,407.7 583.1,409.2 583.4,410.8 583.7,412.3 584.0,413.8 584.4,415.1 584.7,416.2 585.0,417.1 585.3,417.7 585.7,417.9 586.0,417.8 586.3,417.7 586.6,417.5 586.9,417.3 587.3,417.0 587.6,416.6 587.9,416.2 588.2,415.8 588.6,415.2 588.9,414.7 589.2,414.1 589.5,413.4 589.9,412.8 590.2,411.6 590.5,410.3 590.8,409.0 591.2,407.8 591.5,406.6 591.8,405.4 592.1,404.3 592.5,403.2 592.8,402.2 593.1,401.1 593.4,400.0 593.8,398.8 594.1,397.7 594.4,396.5 594.7,395.4 595.1,394.2 595.4,393.1 595.7,392.1 596.0,391.1 596.4,390.1 596.7,389.2 597.0,388.2 597.3,387.3 597.7,386.5 598.0,385.8 598.3,385.2 598.6,384.8 599.0,384.4 599.3,384.2 599.6,384.1 599.9,384.1 600.3,384.2 600.6,384.5 600.9,384.8 601.2,385.3 601.6,385.8 601.9,386.4 602.2,387.1 602.5,387.9 602.8,388.7 603.2,389.7 603.5,390.7 603.8,391.8 604.1,393.0 604.5,394.3 604.8,395.7 605.1,397.2 605.4,398.7 605.8,400.3 606.1,402.0 606.4,403.7 606.7,405.6 607.1,407.8 607.4,410.0 607.7,412.1 608.0,414.1 608.4,416.0 608.7,417.5 609.0,418.7 609.3,419.4 609.7,419.7 610.0,419.3 610.3,418.2 610.6,416.4 611.0,414.3 611.3,411.7 611.6,408.9 611.9,406.1 612.3,403.2 612.6,400.5 612.9,398.0 613.2,395.7 613.6,393.4 613.9,391.2 614.2,389.1 614.5,387.0 614.9,385.1 615.2,383.3 615.5,381.7 615.8,380.2 616.2,378.8 616.5,377.6 616.8,376.5 617.1,375.6 617.5,374.7 617.8,374.0 618.1,373.4 618.4,372.9 618.7,372.5 619.1,372.2 619.4,372.1 619.7,372.0 620.0,372.1 620.4,372.2 620.7,372.5 621.0,372.9 621.3,373.4 621.7,373.9 622.0,374.6 622.3,375.2 622.6,375.9 623.0,376.6 623.3,377.4 623.6,378.4 623.9,379.3 624.3,380.3 624.6,381.2 624.9,382.0 625.2,382.7 625.6,383.3 625.9,383.9 626.2,384.4 626.5,384.8 626.9,385.3 627.2,385.6 627.5,385.8 627.8,385.9 628.2,385.8 628.5,385.6 628.8,385.2 629.1,384.8 629.5,384.2 629.8,383.6 630.1,382.9 630.4,382.1 630.8,381.4 631.1,380.3 631.4,379.0 631.7,377.6 632.1,376.3 632.4,375.0 632.7,373.7 633.0,372.3 633.4,371.0 633.7,369.5 634.0,368.1 634.3,366.9 634.6,365.8 635.0,364.6 635.3,363.6 635.6,362.6 635.9,361.7 636.3,360.8 636.6,360.1 636.9,359.4 637.2,358.8 637.6,358.3 637.9,357.8 638.2,357.5 638.5,357.2 638.9,357.0 639.2,356.9 639.5,356.8 639.8,356.8 640.2,356.9 640.5,357.1 640.8,357.3 641.1,357.6 641.5,357.9 641.8,358.3 642.1,358.8 642.4,359.3 642.8,359.9 643.1,360.5 643.4,361.2 643.7,362.0 644.1,362.8 644.4,363.6 644.7,364.5 645.0,365.5 645.4,366.6 645.7,367.7 646.0,368.7 646.3,369.7 646.7,370.6 647.0,371.5 647.3,372.4 647.6,373.3 648.0,374.1 648.3,375.0 648.6,375.9 648.9,376.7 649.3,377.5 649.6,378.4 649.9,379.2 650.2,380.0 650.6,380.9 650.9,381.7 651.2,382.6 651.5,383.4 651.8,384.3 652.2,385.1 652.5,386.0 652.8,386.9 653.1,387.8 653.5,388.7 653.8,389.7 654.1,390.7 654.4,391.7 654.8,392.7 655.1,393.7 655.4,394.8 655.7,395.8 656.1,396.9 656.4,398.0 656.7,399.0 657.0,400.1 657.4,401.2 657.7,402.3 658.0,403.3 658.3,404.4 658.7,405.4 659.0,406.5 659.3,407.5 659.6,408.4 660.0,409.4 660.3,410.3 660.6,411.2 660.9,412.2 661.3,413.2 661.6,414.2 661.9,415.3 662.2,416.3 662.6,417.3 662.9,418.2 663.2,419.1 663.5,419.7 663.9,420.3 664.2,420.6 664.5,420.7 664.8,420.7 665.2,420.6 665.5,420.5 665.8,420.3 666.1,420.1 666.5,419.8 666.8,419.5 667.1,419.2 667.4,418.9 667.7,418.6 668.1,418.3 668.4,418.1 668.7,417.8 669.0,417.6 669.4,417.5 669.7,417.3 670.0,417.2 670.3,417.1 670.7,417.1 671.0,417.1 671.3,417.1 671.6,417.1 672.0,417.1 672.3,417.1 672.6,417.1 672.9,417.1 673.3,417.1 673.6,417.1 673.9,417.1 674.2,417.1 674.6,417.1 674.9,417.1 675.2,417.1 675.5,417.1 675.9,417.1 676.2,417.1 676.5,417.2 676.8,417.2 677.2,417.2 677.5,417.3 677.8,417.3 678.1,417.4 678.5,417.5 678.8,417.6 679.1,417.7 679.4,417.8 679.8,417.9 680.1,418.0 680.4,418.1 680.7,418.2 681.1,418.3 681.4,418.4 681.7,418.6 682.0,418.7 682.4,418.8 682.7,419.0 683.0,419.1 683.3,419.2" fill="none" stroke="#f20a80" stroke-width="2.3" stroke-linejoin="round"/>
</g>
<g stroke="#000" stroke-width="1.1" fill="none">
<rect x="50.60" y="1.92" width="632.80" height="421.38"/>
<line x1="261.65" y1="1.92" x2="261.65" y2="423.3"/>
<line x1="472.4" y1="1.92" x2="472.4" y2="423.3"/>
<line x1="50.6" y1="212.2" x2="683.4" y2="212.2"/>
<line x1="66.83" y1="1.92" x2="66.83" y2="4.42"/>
<line x1="66.83" y1="209.70" x2="66.83" y2="214.70"/>
<line x1="66.83" y1="421.10" x2="66.83" y2="423.30"/>
<line x1="83.05" y1="1.92" x2="83.05" y2="6.42"/>
<line x1="83.05" y1="207.70" x2="83.05" y2="216.70"/>
<line x1="83.05" y1="419.70" x2="83.05" y2="423.30"/>
<line x1="99.28" y1="1.92" x2="99.28" y2="4.42"/>
<line x1="99.28" y1="209.70" x2="99.28" y2="214.70"/>
<line x1="99.28" y1="421.10" x2="99.28" y2="423.30"/>
<line x1="115.50" y1="1.92" x2="115.50" y2="6.42"/>
<line x1="115.50" y1="207.70" x2="115.50" y2="216.70"/>
<line x1="115.50" y1="419.70" x2="115.50" y2="423.30"/>
<line x1="131.72" y1="1.92" x2="131.72" y2="4.42"/>
<line x1="131.72" y1="209.70" x2="131.72" y2="214.70"/>
<line x1="131.72" y1="421.10" x2="131.72" y2="423.30"/>
<line x1="147.95" y1="1.92" x2="147.95" y2="6.42"/>
<line x1="147.95" y1="207.70" x2="147.95" y2="216.70"/>
<line x1="147.95" y1="419.70" x2="147.95" y2="423.30"/>
<line x1="164.18" y1="1.92" x2="164.18" y2="4.42"/>
<line x1="164.18" y1="209.70" x2="164.18" y2="214.70"/>
<line x1="164.18" y1="421.10" x2="164.18" y2="423.30"/>
<line x1="180.40" y1="1.92" x2="180.40" y2="6.42"/>
<line x1="180.40" y1="207.70" x2="180.40" y2="216.70"/>
<line x1="180.40" y1="419.70" x2="180.40" y2="423.30"/>
<line x1="196.62" y1="1.92" x2="196.62" y2="4.42"/>
<line x1="196.62" y1="209.70" x2="196.62" y2="214.70"/>
<line x1="196.62" y1="421.10" x2="196.62" y2="423.30"/>
<line x1="212.85" y1="1.92" x2="212.85" y2="6.42"/>
<line x1="212.85" y1="207.70" x2="212.85" y2="216.70"/>
<line x1="212.85" y1="419.70" x2="212.85" y2="423.30"/>
<line x1="229.08" y1="1.92" x2="229.08" y2="4.42"/>
<line x1="229.08" y1="209.70" x2="229.08" y2="214.70"/>
<line x1="229.08" y1="421.10" x2="229.08" y2="423.30"/>
<line x1="245.30" y1="1.92" x2="245.30" y2="6.42"/>
<line x1="245.30" y1="207.70" x2="245.30" y2="216.70"/>
<line x1="245.30" y1="419.70" x2="245.30" y2="423.30"/>
<line x1="277.88" y1="1.92" x2="277.88" y2="4.42"/>
<line x1="277.88" y1="209.70" x2="277.88" y2="214.70"/>
<line x1="277.88" y1="421.10" x2="277.88" y2="423.30"/>
<line x1="294.10" y1="1.92" x2="294.10" y2="6.42"/>
<line x1="294.10" y1="207.70" x2="294.10" y2="216.70"/>
<line x1="294.10" y1="419.70" x2="294.10" y2="423.30"/>
<line x1="310.32" y1="1.92" x2="310.32" y2="4.42"/>
<line x1="310.32" y1="209.70" x2="310.32" y2="214.70"/>
<line x1="310.32" y1="421.10" x2="310.32" y2="423.30"/>
<line x1="326.55" y1="1.92" x2="326.55" y2="6.42"/>
<line x1="326.55" y1="207.70" x2="326.55" y2="216.70"/>
<line x1="326.55" y1="419.70" x2="326.55" y2="423.30"/>
<line x1="342.77" y1="1.92" x2="342.77" y2="4.42"/>
<line x1="342.77" y1="209.70" x2="342.77" y2="214.70"/>
<line x1="342.77" y1="421.10" x2="342.77" y2="423.30"/>
<line x1="359.00" y1="1.92" x2="359.00" y2="6.42"/>
<line x1="359.00" y1="207.70" x2="359.00" y2="216.70"/>
<line x1="359.00" y1="419.70" x2="359.00" y2="423.30"/>
<line x1="375.23" y1="1.92" x2="375.23" y2="4.42"/>
<line x1="375.23" y1="209.70" x2="375.23" y2="214.70"/>
<line x1="375.23" y1="421.10" x2="375.23" y2="423.30"/>
<line x1="391.45" y1="1.92" x2="391.45" y2="6.42"/>
<line x1="391.45" y1="207.70" x2="391.45" y2="216.70"/>
<line x1="391.45" y1="419.70" x2="391.45" y2="423.30"/>
<line x1="407.67" y1="1.92" x2="407.67" y2="4.42"/>
<line x1="407.67" y1="209.70" x2="407.67" y2="214.70"/>
<line x1="407.67" y1="421.10" x2="407.67" y2="423.30"/>
<line x1="423.90" y1="1.92" x2="423.90" y2="6.42"/>
<line x1="423.90" y1="207.70" x2="423.90" y2="216.70"/>
<line x1="423.90" y1="419.70" x2="423.90" y2="423.30"/>
<line x1="440.12" y1="1.92" x2="440.12" y2="4.42"/>
<line x1="440.12" y1="209.70" x2="440.12" y2="214.70"/>
<line x1="440.12" y1="421.10" x2="440.12" y2="423.30"/>
<line x1="456.35" y1="1.92" x2="456.35" y2="6.42"/>
<line x1="456.35" y1="207.70" x2="456.35" y2="216.70"/>
<line x1="456.35" y1="419.70" x2="456.35" y2="423.30"/>
<line x1="488.62" y1="1.92" x2="488.62" y2="4.42"/>
<line x1="488.62" y1="209.70" x2="488.62" y2="214.70"/>
<line x1="488.62" y1="421.10" x2="488.62" y2="423.30"/>
<line x1="504.85" y1="1.92" x2="504.85" y2="6.42"/>
<line x1="504.85" y1="207.70" x2="504.85" y2="216.70"/>
<line x1="504.85" y1="419.70" x2="504.85" y2="423.30"/>
<line x1="521.07" y1="1.92" x2="521.07" y2="4.42"/>
<line x1="521.07" y1="209.70" x2="521.07" y2="214.70"/>
<line x1="521.07" y1="421.10" x2="521.07" y2="423.30"/>
<line x1="537.30" y1="1.92" x2="537.30" y2="6.42"/>
<line x1="537.30" y1="207.70" x2="537.30" y2="216.70"/>
<line x1="537.30" y1="419.70" x2="537.30" y2="423.30"/>
<line x1="553.52" y1="1.92" x2="553.52" y2="4.42"/>
<line x1="553.52" y1="209.70" x2="553.52" y2="214.70"/>
<line x1="553.52" y1="421.10" x2="553.52" y2="423.30"/>
<line x1="569.75" y1="1.92" x2="569.75" y2="6.42"/>
<line x1="569.75" y1="207.70" x2="569.75" y2="216.70"/>
<line x1="569.75" y1="419.70" x2="569.75" y2="423.30"/>
<line x1="585.98" y1="1.92" x2="585.98" y2="4.42"/>
<line x1="585.98" y1="209.70" x2="585.98" y2="214.70"/>
<line x1="585.98" y1="421.10" x2="585.98" y2="423.30"/>
<line x1="602.20" y1="1.92" x2="602.20" y2="6.42"/>
<line x1="602.20" y1="207.70" x2="602.20" y2="216.70"/>
<line x1="602.20" y1="419.70" x2="602.20" y2="423.30"/>
<line x1="618.42" y1="1.92" x2="618.42" y2="4.42"/>
<line x1="618.42" y1="209.70" x2="618.42" y2="214.70"/>
<line x1="618.42" y1="421.10" x2="618.42" y2="423.30"/>
<line x1="634.65" y1="1.92" x2="634.65" y2="6.42"/>
<line x1="634.65" y1="207.70" x2="634.65" y2="216.70"/>
<line x1="634.65" y1="419.70" x2="634.65" y2="423.30"/>
<line x1="650.88" y1="1.92" x2="650.88" y2="4.42"/>
<line x1="650.88" y1="209.70" x2="650.88" y2="214.70"/>
<line x1="650.88" y1="421.10" x2="650.88" y2="423.30"/>
<line x1="667.10" y1="1.92" x2="667.10" y2="6.42"/>
<line x1="667.10" y1="207.70" x2="667.10" y2="216.70"/>
<line x1="667.10" y1="419.70" x2="667.10" y2="423.30"/>
<line x1="50.60" y1="189.67" x2="53.10" y2="189.67"/>
<line x1="259.15" y1="189.67" x2="264.15" y2="189.67"/>
<line x1="469.90" y1="189.67" x2="474.90" y2="189.67"/>
<line x1="680.90" y1="189.67" x2="683.40" y2="189.67"/>
<line x1="50.60" y1="167.14" x2="55.10" y2="167.14"/>
<line x1="257.15" y1="167.14" x2="266.15" y2="167.14"/>
<line x1="467.90" y1="167.14" x2="476.90" y2="167.14"/>
<line x1="678.90" y1="167.14" x2="683.40" y2="167.14"/>
<line x1="50.60" y1="144.61" x2="53.10" y2="144.61"/>
<line x1="259.15" y1="144.61" x2="264.15" y2="144.61"/>
<line x1="469.90" y1="144.61" x2="474.90" y2="144.61"/>
<line x1="680.90" y1="144.61" x2="683.40" y2="144.61"/>
<line x1="50.60" y1="122.08" x2="55.10" y2="122.08"/>
<line x1="257.15" y1="122.08" x2="266.15" y2="122.08"/>
<line x1="467.90" y1="122.08" x2="476.90" y2="122.08"/>
<line x1="678.90" y1="122.08" x2="683.40" y2="122.08"/>
<line x1="50.60" y1="99.55" x2="53.10" y2="99.55"/>
<line x1="259.15" y1="99.55" x2="264.15" y2="99.55"/>
<line x1="469.90" y1="99.55" x2="474.90" y2="99.55"/>
<line x1="680.90" y1="99.55" x2="683.40" y2="99.55"/>
<line x1="50.60" y1="77.02" x2="55.10" y2="77.02"/>
<line x1="257.15" y1="77.02" x2="266.15" y2="77.02"/>
<line x1="467.90" y1="77.02" x2="476.90" y2="77.02"/>
<line x1="678.90" y1="77.02" x2="683.40" y2="77.02"/>
<line x1="50.60" y1="54.49" x2="53.10" y2="54.49"/>
<line x1="259.15" y1="54.49" x2="264.15" y2="54.49"/>
<line x1="469.90" y1="54.49" x2="474.90" y2="54.49"/>
<line x1="680.90" y1="54.49" x2="683.40" y2="54.49"/>
<line x1="50.60" y1="31.96" x2="55.10" y2="31.96"/>
<line x1="257.15" y1="31.96" x2="266.15" y2="31.96"/>
<line x1="467.90" y1="31.96" x2="476.90" y2="31.96"/>
<line x1="678.90" y1="31.96" x2="683.40" y2="31.96"/>
<line x1="50.60" y1="9.43" x2="53.10" y2="9.43"/>
<line x1="259.15" y1="9.43" x2="264.15" y2="9.43"/>
<line x1="469.90" y1="9.43" x2="474.90" y2="9.43"/>
<line x1="680.90" y1="9.43" x2="683.40" y2="9.43"/>
<line x1="50.60" y1="400.68" x2="53.10" y2="400.68"/>
<line x1="259.15" y1="400.68" x2="264.15" y2="400.68"/>
<line x1="469.90" y1="400.68" x2="474.90" y2="400.68"/>
<line x1="680.90" y1="400.68" x2="683.40" y2="400.68"/>
<line x1="50.60" y1="378.06" x2="55.10" y2="378.06"/>
<line x1="257.15" y1="378.06" x2="266.15" y2="378.06"/>
<line x1="467.90" y1="378.06" x2="476.90" y2="378.06"/>
<line x1="678.90" y1="378.06" x2="683.40" y2="378.06"/>
<line x1="50.60" y1="355.44" x2="53.10" y2="355.44"/>
<line x1="259.15" y1="355.44" x2="264.15" y2="355.44"/>
<line x1="469.90" y1="355.44" x2="474.90" y2="355.44"/>
<line x1="680.90" y1="355.44" x2="683.40" y2="355.44"/>
<line x1="50.60" y1="332.82" x2="55.10" y2="332.82"/>
<line x1="257.15" y1="332.82" x2="266.15" y2="332.82"/>
<line x1="467.90" y1="332.82" x2="476.90" y2="332.82"/>
<line x1="678.90" y1="332.82" x2="683.40" y2="332.82"/>
<line x1="50.60" y1="310.20" x2="53.10" y2="310.20"/>
<line x1="259.15" y1="310.20" x2="264.15" y2="310.20"/>
<line x1="469.90" y1="310.20" x2="474.90" y2="310.20"/>
<line x1="680.90" y1="310.20" x2="683.40" y2="310.20"/>
<line x1="50.60" y1="287.58" x2="55.10" y2="287.58"/>
<line x1="257.15" y1="287.58" x2="266.15" y2="287.58"/>
<line x1="467.90" y1="287.58" x2="476.90" y2="287.58"/>
<line x1="678.90" y1="287.58" x2="683.40" y2="287.58"/>
<line x1="50.60" y1="264.96" x2="53.10" y2="264.96"/>
<line x1="259.15" y1="264.96" x2="264.15" y2="264.96"/>
<line x1="469.90" y1="264.96" x2="474.90" y2="264.96"/>
<line x1="680.90" y1="264.96" x2="683.40" y2="264.96"/>
<line x1="50.60" y1="242.34" x2="55.10" y2="242.34"/>
<line x1="257.15" y1="242.34" x2="266.15" y2="242.34"/>
<line x1="467.90" y1="242.34" x2="476.90" y2="242.34"/>
<line x1="678.90" y1="242.34" x2="683.40" y2="242.34"/>
<line x1="50.60" y1="219.72" x2="53.10" y2="219.72"/>
<line x1="259.15" y1="219.72" x2="264.15" y2="219.72"/>
<line x1="469.90" y1="219.72" x2="474.90" y2="219.72"/>
<line x1="680.90" y1="219.72" x2="683.40" y2="219.72"/>
</g>
<g font-family="'Liberation Serif', 'Times New Roman', serif" fill="#000">
<text x="45.3" y="218.6" font-size="19" text-anchor="end">0</text>
<text x="45.3" y="173.5" font-size="19" text-anchor="end">3</text>
<text x="45.3" y="128.5" font-size="19" text-anchor="end">6</text>
<text x="45.3" y="83.4" font-size="19" text-anchor="end">9</text>
<text x="45.3" y="38.4" font-size="19" text-anchor="end">12</text>
<text x="45.3" y="429.7" font-size="19" text-anchor="end">0</text>
<text x="45.3" y="384.5" font-size="19" text-anchor="end">3</text>
<text x="45.3" y="339.2" font-size="19" text-anchor="end">6</text>
<text x="45.3" y="294.0" font-size="19" text-anchor="end">9</text>
<text x="45.3" y="248.7" font-size="19" text-anchor="end">12</text>
<text x="50.6" y="443" font-size="19" text-anchor="middle">0</text>
<text x="83.1" y="443" font-size="19" text-anchor="middle">1</text>
<text x="115.5" y="443" font-size="19" text-anchor="middle">2</text>
<text x="148.0" y="443" font-size="19" text-anchor="middle">3</text>
<text x="180.4" y="443" font-size="19" text-anchor="middle">4</text>
<text x="212.8" y="443" font-size="19" text-anchor="middle">5</text>
<text x="245.3" y="443" font-size="19" text-anchor="middle">6</text>
<text x="155.2" y="465.7" font-size="18.5" text-anchor="middle">r (Å)</text>
<text x="261.6" y="443" font-size="19" text-anchor="middle">0</text>
<text x="294.1" y="443" font-size="19" text-anchor="middle">1</text>
<text x="326.5" y="443" font-size="19" text-anchor="middle">2</text>
<text x="359.0" y="443" font-size="19" text-anchor="middle">3</text>
<text x="391.4" y="443" font-size="19" text-anchor="middle">4</text>
<text x="423.9" y="443" font-size="19" text-anchor="middle">5</text>
<text x="456.4" y="443" font-size="19" text-anchor="middle">6</text>
<text x="367.8" y="465.7" font-size="18.5" text-anchor="middle">r (Å)</text>
<text x="472.4" y="443" font-size="19" text-anchor="middle">0</text>
<text x="504.8" y="443" font-size="19" text-anchor="middle">1</text>
<text x="537.3" y="443" font-size="19" text-anchor="middle">2</text>
<text x="569.8" y="443" font-size="19" text-anchor="middle">3</text>
<text x="602.2" y="443" font-size="19" text-anchor="middle">4</text>
<text x="634.6" y="443" font-size="19" text-anchor="middle">5</text>
<text x="667.1" y="443" font-size="19" text-anchor="middle">6</text>
<text x="579.1" y="465.7" font-size="18.5" text-anchor="middle">r (Å)</text>
<text x="63.8" y="29.7" font-size="19">(a)</text>
<line x1="187.1" y1="30.1" x2="217.4" y2="30.1" stroke="#000" stroke-width="2.1"/>
<circle cx="202.3" cy="30.1" r="2.25" fill="#fff" stroke="#000" stroke-width="0.55"/>
<line x1="187.1" y1="45.9" x2="217.4" y2="45.9" stroke="#f20a80" stroke-width="2.3"/>
<text x="219.8" y="34.4" font-size="13" stroke="#000" stroke-width="0.25">Data</text>
<text x="219.8" y="50.5" font-size="13" stroke="#000" stroke-width="0.25">Fit</text>
<text x="274.8" y="29.7" font-size="19">(b)</text>
<line x1="398.1" y1="30.1" x2="428.4" y2="30.1" stroke="#000" stroke-width="2.1"/>
<circle cx="413.3" cy="30.1" r="2.25" fill="#fff" stroke="#000" stroke-width="0.55"/>
<line x1="398.1" y1="45.9" x2="428.4" y2="45.9" stroke="#f20a80" stroke-width="2.3"/>
<text x="430.8" y="34.4" font-size="13" stroke="#000" stroke-width="0.25">Data</text>
<text x="430.8" y="50.5" font-size="13" stroke="#000" stroke-width="0.25">Fit</text>
<text x="483.7" y="29.7" font-size="19">(c)</text>
<line x1="608.9" y1="30.1" x2="639.2" y2="30.1" stroke="#000" stroke-width="2.1"/>
<circle cx="624.1" cy="30.1" r="2.25" fill="#fff" stroke="#000" stroke-width="0.55"/>
<line x1="608.9" y1="45.9" x2="639.2" y2="45.9" stroke="#f20a80" stroke-width="2.3"/>
<text x="641.6" y="34.4" font-size="13" stroke="#000" stroke-width="0.25">Data</text>
<text x="641.6" y="50.5" font-size="13" stroke="#000" stroke-width="0.25">Fit</text>
<text x="63.8" y="242.2" font-size="19">(d)</text>
<line x1="187.1" y1="240.4" x2="217.4" y2="240.4" stroke="#000" stroke-width="2.1"/>
<circle cx="202.3" cy="240.4" r="2.25" fill="#fff" stroke="#000" stroke-width="0.55"/>
<line x1="187.1" y1="256.2" x2="217.4" y2="256.2" stroke="#f20a80" stroke-width="2.3"/>
<text x="219.8" y="244.7" font-size="13" stroke="#000" stroke-width="0.25">Data</text>
<text x="219.8" y="260.8" font-size="13" stroke="#000" stroke-width="0.25">Fit</text>
<text x="274.8" y="242.2" font-size="19">(e)</text>
<line x1="398.1" y1="240.4" x2="428.4" y2="240.4" stroke="#000" stroke-width="2.1"/>
<circle cx="413.3" cy="240.4" r="2.25" fill="#fff" stroke="#000" stroke-width="0.55"/>
<line x1="398.1" y1="256.2" x2="428.4" y2="256.2" stroke="#f20a80" stroke-width="2.3"/>
<text x="430.8" y="244.7" font-size="13" stroke="#000" stroke-width="0.25">Data</text>
<text x="430.8" y="260.8" font-size="13" stroke="#000" stroke-width="0.25">Fit</text>
<text x="483.7" y="242.2" font-size="19">(f)</text>
<line x1="608.9" y1="240.4" x2="639.2" y2="240.4" stroke="#000" stroke-width="2.1"/>
<circle cx="624.1" cy="240.4" r="2.25" fill="#fff" stroke="#000" stroke-width="0.55"/>
<line x1="608.9" y1="256.2" x2="639.2" y2="256.2" stroke="#f20a80" stroke-width="2.3"/>
<text x="641.6" y="244.7" font-size="13" stroke="#000" stroke-width="0.25">Data</text>
<text x="641.6" y="260.8" font-size="13" stroke="#000" stroke-width="0.25">Fit</text>
<g transform="translate(20.4,102.7) rotate(-90)"><text x="0" y="0" font-size="20" text-anchor="middle">F(k<tspan font-size="12" dy="-7">3</tspan><tspan dy="7">χ)</tspan></text><text x="-30.6" y="-4.4" font-size="21" text-anchor="middle">|</text><text x="30.6" y="-4.4" font-size="21" text-anchor="middle">|</text></g>
<g transform="translate(20.4,313.0) rotate(-90)"><text x="0" y="0" font-size="20" text-anchor="middle">F(k<tspan font-size="12" dy="-7">3</tspan><tspan dy="7">χ)</tspan></text><text x="-30.6" y="-4.4" font-size="21" text-anchor="middle">|</text><text x="30.6" y="-4.4" font-size="21" text-anchor="middle">|</text></g>
</g>
</svg>
</body></html>
